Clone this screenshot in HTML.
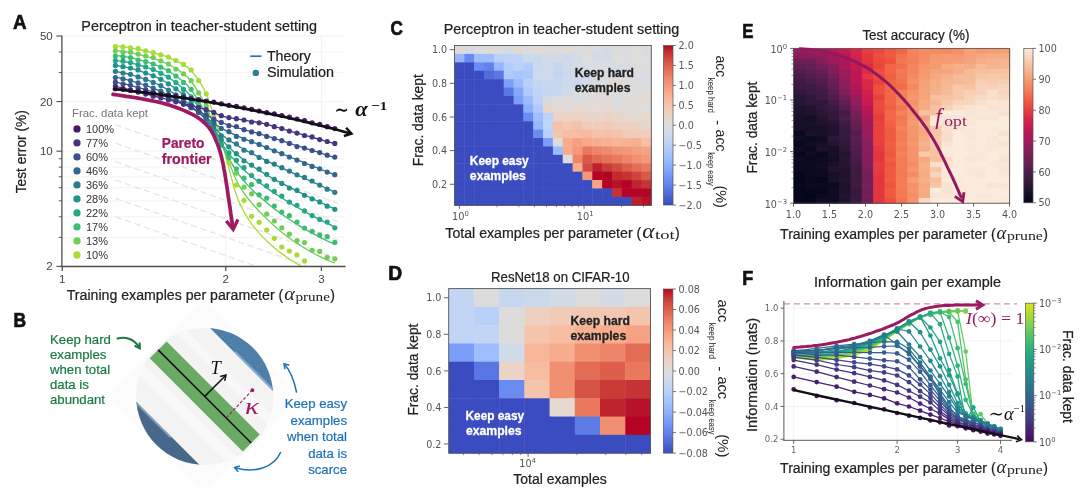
<!DOCTYPE html>
<html lang="en"><head><meta charset="utf-8"><title>Figure</title>
<style>html,body{margin:0;padding:0;background:#fff;}body{width:1080px;height:488px;overflow:hidden;}svg{display:block;}</style>
</head><body>
<svg width="1080" height="488" viewBox="0 0 1080 488">
<rect width="1080" height="488" fill="#ffffff"/>
<line x1="61.90" y1="36.00" x2="345.50" y2="36.00" stroke="#f0f0f0" stroke-width="0.8" />
<line x1="61.90" y1="51.97" x2="345.50" y2="51.97" stroke="#f0f0f0" stroke-width="0.8" />
<line x1="61.90" y1="72.56" x2="345.50" y2="72.56" stroke="#f0f0f0" stroke-width="0.8" />
<line x1="61.90" y1="101.58" x2="345.50" y2="101.58" stroke="#f0f0f0" stroke-width="0.8" />
<line x1="61.90" y1="151.19" x2="345.50" y2="151.19" stroke="#f0f0f0" stroke-width="0.8" />
<line x1="61.90" y1="158.73" x2="345.50" y2="158.73" stroke="#f0f0f0" stroke-width="0.8" />
<line x1="61.90" y1="167.16" x2="345.50" y2="167.16" stroke="#f0f0f0" stroke-width="0.8" />
<line x1="61.90" y1="176.72" x2="345.50" y2="176.72" stroke="#f0f0f0" stroke-width="0.8" />
<line x1="61.90" y1="187.75" x2="345.50" y2="187.75" stroke="#f0f0f0" stroke-width="0.8" />
<line x1="61.90" y1="200.80" x2="345.50" y2="200.80" stroke="#f0f0f0" stroke-width="0.8" />
<line x1="61.90" y1="216.77" x2="345.50" y2="216.77" stroke="#f0f0f0" stroke-width="0.8" />
<line x1="61.90" y1="237.36" x2="345.50" y2="237.36" stroke="#f0f0f0" stroke-width="0.8" />
<line x1="225.76" y1="36.00" x2="225.76" y2="266.50" stroke="#efefef" stroke-width="0.8" />
<line x1="321.38" y1="36.00" x2="321.38" y2="266.50" stroke="#efefef" stroke-width="0.8" />
<line x1="115.50" y1="124.80" x2="338.00" y2="203.12" stroke="#e5e5e5" stroke-width="1.25" stroke-dasharray="6.5 3.5"/>
<line x1="115.50" y1="143.20" x2="338.00" y2="221.52" stroke="#e5e5e5" stroke-width="1.25" stroke-dasharray="6.5 3.5"/>
<line x1="115.50" y1="161.60" x2="338.00" y2="239.92" stroke="#e5e5e5" stroke-width="1.25" stroke-dasharray="6.5 3.5"/>
<line x1="115.50" y1="180.00" x2="338.00" y2="258.32" stroke="#e5e5e5" stroke-width="1.25" stroke-dasharray="6.5 3.5"/>
<line x1="115.50" y1="198.40" x2="306.13" y2="265.50" stroke="#e5e5e5" stroke-width="1.25" stroke-dasharray="6.5 3.5"/>
<line x1="115.50" y1="216.80" x2="253.85" y2="265.50" stroke="#e5e5e5" stroke-width="1.25" stroke-dasharray="6.5 3.5"/>
<clipPath id="clipA"><rect x="61.9" y="33.0" width="283.6" height="234.1"/></clipPath>
<g clip-path="url(#clipA)">
<path d="M115.4,46.0 L117.2,46.2 L119.1,46.3 L120.9,46.5 L122.8,46.7 L124.6,47.0 L126.5,47.2 L128.3,47.5 L130.1,47.8 L132.0,48.2 L133.8,48.5 L135.7,48.8 L137.5,49.2 L139.4,49.6 L141.2,50.0 L143.1,50.4 L144.9,50.8 L146.7,51.2 L148.6,51.7 L150.4,52.1 L152.3,52.5 L154.1,53.0 L156.0,53.5 L157.8,54.0 L159.6,54.5 L161.5,55.1 L163.3,55.6 L165.2,56.2 L167.0,56.9 L168.9,57.6 L170.7,58.3 L172.6,59.1 L174.4,59.9 L176.2,60.7 L178.1,61.6 L179.9,62.6 L181.8,63.6 L183.6,64.7 L185.5,65.8 L187.3,67.1 L189.1,68.7 L191.0,70.5 L192.8,72.5 L194.7,74.8 L196.5,77.2 L198.4,79.9 L200.2,82.7 L202.1,85.8 L203.9,89.0 L205.7,92.5 L207.6,97.0 L209.4,102.3 L211.3,108.0 L213.1,113.6 L215.0,119.3 L216.8,125.2 L218.6,131.2 L220.5,137.3 L222.3,143.5 L224.2,150.2 L226.0,157.1 L227.9,164.3 L229.7,171.4 L231.6,178.3 L233.4,185.0 L235.2,191.2 L237.1,196.8 L238.9,201.6 L240.8,205.6 L242.6,209.2 L244.5,212.6 L246.3,215.8 L248.1,218.7 L250.0,221.5 L251.8,224.1 L253.7,226.6 L255.5,228.9 L257.4,231.1 L259.2,233.1 L261.1,235.1 L262.9,237.1 L264.7,238.9 L266.6,240.7 L268.4,242.5 L270.3,244.2 L272.1,245.8 L274.0,247.4 L275.8,248.9 L277.6,250.4 L279.5,251.9 L281.3,253.3 L283.2,254.6 L285.0,255.9 L286.9,257.2 L288.7,258.5 L290.6,259.7 L292.4,260.9 L294.2,262.0 L296.1,263.2 L297.9,264.3 L299.8,265.4 L301.6,266.5 L303.5,267.5 L305.3,268.6 L307.1,269.6 L309.0,270.6 L310.8,271.6 L312.7,272.6 L314.5,273.5 L316.4,274.4 L318.2,275.3 L320.1,276.2 L321.9,277.0 L323.7,277.8 L325.6,278.6 L327.4,279.3 L329.3,280.0 L331.1,280.7 L333.0,281.3 L334.8,281.9" stroke="#a8db34" stroke-width="1.3" fill="none" />
<path d="M115.4,50.8 L117.2,50.9 L119.1,51.1 L120.9,51.2 L122.8,51.4 L124.6,51.7 L126.5,52.0 L128.3,52.3 L130.1,52.6 L132.0,53.0 L133.8,53.4 L135.7,53.8 L137.5,54.2 L139.4,54.7 L141.2,55.1 L143.1,55.6 L144.9,56.1 L146.7,56.6 L148.6,57.1 L150.4,57.6 L152.3,58.2 L154.1,58.7 L156.0,59.3 L157.8,60.0 L159.6,60.7 L161.5,61.4 L163.3,62.2 L165.2,63.0 L167.0,63.8 L168.9,64.7 L170.7,65.7 L172.6,66.7 L174.4,67.8 L176.2,68.9 L178.1,70.1 L179.9,71.3 L181.8,72.6 L183.6,73.9 L185.5,75.4 L187.3,77.0 L189.1,79.0 L191.0,81.2 L192.8,83.6 L194.7,86.3 L196.5,89.1 L198.4,92.2 L200.2,95.3 L202.1,98.6 L203.9,102.0 L205.7,105.4 L207.6,109.5 L209.4,114.1 L211.3,118.7 L213.1,123.3 L215.0,127.7 L216.8,132.0 L218.6,136.4 L220.5,140.8 L222.3,145.2 L224.2,149.9 L226.0,154.6 L227.9,159.4 L229.7,164.2 L231.6,168.9 L233.4,173.4 L235.2,177.7 L237.1,181.6 L238.9,185.2 L240.8,188.2 L242.6,191.1 L244.5,193.8 L246.3,196.3 L248.1,198.7 L250.0,201.0 L251.8,203.2 L253.7,205.3 L255.5,207.3 L257.4,209.3 L259.2,211.2 L261.1,213.1 L262.9,215.0 L264.7,216.8 L266.6,218.6 L268.4,220.4 L270.3,222.1 L272.1,223.9 L274.0,225.5 L275.8,227.2 L277.6,228.8 L279.5,230.4 L281.3,231.9 L283.2,233.4 L285.0,234.8 L286.9,236.3 L288.7,237.6 L290.6,239.0 L292.4,240.3 L294.2,241.5 L296.1,242.7 L297.9,243.9 L299.8,245.1 L301.6,246.2 L303.5,247.4 L305.3,248.5 L307.1,249.6 L309.0,250.7 L310.8,251.7 L312.7,252.8 L314.5,253.8 L316.4,254.8 L318.2,255.7 L320.1,256.6 L321.9,257.5 L323.7,258.4 L325.6,259.3 L327.4,260.1 L329.3,260.8 L331.1,261.6 L333.0,262.3 L334.8,262.9" stroke="#6ece58" stroke-width="1.3" fill="none" />
<path d="M115.4,55.7 L117.2,55.8 L119.1,55.9 L120.9,56.1 L122.8,56.3 L124.6,56.6 L126.5,56.9 L128.3,57.2 L130.1,57.6 L132.0,58.0 L133.8,58.4 L135.7,58.9 L137.5,59.4 L139.4,59.9 L141.2,60.4 L143.1,60.9 L144.9,61.5 L146.7,62.0 L148.6,62.6 L150.4,63.1 L152.3,63.7 L154.1,64.4 L156.0,65.1 L157.8,65.8 L159.6,66.6 L161.5,67.5 L163.3,68.4 L165.2,69.3 L167.0,70.3 L168.9,71.4 L170.7,72.5 L172.6,73.7 L174.4,74.9 L176.2,76.2 L178.1,77.5 L179.9,78.9 L181.8,80.3 L183.6,81.8 L185.5,83.4 L187.3,85.2 L189.1,87.3 L191.0,89.6 L192.8,92.1 L194.7,94.8 L196.5,97.7 L198.4,100.7 L200.2,103.8 L202.1,106.9 L203.9,110.1 L205.7,113.3 L207.6,116.8 L209.4,120.6 L211.3,124.5 L213.1,128.2 L215.0,132.0 L216.8,135.7 L218.6,139.5 L220.5,143.0 L222.3,146.5 L224.2,149.9 L226.0,153.3 L227.9,156.6 L229.7,159.9 L231.6,163.1 L233.4,166.2 L235.2,169.2 L237.1,172.0 L238.9,174.6 L240.8,177.0 L242.6,179.3 L244.5,181.5 L246.3,183.6 L248.1,185.6 L250.0,187.5 L251.8,189.4 L253.7,191.2 L255.5,192.9 L257.4,194.6 L259.2,196.3 L261.1,197.9 L262.9,199.5 L264.7,201.1 L266.6,202.6 L268.4,204.1 L270.3,205.6 L272.1,207.1 L274.0,208.5 L275.8,209.9 L277.6,211.2 L279.5,212.6 L281.3,213.9 L283.2,215.2 L285.0,216.5 L286.9,217.7 L288.7,219.0 L290.6,220.2 L292.4,221.4 L294.2,222.5 L296.1,223.7 L297.9,224.8 L299.8,225.9 L301.6,227.1 L303.5,228.2 L305.3,229.2 L307.1,230.3 L309.0,231.4 L310.8,232.4 L312.7,233.4 L314.5,234.4 L316.4,235.4 L318.2,236.4 L320.1,237.4 L321.9,238.3 L323.7,239.2 L325.6,240.1 L327.4,241.0 L329.3,241.9 L331.1,242.7 L333.0,243.5 L334.8,244.3" stroke="#3fbc73" stroke-width="1.3" fill="none" />
<path d="M115.4,60.7 L117.2,60.8 L119.1,60.9 L120.9,61.1 L122.8,61.4 L124.6,61.7 L126.5,62.0 L128.3,62.3 L130.1,62.7 L132.0,63.2 L133.8,63.6 L135.7,64.1 L137.5,64.6 L139.4,65.2 L141.2,65.7 L143.1,66.3 L144.9,66.9 L146.7,67.4 L148.6,68.0 L150.4,68.6 L152.3,69.3 L154.1,70.0 L156.0,70.8 L157.8,71.6 L159.6,72.5 L161.5,73.4 L163.3,74.4 L165.2,75.5 L167.0,76.6 L168.9,77.7 L170.7,78.9 L172.6,80.2 L174.4,81.5 L176.2,82.9 L178.1,84.3 L179.9,85.7 L181.8,87.2 L183.6,88.8 L185.5,90.4 L187.3,92.2 L189.1,94.3 L191.0,96.5 L192.8,98.9 L194.7,101.5 L196.5,104.2 L198.4,106.9 L200.2,109.7 L202.1,112.5 L203.9,115.3 L205.7,118.1 L207.6,121.0 L209.4,124.1 L211.3,127.2 L213.1,130.2 L215.0,133.3 L216.8,136.4 L218.6,139.4 L220.5,142.3 L222.3,144.9 L224.2,147.4 L226.0,149.8 L227.9,152.2 L229.7,154.5 L231.6,156.8 L233.4,158.9 L235.2,161.0 L237.1,163.0 L238.9,164.9 L240.8,166.8 L242.6,168.5 L244.5,170.3 L246.3,171.9 L248.1,173.6 L250.0,175.1 L251.8,176.6 L253.7,178.1 L255.5,179.6 L257.4,181.0 L259.2,182.4 L261.1,183.8 L262.9,185.1 L264.7,186.5 L266.6,187.8 L268.4,189.1 L270.3,190.4 L272.1,191.6 L274.0,192.9 L275.8,194.1 L277.6,195.3 L279.5,196.5 L281.3,197.7 L283.2,198.8 L285.0,200.0 L286.9,201.1 L288.7,202.3 L290.6,203.4 L292.4,204.5 L294.2,205.6 L296.1,206.6 L297.9,207.7 L299.8,208.8 L301.6,209.8 L303.5,210.9 L305.3,211.9 L307.1,212.9 L309.0,213.9 L310.8,214.9 L312.7,215.9 L314.5,216.9 L316.4,217.9 L318.2,218.8 L320.1,219.8 L321.9,220.7 L323.7,221.6 L325.6,222.5 L327.4,223.4 L329.3,224.3 L331.1,225.2 L333.0,226.1 L334.8,226.9" stroke="#22a884" stroke-width="1.3" fill="none" />
<path d="M115.4,65.6 L117.2,65.8 L119.1,66.0 L120.9,66.3 L122.8,66.6 L124.6,66.9 L126.5,67.3 L128.3,67.7 L130.1,68.2 L132.0,68.7 L133.8,69.2 L135.7,69.7 L137.5,70.3 L139.4,70.8 L141.2,71.4 L143.1,72.1 L144.9,72.7 L146.7,73.3 L148.6,74.0 L150.4,74.7 L152.3,75.4 L154.1,76.1 L156.0,76.9 L157.8,77.8 L159.6,78.7 L161.5,79.7 L163.3,80.7 L165.2,81.8 L167.0,82.9 L168.9,84.1 L170.7,85.3 L172.6,86.5 L174.4,87.8 L176.2,89.2 L178.1,90.5 L179.9,91.9 L181.8,93.4 L183.6,94.9 L185.5,96.4 L187.3,98.0 L189.1,99.9 L191.0,101.9 L192.8,104.0 L194.7,106.2 L196.5,108.4 L198.4,110.7 L200.2,113.1 L202.1,115.4 L203.9,117.7 L205.7,119.9 L207.6,122.2 L209.4,124.5 L211.3,126.8 L213.1,129.1 L215.0,131.5 L216.8,133.9 L218.6,136.2 L220.5,138.4 L222.3,140.5 L224.2,142.4 L226.0,144.3 L227.9,146.2 L229.7,147.9 L231.6,149.7 L233.4,151.4 L235.2,153.0 L237.1,154.6 L238.9,156.1 L240.8,157.6 L242.6,159.1 L244.5,160.5 L246.3,161.8 L248.1,163.2 L250.0,164.5 L251.8,165.7 L253.7,167.0 L255.5,168.2 L257.4,169.3 L259.2,170.5 L261.1,171.6 L262.9,172.8 L264.7,173.9 L266.6,174.9 L268.4,176.0 L270.3,177.0 L272.1,178.1 L274.0,179.1 L275.8,180.1 L277.6,181.1 L279.5,182.0 L281.3,183.0 L283.2,184.0 L285.0,184.9 L286.9,185.9 L288.7,186.8 L290.6,187.7 L292.4,188.7 L294.2,189.6 L296.1,190.5 L297.9,191.5 L299.8,192.4 L301.6,193.3 L303.5,194.2 L305.3,195.1 L307.1,196.1 L309.0,197.0 L310.8,197.8 L312.7,198.7 L314.5,199.6 L316.4,200.5 L318.2,201.4 L320.1,202.2 L321.9,203.1 L323.7,203.9 L325.6,204.8 L327.4,205.6 L329.3,206.5 L331.1,207.3 L333.0,208.1 L334.8,208.9" stroke="#20928c" stroke-width="1.3" fill="none" />
<path d="M115.4,71.5 L117.2,71.8 L119.1,72.1 L120.9,72.4 L122.8,72.8 L124.6,73.2 L126.5,73.6 L128.3,74.0 L130.1,74.5 L132.0,75.0 L133.8,75.6 L135.7,76.1 L137.5,76.7 L139.4,77.3 L141.2,77.9 L143.1,78.5 L144.9,79.2 L146.7,79.8 L148.6,80.5 L150.4,81.2 L152.3,81.9 L154.1,82.6 L156.0,83.5 L157.8,84.3 L159.6,85.2 L161.5,86.2 L163.3,87.2 L165.2,88.2 L167.0,89.2 L168.9,90.3 L170.7,91.5 L172.6,92.6 L174.4,93.8 L176.2,95.0 L178.1,96.2 L179.9,97.5 L181.8,98.7 L183.6,100.0 L185.5,101.3 L187.3,102.7 L189.1,104.2 L191.0,105.7 L192.8,107.3 L194.7,108.9 L196.5,110.6 L198.4,112.3 L200.2,114.1 L202.1,115.8 L203.9,117.5 L205.7,119.2 L207.6,120.9 L209.4,122.6 L211.3,124.3 L213.1,126.1 L215.0,128.0 L216.8,129.9 L218.6,131.8 L220.5,133.6 L222.3,135.1 L224.2,136.5 L226.0,137.9 L227.9,139.3 L229.7,140.5 L231.6,141.8 L233.4,142.9 L235.2,144.1 L237.1,145.2 L238.9,146.4 L240.8,147.5 L242.6,148.5 L244.5,149.6 L246.3,150.6 L248.1,151.6 L250.0,152.5 L251.8,153.5 L253.7,154.4 L255.5,155.4 L257.4,156.3 L259.2,157.2 L261.1,158.1 L262.9,159.0 L264.7,159.9 L266.6,160.8 L268.4,161.7 L270.3,162.6 L272.1,163.5 L274.0,164.3 L275.8,165.2 L277.6,166.0 L279.5,166.9 L281.3,167.7 L283.2,168.6 L285.0,169.4 L286.9,170.3 L288.7,171.1 L290.6,172.0 L292.4,172.8 L294.2,173.7 L296.1,174.5 L297.9,175.3 L299.8,176.2 L301.6,177.0 L303.5,177.9 L305.3,178.7 L307.1,179.5 L309.0,180.4 L310.8,181.2 L312.7,182.0 L314.5,182.9 L316.4,183.7 L318.2,184.5 L320.1,185.4 L321.9,186.2 L323.7,187.0 L325.6,187.8 L327.4,188.7 L329.3,189.5 L331.1,190.3 L333.0,191.1 L334.8,191.9" stroke="#287d8e" stroke-width="1.3" fill="none" />
<path d="M115.4,77.1 L117.2,77.4 L119.1,77.8 L120.9,78.2 L122.8,78.7 L124.6,79.1 L126.5,79.6 L128.3,80.1 L130.1,80.6 L132.0,81.1 L133.8,81.6 L135.7,82.2 L137.5,82.8 L139.4,83.4 L141.2,84.0 L143.1,84.6 L144.9,85.2 L146.7,85.8 L148.6,86.5 L150.4,87.2 L152.3,87.8 L154.1,88.6 L156.0,89.3 L157.8,90.1 L159.6,90.9 L161.5,91.7 L163.3,92.6 L165.2,93.5 L167.0,94.4 L168.9,95.3 L170.7,96.2 L172.6,97.2 L174.4,98.2 L176.2,99.2 L178.1,100.2 L179.9,101.2 L181.8,102.2 L183.6,103.2 L185.5,104.3 L187.3,105.3 L189.1,106.5 L191.0,107.6 L192.8,108.8 L194.7,110.0 L196.5,111.3 L198.4,112.5 L200.2,113.8 L202.1,115.0 L203.9,116.3 L205.7,117.5 L207.6,118.8 L209.4,120.0 L211.3,121.3 L213.1,122.6 L215.0,123.9 L216.8,125.2 L218.6,126.5 L220.5,127.7 L222.3,128.8 L224.2,129.7 L226.0,130.7 L227.9,131.6 L229.7,132.5 L231.6,133.3 L233.4,134.1 L235.2,134.9 L237.1,135.7 L238.9,136.5 L240.8,137.3 L242.6,138.1 L244.5,138.9 L246.3,139.6 L248.1,140.4 L250.0,141.1 L251.8,141.8 L253.7,142.5 L255.5,143.2 L257.4,144.0 L259.2,144.7 L261.1,145.4 L262.9,146.2 L264.7,146.9 L266.6,147.6 L268.4,148.4 L270.3,149.1 L272.1,149.8 L274.0,150.6 L275.8,151.3 L277.6,152.1 L279.5,152.8 L281.3,153.5 L283.2,154.3 L285.0,155.0 L286.9,155.7 L288.7,156.5 L290.6,157.2 L292.4,158.0 L294.2,158.7 L296.1,159.4 L297.9,160.2 L299.8,160.9 L301.6,161.6 L303.5,162.4 L305.3,163.1 L307.1,163.9 L309.0,164.6 L310.8,165.3 L312.7,166.1 L314.5,166.8 L316.4,167.5 L318.2,168.3 L320.1,169.0 L321.9,169.8 L323.7,170.5 L325.6,171.2 L327.4,172.0 L329.3,172.7 L331.1,173.4 L333.0,174.2 L334.8,174.9" stroke="#31678e" stroke-width="1.3" fill="none" />
<path d="M115.4,82.1 L117.2,82.4 L119.1,82.8 L120.9,83.2 L122.8,83.6 L124.6,84.0 L126.5,84.4 L128.3,84.9 L130.1,85.3 L132.0,85.8 L133.8,86.3 L135.7,86.8 L137.5,87.3 L139.4,87.8 L141.2,88.3 L143.1,88.9 L144.9,89.4 L146.7,90.0 L148.6,90.6 L150.4,91.1 L152.3,91.7 L154.1,92.4 L156.0,93.0 L157.8,93.7 L159.6,94.3 L161.5,95.1 L163.3,95.8 L165.2,96.5 L167.0,97.3 L168.9,98.0 L170.7,98.8 L172.6,99.6 L174.4,100.4 L176.2,101.2 L178.1,102.0 L179.9,102.8 L181.8,103.6 L183.6,104.4 L185.5,105.2 L187.3,106.0 L189.1,106.9 L191.0,107.7 L192.8,108.6 L194.7,109.5 L196.5,110.4 L198.4,111.3 L200.2,112.2 L202.1,113.1 L203.9,114.0 L205.7,114.9 L207.6,115.8 L209.4,116.7 L211.3,117.6 L213.1,118.6 L215.0,119.5 L216.8,120.4 L218.6,121.3 L220.5,122.1 L222.3,122.8 L224.2,123.5 L226.0,124.2 L227.9,124.8 L229.7,125.4 L231.6,126.0 L233.4,126.5 L235.2,127.1 L237.1,127.6 L238.9,128.2 L240.8,128.7 L242.6,129.3 L244.5,129.8 L246.3,130.3 L248.1,130.8 L250.0,131.3 L251.8,131.8 L253.7,132.2 L255.5,132.7 L257.4,133.2 L259.2,133.8 L261.1,134.3 L262.9,134.9 L264.7,135.4 L266.6,136.0 L268.4,136.5 L270.3,137.1 L272.1,137.7 L274.0,138.3 L275.8,138.9 L277.6,139.4 L279.5,140.0 L281.3,140.6 L283.2,141.2 L285.0,141.8 L286.9,142.4 L288.7,143.0 L290.6,143.6 L292.4,144.2 L294.2,144.8 L296.1,145.3 L297.9,145.9 L299.8,146.5 L301.6,147.1 L303.5,147.7 L305.3,148.2 L307.1,148.8 L309.0,149.4 L310.8,150.0 L312.7,150.6 L314.5,151.1 L316.4,151.7 L318.2,152.3 L320.1,152.9 L321.9,153.5 L323.7,154.0 L325.6,154.6 L327.4,155.2 L329.3,155.8 L331.1,156.4 L333.0,157.0 L334.8,157.5" stroke="#3c4f8a" stroke-width="1.3" fill="none" />
<path d="M115.4,86.1 L117.2,86.6 L119.1,87.1 L120.9,87.5 L122.8,88.0 L124.6,88.5 L126.5,88.9 L128.3,89.4 L130.1,89.9 L132.0,90.4 L133.8,90.8 L135.7,91.3 L137.5,91.8 L139.4,92.3 L141.2,92.7 L143.1,93.2 L144.9,93.7 L146.7,94.2 L148.6,94.6 L150.4,95.1 L152.3,95.6 L154.1,96.1 L156.0,96.5 L157.8,97.0 L159.6,97.5 L161.5,97.9 L163.3,98.4 L165.2,98.9 L167.0,99.3 L168.9,99.8 L170.7,100.3 L172.6,100.8 L174.4,101.2 L176.2,101.7 L178.1,102.2 L179.9,102.7 L181.8,103.1 L183.6,103.6 L185.5,104.1 L187.3,104.6 L189.1,105.1 L191.0,105.6 L192.8,106.1 L194.7,106.6 L196.5,107.1 L198.4,107.6 L200.2,108.1 L202.1,108.6 L203.9,109.2 L205.7,109.7 L207.6,110.3 L209.4,110.8 L211.3,111.4 L213.1,112.0 L215.0,112.9 L216.8,113.9 L218.6,114.8 L220.5,115.6 L222.3,116.2 L224.2,116.6 L226.0,117.1 L227.9,117.4 L229.7,117.8 L231.6,118.1 L233.4,118.4 L235.2,118.7 L237.1,119.0 L238.9,119.3 L240.8,119.6 L242.6,119.9 L244.5,120.2 L246.3,120.5 L248.1,120.8 L250.0,121.1 L251.8,121.4 L253.7,121.7 L255.5,122.0 L257.4,122.3 L259.2,122.6 L261.1,123.0 L262.9,123.4 L264.7,123.8 L266.6,124.3 L268.4,124.8 L270.3,125.3 L272.1,125.8 L274.0,126.3 L275.8,126.8 L277.6,127.4 L279.5,127.9 L281.3,128.5 L283.2,129.0 L285.0,129.6 L286.9,130.1 L288.7,130.7 L290.6,131.2 L292.4,131.8 L294.2,132.3 L296.1,132.8 L297.9,133.3 L299.8,133.8 L301.6,134.3 L303.5,134.9 L305.3,135.4 L307.1,135.9 L309.0,136.4 L310.8,136.9 L312.7,137.4 L314.5,138.0 L316.4,138.5 L318.2,139.0 L320.1,139.5 L321.9,140.0 L323.7,140.5 L325.6,141.1 L327.4,141.6 L329.3,142.1 L331.1,142.6 L333.0,143.1 L334.8,143.6" stroke="#463480" stroke-width="1.3" fill="none" />
<path d="M115.4,88.5 L117.2,88.7 L119.1,88.9 L120.9,89.1 L122.8,89.3 L124.6,89.5 L126.5,89.7 L128.3,89.9 L130.1,90.2 L132.0,90.4 L133.8,90.6 L135.7,90.8 L137.5,91.0 L139.4,91.2 L141.2,91.5 L143.1,91.7 L144.9,91.9 L146.7,92.1 L148.6,92.4 L150.4,92.6 L152.3,92.9 L154.1,93.1 L156.0,93.3 L157.8,93.6 L159.6,93.8 L161.5,94.1 L163.3,94.3 L165.2,94.6 L167.0,94.9 L168.9,95.1 L170.7,95.4 L172.6,95.6 L174.4,95.9 L176.2,96.2 L178.1,96.5 L179.9,96.7 L181.8,97.0 L183.6,97.3 L185.5,97.6 L187.3,97.9 L189.1,98.1 L191.0,98.4 L192.8,98.7 L194.7,99.0 L196.5,99.3 L198.4,99.6 L200.2,99.9 L202.1,100.2 L203.9,100.5 L205.7,100.8 L207.6,101.1 L209.4,101.5 L211.3,101.8 L213.1,102.1 L215.0,102.4 L216.8,102.7 L218.6,103.1 L220.5,103.4 L222.3,103.7 L224.2,104.1 L226.0,104.4 L227.9,104.7 L229.7,105.1 L231.6,105.4 L233.4,105.8 L235.2,106.1 L237.1,106.5 L238.9,106.8 L240.8,107.2 L242.6,107.5 L244.5,107.9 L246.3,108.2 L248.1,108.6 L250.0,109.0 L251.8,109.3 L253.7,109.7 L255.5,110.1 L257.4,110.5 L259.2,110.8 L261.1,111.2 L262.9,111.6 L264.7,112.0 L266.6,112.4 L268.4,112.8 L270.3,113.2 L272.1,113.6 L274.0,114.0 L275.8,114.4 L277.6,114.8 L279.5,115.2 L281.3,115.6 L283.2,116.0 L285.0,116.4 L286.9,116.8 L288.7,117.2 L290.6,117.6 L292.4,118.1 L294.2,118.5 L296.1,118.9 L297.9,119.3 L299.8,119.8 L301.6,120.2 L303.5,120.7 L305.3,121.1 L307.1,121.5 L309.0,122.0 L310.8,122.4 L312.7,122.9 L314.5,123.3 L316.4,123.8 L318.2,124.2 L320.1,124.7 L321.9,125.2 L323.7,125.6 L325.6,126.1 L327.4,126.5 L329.3,127.0 L331.1,127.5 L333.0,128.0 L334.8,128.4" stroke="#481769" stroke-width="1.3" fill="none" />
<circle cx="115.4" cy="46.7" r="2.6" fill="#a8db34"/>
<circle cx="123.0" cy="46.9" r="2.6" fill="#a8db34"/>
<circle cx="130.5" cy="47.9" r="2.6" fill="#a8db34"/>
<circle cx="138.1" cy="48.6" r="2.6" fill="#a8db34"/>
<circle cx="145.7" cy="50.9" r="2.6" fill="#a8db34"/>
<circle cx="153.2" cy="52.6" r="2.6" fill="#a8db34"/>
<circle cx="160.8" cy="54.8" r="2.6" fill="#a8db34"/>
<circle cx="168.4" cy="57.1" r="2.6" fill="#a8db34"/>
<circle cx="175.9" cy="60.5" r="2.6" fill="#a8db34"/>
<circle cx="183.5" cy="64.4" r="2.6" fill="#a8db34"/>
<circle cx="191.1" cy="70.0" r="2.6" fill="#a8db34"/>
<circle cx="198.6" cy="80.6" r="2.6" fill="#a8db34"/>
<circle cx="206.2" cy="93.8" r="2.6" fill="#a8db34"/>
<circle cx="213.8" cy="116.3" r="2.6" fill="#a8db34"/>
<circle cx="221.3" cy="140.1" r="2.6" fill="#a8db34"/>
<circle cx="228.9" cy="162.4" r="2.6" fill="#a8db34"/>
<circle cx="236.4" cy="185.0" r="2.6" fill="#a8db34"/>
<circle cx="244.0" cy="200.3" r="2.6" fill="#a8db34"/>
<circle cx="251.6" cy="216.3" r="2.6" fill="#a8db34"/>
<circle cx="259.1" cy="222.3" r="2.6" fill="#a8db34"/>
<circle cx="266.7" cy="230.0" r="2.6" fill="#a8db34"/>
<circle cx="274.3" cy="238.3" r="2.6" fill="#a8db34"/>
<circle cx="281.8" cy="247.0" r="2.6" fill="#a8db34"/>
<circle cx="289.4" cy="251.0" r="2.6" fill="#a8db34"/>
<circle cx="297.0" cy="254.9" r="2.6" fill="#a8db34"/>
<circle cx="304.5" cy="260.9" r="2.6" fill="#a8db34"/>
<circle cx="312.1" cy="268.3" r="2.6" fill="#a8db34"/>
<circle cx="115.4" cy="51.1" r="2.6" fill="#6ece58"/>
<circle cx="123.0" cy="52.2" r="2.6" fill="#6ece58"/>
<circle cx="130.5" cy="52.2" r="2.6" fill="#6ece58"/>
<circle cx="138.1" cy="54.1" r="2.6" fill="#6ece58"/>
<circle cx="145.7" cy="56.0" r="2.6" fill="#6ece58"/>
<circle cx="153.2" cy="57.5" r="2.6" fill="#6ece58"/>
<circle cx="160.8" cy="60.8" r="2.6" fill="#6ece58"/>
<circle cx="168.4" cy="64.1" r="2.6" fill="#6ece58"/>
<circle cx="175.9" cy="69.1" r="2.6" fill="#6ece58"/>
<circle cx="183.5" cy="73.8" r="2.6" fill="#6ece58"/>
<circle cx="191.1" cy="80.7" r="2.6" fill="#6ece58"/>
<circle cx="198.6" cy="92.8" r="2.6" fill="#6ece58"/>
<circle cx="206.2" cy="106.2" r="2.6" fill="#6ece58"/>
<circle cx="213.8" cy="124.1" r="2.6" fill="#6ece58"/>
<circle cx="221.3" cy="141.9" r="2.6" fill="#6ece58"/>
<circle cx="228.9" cy="157.8" r="2.6" fill="#6ece58"/>
<circle cx="236.4" cy="173.1" r="2.6" fill="#6ece58"/>
<circle cx="244.0" cy="187.2" r="2.6" fill="#6ece58"/>
<circle cx="251.6" cy="193.8" r="2.6" fill="#6ece58"/>
<circle cx="259.1" cy="204.7" r="2.6" fill="#6ece58"/>
<circle cx="266.7" cy="214.1" r="2.6" fill="#6ece58"/>
<circle cx="274.3" cy="221.0" r="2.6" fill="#6ece58"/>
<circle cx="281.8" cy="227.8" r="2.6" fill="#6ece58"/>
<circle cx="289.4" cy="234.1" r="2.6" fill="#6ece58"/>
<circle cx="297.0" cy="240.5" r="2.6" fill="#6ece58"/>
<circle cx="304.5" cy="242.5" r="2.6" fill="#6ece58"/>
<circle cx="312.1" cy="250.3" r="2.6" fill="#6ece58"/>
<circle cx="319.7" cy="251.4" r="2.6" fill="#6ece58"/>
<circle cx="327.2" cy="257.4" r="2.6" fill="#6ece58"/>
<circle cx="334.8" cy="258.8" r="2.6" fill="#6ece58"/>
<circle cx="115.4" cy="56.1" r="2.6" fill="#3fbc73"/>
<circle cx="123.0" cy="56.8" r="2.6" fill="#3fbc73"/>
<circle cx="130.5" cy="57.6" r="2.6" fill="#3fbc73"/>
<circle cx="138.1" cy="60.1" r="2.6" fill="#3fbc73"/>
<circle cx="145.7" cy="61.5" r="2.6" fill="#3fbc73"/>
<circle cx="153.2" cy="64.1" r="2.6" fill="#3fbc73"/>
<circle cx="160.8" cy="67.2" r="2.6" fill="#3fbc73"/>
<circle cx="168.4" cy="70.7" r="2.6" fill="#3fbc73"/>
<circle cx="175.9" cy="76.1" r="2.6" fill="#3fbc73"/>
<circle cx="183.5" cy="82.4" r="2.6" fill="#3fbc73"/>
<circle cx="191.1" cy="89.3" r="2.6" fill="#3fbc73"/>
<circle cx="198.6" cy="101.4" r="2.6" fill="#3fbc73"/>
<circle cx="206.2" cy="114.1" r="2.6" fill="#3fbc73"/>
<circle cx="213.8" cy="130.1" r="2.6" fill="#3fbc73"/>
<circle cx="221.3" cy="145.1" r="2.6" fill="#3fbc73"/>
<circle cx="228.9" cy="157.5" r="2.6" fill="#3fbc73"/>
<circle cx="236.4" cy="168.8" r="2.6" fill="#3fbc73"/>
<circle cx="244.0" cy="178.2" r="2.6" fill="#3fbc73"/>
<circle cx="251.6" cy="184.5" r="2.6" fill="#3fbc73"/>
<circle cx="259.1" cy="194.8" r="2.6" fill="#3fbc73"/>
<circle cx="266.7" cy="198.2" r="2.6" fill="#3fbc73"/>
<circle cx="274.3" cy="206.0" r="2.6" fill="#3fbc73"/>
<circle cx="281.8" cy="212.0" r="2.6" fill="#3fbc73"/>
<circle cx="289.4" cy="215.7" r="2.6" fill="#3fbc73"/>
<circle cx="297.0" cy="222.0" r="2.6" fill="#3fbc73"/>
<circle cx="304.5" cy="228.1" r="2.6" fill="#3fbc73"/>
<circle cx="312.1" cy="231.4" r="2.6" fill="#3fbc73"/>
<circle cx="319.7" cy="234.9" r="2.6" fill="#3fbc73"/>
<circle cx="327.2" cy="236.7" r="2.6" fill="#3fbc73"/>
<circle cx="334.8" cy="242.4" r="2.6" fill="#3fbc73"/>
<circle cx="115.4" cy="60.5" r="2.6" fill="#22a884"/>
<circle cx="123.0" cy="61.2" r="2.6" fill="#22a884"/>
<circle cx="130.5" cy="62.5" r="2.6" fill="#22a884"/>
<circle cx="138.1" cy="64.9" r="2.6" fill="#22a884"/>
<circle cx="145.7" cy="66.9" r="2.6" fill="#22a884"/>
<circle cx="153.2" cy="69.6" r="2.6" fill="#22a884"/>
<circle cx="160.8" cy="73.3" r="2.6" fill="#22a884"/>
<circle cx="168.4" cy="77.1" r="2.6" fill="#22a884"/>
<circle cx="175.9" cy="82.5" r="2.6" fill="#22a884"/>
<circle cx="183.5" cy="89.4" r="2.6" fill="#22a884"/>
<circle cx="191.1" cy="96.9" r="2.6" fill="#22a884"/>
<circle cx="198.6" cy="106.9" r="2.6" fill="#22a884"/>
<circle cx="206.2" cy="118.8" r="2.6" fill="#22a884"/>
<circle cx="213.8" cy="131.4" r="2.6" fill="#22a884"/>
<circle cx="221.3" cy="144.6" r="2.6" fill="#22a884"/>
<circle cx="228.9" cy="152.8" r="2.6" fill="#22a884"/>
<circle cx="236.4" cy="160.3" r="2.6" fill="#22a884"/>
<circle cx="244.0" cy="167.7" r="2.6" fill="#22a884"/>
<circle cx="251.6" cy="175.5" r="2.6" fill="#22a884"/>
<circle cx="259.1" cy="181.2" r="2.6" fill="#22a884"/>
<circle cx="266.7" cy="185.9" r="2.6" fill="#22a884"/>
<circle cx="274.3" cy="191.4" r="2.6" fill="#22a884"/>
<circle cx="281.8" cy="196.1" r="2.6" fill="#22a884"/>
<circle cx="289.4" cy="202.0" r="2.6" fill="#22a884"/>
<circle cx="297.0" cy="205.3" r="2.6" fill="#22a884"/>
<circle cx="304.5" cy="210.9" r="2.6" fill="#22a884"/>
<circle cx="312.1" cy="215.6" r="2.6" fill="#22a884"/>
<circle cx="319.7" cy="219.4" r="2.6" fill="#22a884"/>
<circle cx="327.2" cy="222.1" r="2.6" fill="#22a884"/>
<circle cx="334.8" cy="227.8" r="2.6" fill="#22a884"/>
<circle cx="115.4" cy="65.4" r="2.6" fill="#20928c"/>
<circle cx="123.0" cy="66.7" r="2.6" fill="#20928c"/>
<circle cx="130.5" cy="68.1" r="2.6" fill="#20928c"/>
<circle cx="138.1" cy="69.9" r="2.6" fill="#20928c"/>
<circle cx="145.7" cy="73.0" r="2.6" fill="#20928c"/>
<circle cx="153.2" cy="75.8" r="2.6" fill="#20928c"/>
<circle cx="160.8" cy="79.3" r="2.6" fill="#20928c"/>
<circle cx="168.4" cy="83.8" r="2.6" fill="#20928c"/>
<circle cx="175.9" cy="88.8" r="2.6" fill="#20928c"/>
<circle cx="183.5" cy="94.6" r="2.6" fill="#20928c"/>
<circle cx="191.1" cy="101.9" r="2.6" fill="#20928c"/>
<circle cx="198.6" cy="111.6" r="2.6" fill="#20928c"/>
<circle cx="206.2" cy="120.7" r="2.6" fill="#20928c"/>
<circle cx="213.8" cy="129.8" r="2.6" fill="#20928c"/>
<circle cx="221.3" cy="139.8" r="2.6" fill="#20928c"/>
<circle cx="228.9" cy="146.8" r="2.6" fill="#20928c"/>
<circle cx="236.4" cy="153.7" r="2.6" fill="#20928c"/>
<circle cx="244.0" cy="160.8" r="2.6" fill="#20928c"/>
<circle cx="251.6" cy="165.1" r="2.6" fill="#20928c"/>
<circle cx="259.1" cy="169.2" r="2.6" fill="#20928c"/>
<circle cx="266.7" cy="174.3" r="2.6" fill="#20928c"/>
<circle cx="274.3" cy="179.3" r="2.6" fill="#20928c"/>
<circle cx="281.8" cy="183.4" r="2.6" fill="#20928c"/>
<circle cx="289.4" cy="188.1" r="2.6" fill="#20928c"/>
<circle cx="297.0" cy="190.4" r="2.6" fill="#20928c"/>
<circle cx="304.5" cy="195.3" r="2.6" fill="#20928c"/>
<circle cx="312.1" cy="198.8" r="2.6" fill="#20928c"/>
<circle cx="319.7" cy="201.9" r="2.6" fill="#20928c"/>
<circle cx="327.2" cy="206.2" r="2.6" fill="#20928c"/>
<circle cx="334.8" cy="209.3" r="2.6" fill="#20928c"/>
<circle cx="115.4" cy="71.3" r="2.6" fill="#287d8e"/>
<circle cx="123.0" cy="73.1" r="2.6" fill="#287d8e"/>
<circle cx="130.5" cy="74.3" r="2.6" fill="#287d8e"/>
<circle cx="138.1" cy="76.9" r="2.6" fill="#287d8e"/>
<circle cx="145.7" cy="79.4" r="2.6" fill="#287d8e"/>
<circle cx="153.2" cy="82.4" r="2.6" fill="#287d8e"/>
<circle cx="160.8" cy="85.6" r="2.6" fill="#287d8e"/>
<circle cx="168.4" cy="90.0" r="2.6" fill="#287d8e"/>
<circle cx="175.9" cy="94.8" r="2.6" fill="#287d8e"/>
<circle cx="183.5" cy="100.2" r="2.6" fill="#287d8e"/>
<circle cx="191.1" cy="105.5" r="2.6" fill="#287d8e"/>
<circle cx="198.6" cy="112.6" r="2.6" fill="#287d8e"/>
<circle cx="206.2" cy="119.5" r="2.6" fill="#287d8e"/>
<circle cx="213.8" cy="126.4" r="2.6" fill="#287d8e"/>
<circle cx="221.3" cy="135.9" r="2.6" fill="#287d8e"/>
<circle cx="228.9" cy="139.9" r="2.6" fill="#287d8e"/>
<circle cx="236.4" cy="143.9" r="2.6" fill="#287d8e"/>
<circle cx="244.0" cy="150.2" r="2.6" fill="#287d8e"/>
<circle cx="251.6" cy="152.7" r="2.6" fill="#287d8e"/>
<circle cx="259.1" cy="157.4" r="2.6" fill="#287d8e"/>
<circle cx="266.7" cy="161.4" r="2.6" fill="#287d8e"/>
<circle cx="274.3" cy="164.1" r="2.6" fill="#287d8e"/>
<circle cx="281.8" cy="167.7" r="2.6" fill="#287d8e"/>
<circle cx="289.4" cy="171.1" r="2.6" fill="#287d8e"/>
<circle cx="297.0" cy="174.8" r="2.6" fill="#287d8e"/>
<circle cx="304.5" cy="177.4" r="2.6" fill="#287d8e"/>
<circle cx="312.1" cy="181.0" r="2.6" fill="#287d8e"/>
<circle cx="319.7" cy="185.1" r="2.6" fill="#287d8e"/>
<circle cx="327.2" cy="189.2" r="2.6" fill="#287d8e"/>
<circle cx="334.8" cy="192.3" r="2.6" fill="#287d8e"/>
<circle cx="115.4" cy="77.5" r="2.6" fill="#31678e"/>
<circle cx="123.0" cy="78.9" r="2.6" fill="#31678e"/>
<circle cx="130.5" cy="80.6" r="2.6" fill="#31678e"/>
<circle cx="138.1" cy="82.9" r="2.6" fill="#31678e"/>
<circle cx="145.7" cy="85.0" r="2.6" fill="#31678e"/>
<circle cx="153.2" cy="88.0" r="2.6" fill="#31678e"/>
<circle cx="160.8" cy="91.2" r="2.6" fill="#31678e"/>
<circle cx="168.4" cy="95.1" r="2.6" fill="#31678e"/>
<circle cx="175.9" cy="99.1" r="2.6" fill="#31678e"/>
<circle cx="183.5" cy="103.0" r="2.6" fill="#31678e"/>
<circle cx="191.1" cy="107.5" r="2.6" fill="#31678e"/>
<circle cx="198.6" cy="112.3" r="2.6" fill="#31678e"/>
<circle cx="206.2" cy="117.8" r="2.6" fill="#31678e"/>
<circle cx="213.8" cy="123.1" r="2.6" fill="#31678e"/>
<circle cx="221.3" cy="128.4" r="2.6" fill="#31678e"/>
<circle cx="228.9" cy="131.7" r="2.6" fill="#31678e"/>
<circle cx="236.4" cy="136.4" r="2.6" fill="#31678e"/>
<circle cx="244.0" cy="139.3" r="2.6" fill="#31678e"/>
<circle cx="251.6" cy="141.7" r="2.6" fill="#31678e"/>
<circle cx="259.1" cy="144.4" r="2.6" fill="#31678e"/>
<circle cx="266.7" cy="147.5" r="2.6" fill="#31678e"/>
<circle cx="274.3" cy="150.8" r="2.6" fill="#31678e"/>
<circle cx="281.8" cy="153.7" r="2.6" fill="#31678e"/>
<circle cx="289.4" cy="157.0" r="2.6" fill="#31678e"/>
<circle cx="297.0" cy="160.1" r="2.6" fill="#31678e"/>
<circle cx="304.5" cy="163.5" r="2.6" fill="#31678e"/>
<circle cx="312.1" cy="166.4" r="2.6" fill="#31678e"/>
<circle cx="319.7" cy="168.8" r="2.6" fill="#31678e"/>
<circle cx="327.2" cy="172.1" r="2.6" fill="#31678e"/>
<circle cx="334.8" cy="174.7" r="2.6" fill="#31678e"/>
<circle cx="115.4" cy="82.0" r="2.6" fill="#3c4f8a"/>
<circle cx="123.0" cy="84.0" r="2.6" fill="#3c4f8a"/>
<circle cx="130.5" cy="85.3" r="2.6" fill="#3c4f8a"/>
<circle cx="138.1" cy="87.9" r="2.6" fill="#3c4f8a"/>
<circle cx="145.7" cy="89.6" r="2.6" fill="#3c4f8a"/>
<circle cx="153.2" cy="92.1" r="2.6" fill="#3c4f8a"/>
<circle cx="160.8" cy="95.0" r="2.6" fill="#3c4f8a"/>
<circle cx="168.4" cy="97.8" r="2.6" fill="#3c4f8a"/>
<circle cx="175.9" cy="101.1" r="2.6" fill="#3c4f8a"/>
<circle cx="183.5" cy="104.3" r="2.6" fill="#3c4f8a"/>
<circle cx="191.1" cy="107.7" r="2.6" fill="#3c4f8a"/>
<circle cx="198.6" cy="111.3" r="2.6" fill="#3c4f8a"/>
<circle cx="206.2" cy="115.0" r="2.6" fill="#3c4f8a"/>
<circle cx="213.8" cy="119.2" r="2.6" fill="#3c4f8a"/>
<circle cx="221.3" cy="122.4" r="2.6" fill="#3c4f8a"/>
<circle cx="228.9" cy="125.7" r="2.6" fill="#3c4f8a"/>
<circle cx="236.4" cy="126.5" r="2.6" fill="#3c4f8a"/>
<circle cx="244.0" cy="129.7" r="2.6" fill="#3c4f8a"/>
<circle cx="251.6" cy="131.9" r="2.6" fill="#3c4f8a"/>
<circle cx="259.1" cy="133.7" r="2.6" fill="#3c4f8a"/>
<circle cx="266.7" cy="136.4" r="2.6" fill="#3c4f8a"/>
<circle cx="274.3" cy="138.6" r="2.6" fill="#3c4f8a"/>
<circle cx="281.8" cy="140.7" r="2.6" fill="#3c4f8a"/>
<circle cx="289.4" cy="143.4" r="2.6" fill="#3c4f8a"/>
<circle cx="297.0" cy="146.6" r="2.6" fill="#3c4f8a"/>
<circle cx="304.5" cy="148.1" r="2.6" fill="#3c4f8a"/>
<circle cx="312.1" cy="150.5" r="2.6" fill="#3c4f8a"/>
<circle cx="319.7" cy="152.6" r="2.6" fill="#3c4f8a"/>
<circle cx="327.2" cy="155.2" r="2.6" fill="#3c4f8a"/>
<circle cx="334.8" cy="157.1" r="2.6" fill="#3c4f8a"/>
<circle cx="115.4" cy="86.1" r="2.6" fill="#463480"/>
<circle cx="123.0" cy="88.5" r="2.6" fill="#463480"/>
<circle cx="130.5" cy="90.2" r="2.6" fill="#463480"/>
<circle cx="138.1" cy="92.1" r="2.6" fill="#463480"/>
<circle cx="145.7" cy="94.1" r="2.6" fill="#463480"/>
<circle cx="153.2" cy="96.2" r="2.6" fill="#463480"/>
<circle cx="160.8" cy="97.9" r="2.6" fill="#463480"/>
<circle cx="168.4" cy="100.0" r="2.6" fill="#463480"/>
<circle cx="175.9" cy="101.8" r="2.6" fill="#463480"/>
<circle cx="183.5" cy="103.6" r="2.6" fill="#463480"/>
<circle cx="191.1" cy="105.9" r="2.6" fill="#463480"/>
<circle cx="198.6" cy="107.3" r="2.6" fill="#463480"/>
<circle cx="206.2" cy="109.7" r="2.6" fill="#463480"/>
<circle cx="213.8" cy="112.4" r="2.6" fill="#463480"/>
<circle cx="221.3" cy="115.7" r="2.6" fill="#463480"/>
<circle cx="228.9" cy="117.6" r="2.6" fill="#463480"/>
<circle cx="236.4" cy="118.7" r="2.6" fill="#463480"/>
<circle cx="244.0" cy="120.0" r="2.6" fill="#463480"/>
<circle cx="251.6" cy="122.0" r="2.6" fill="#463480"/>
<circle cx="259.1" cy="122.8" r="2.6" fill="#463480"/>
<circle cx="266.7" cy="124.3" r="2.6" fill="#463480"/>
<circle cx="274.3" cy="126.7" r="2.6" fill="#463480"/>
<circle cx="281.8" cy="128.6" r="2.6" fill="#463480"/>
<circle cx="289.4" cy="131.1" r="2.6" fill="#463480"/>
<circle cx="297.0" cy="133.1" r="2.6" fill="#463480"/>
<circle cx="304.5" cy="135.5" r="2.6" fill="#463480"/>
<circle cx="312.1" cy="136.9" r="2.6" fill="#463480"/>
<circle cx="319.7" cy="139.6" r="2.6" fill="#463480"/>
<circle cx="327.2" cy="141.5" r="2.6" fill="#463480"/>
<circle cx="334.8" cy="143.4" r="2.6" fill="#463480"/>
<circle cx="115.4" cy="88.7" r="2.6" fill="#481769"/>
<circle cx="123.0" cy="89.2" r="2.6" fill="#481769"/>
<circle cx="130.5" cy="90.4" r="2.6" fill="#481769"/>
<circle cx="138.1" cy="91.2" r="2.6" fill="#481769"/>
<circle cx="145.7" cy="92.1" r="2.6" fill="#481769"/>
<circle cx="153.2" cy="93.0" r="2.6" fill="#481769"/>
<circle cx="160.8" cy="94.1" r="2.6" fill="#481769"/>
<circle cx="168.4" cy="94.8" r="2.6" fill="#481769"/>
<circle cx="175.9" cy="96.1" r="2.6" fill="#481769"/>
<circle cx="183.5" cy="97.2" r="2.6" fill="#481769"/>
<circle cx="191.1" cy="98.5" r="2.6" fill="#481769"/>
<circle cx="198.6" cy="99.6" r="2.6" fill="#481769"/>
<circle cx="206.2" cy="101.0" r="2.6" fill="#481769"/>
<circle cx="213.8" cy="102.1" r="2.6" fill="#481769"/>
<circle cx="221.3" cy="103.8" r="2.6" fill="#481769"/>
<circle cx="228.9" cy="105.3" r="2.6" fill="#481769"/>
<circle cx="236.4" cy="106.3" r="2.6" fill="#481769"/>
<circle cx="244.0" cy="107.8" r="2.6" fill="#481769"/>
<circle cx="251.6" cy="109.3" r="2.6" fill="#481769"/>
<circle cx="259.1" cy="111.0" r="2.6" fill="#481769"/>
<circle cx="266.7" cy="112.7" r="2.6" fill="#481769"/>
<circle cx="274.3" cy="113.8" r="2.6" fill="#481769"/>
<circle cx="281.8" cy="115.6" r="2.6" fill="#481769"/>
<circle cx="289.4" cy="117.2" r="2.6" fill="#481769"/>
<circle cx="297.0" cy="119.0" r="2.6" fill="#481769"/>
<circle cx="304.5" cy="120.7" r="2.6" fill="#481769"/>
<circle cx="312.1" cy="122.8" r="2.6" fill="#481769"/>
<circle cx="319.7" cy="124.4" r="2.6" fill="#481769"/>
<circle cx="327.2" cy="126.7" r="2.6" fill="#481769"/>
<circle cx="334.8" cy="128.6" r="2.6" fill="#481769"/>
</g>
<path d="M114.0,89.2 L120.1,89.8 L126.1,90.5 L132.2,91.2 L138.2,91.9 L144.3,92.6 L150.3,93.4 L156.4,94.2 L162.4,95.0 L168.5,95.9 L174.5,96.7 L180.6,97.6 L186.6,98.5 L192.7,99.5 L198.7,100.5 L204.8,101.5 L210.8,102.5 L216.9,103.5 L222.9,104.6 L229.0,105.7 L235.0,106.9 L241.1,108.0 L247.1,109.2 L253.2,110.4 L259.2,111.6 L265.3,112.9 L271.3,114.2 L277.4,115.5 L283.4,116.8 L289.5,118.2 L295.5,119.6 L301.6,121.0 L307.6,122.5 L313.7,123.9 L319.7,125.4 L325.8,126.9 L331.8,128.5 L337.9,130.1 L343.9,131.7 L350.0,133.3" stroke="#111" stroke-width="2.6" fill="none" stroke-linecap="round"/>
<path d="M343.9,136.0 L351.5,133.7 L346.1,127.8" stroke="#111" stroke-width="2.4" fill="none" stroke-linecap="butt" stroke-linejoin="miter" stroke-miterlimit="10"/>
<path d="M113.0,94.4 L117.6,95.0 L122.0,95.7 L126.2,96.3 L130.3,96.9 L134.2,97.5 L137.9,98.1 L141.4,98.8 L144.8,99.4 L148.0,100.0 L151.1,100.6 L154.1,101.2 L156.9,101.8 L159.6,102.4 L162.1,103.0 L164.5,103.7 L166.9,104.4 L169.1,105.0 L171.3,105.7 L173.4,106.5 L175.5,107.2 L177.6,108.0 L179.8,108.8 L181.8,109.6 L183.8,110.4 L185.7,111.2 L187.4,112.0 L189.1,112.8 L190.5,113.5 L191.9,114.1 L193.2,114.8 L194.5,115.5 L195.8,116.3 L197.3,117.3 L199.0,118.4 L200.8,119.8 L202.7,121.3 L204.6,123.0 L206.4,124.7 L208.0,126.4 L209.4,128.2 L210.6,130.0 L211.8,131.8 L212.8,133.7 L213.9,135.7 L214.8,137.8 L215.8,140.0 L216.8,142.3 L217.7,144.7 L218.6,147.2 L219.5,149.8 L220.3,152.6 L221.1,155.4 L221.8,158.4 L222.6,161.6 L223.3,165.0 L223.9,168.6 L224.6,172.2 L225.2,175.9 L225.8,179.4 L226.3,182.9 L226.9,186.5 L227.4,190.1 L227.9,193.7 L228.4,197.2 L228.9,200.6 L229.4,203.8 L229.9,207.1 L230.4,210.5 L230.8,213.8 L231.3,216.9 L231.7,219.5 L231.9,221.4 L232.1,222.7 L232.2,223.8 L232.3,224.8 L232.5,225.7 L232.5,226.4 L232.6,226.8 L232.6,227.0" stroke="#9b1b5e" stroke-width="3.7" fill="none" stroke-linecap="round" stroke-linejoin="round"/>
<path d="M226.3,220.9 L233.2,229.5 L237.9,219.5" stroke="#9b1b5e" stroke-width="3.3" fill="none" stroke-linecap="butt" stroke-linejoin="miter" stroke-miterlimit="10"/>
<line x1="61.90" y1="35.40" x2="61.90" y2="267.10" stroke="#4d4d4d" stroke-width="1.3" />
<line x1="61.30" y1="266.50" x2="345.50" y2="266.50" stroke="#4d4d4d" stroke-width="1.3" />
<line x1="56.40" y1="36.00" x2="61.90" y2="36.00" stroke="#4d4d4d" stroke-width="1.1" />
<text x="52.7" y="40.0" font-size="11.5" fill="#444" text-anchor="end" font-family='"Liberation Sans", "DejaVu Sans", sans-serif' >50</text>
<line x1="56.40" y1="101.58" x2="61.90" y2="101.58" stroke="#4d4d4d" stroke-width="1.1" />
<text x="52.7" y="105.6" font-size="11.5" fill="#444" text-anchor="end" font-family='"Liberation Sans", "DejaVu Sans", sans-serif' >20</text>
<line x1="56.40" y1="151.19" x2="61.90" y2="151.19" stroke="#4d4d4d" stroke-width="1.1" />
<text x="52.7" y="155.2" font-size="11.5" fill="#444" text-anchor="end" font-family='"Liberation Sans", "DejaVu Sans", sans-serif' >10</text>
<line x1="56.40" y1="266.38" x2="61.90" y2="266.38" stroke="#4d4d4d" stroke-width="1.1" />
<text x="52.7" y="270.4" font-size="11.5" fill="#444" text-anchor="end" font-family='"Liberation Sans", "DejaVu Sans", sans-serif' >2</text>
<line x1="58.70" y1="51.97" x2="61.90" y2="51.97" stroke="#4d4d4d" stroke-width="0.9" />
<line x1="58.70" y1="72.56" x2="61.90" y2="72.56" stroke="#4d4d4d" stroke-width="0.9" />
<line x1="58.70" y1="158.73" x2="61.90" y2="158.73" stroke="#4d4d4d" stroke-width="0.9" />
<line x1="58.70" y1="167.16" x2="61.90" y2="167.16" stroke="#4d4d4d" stroke-width="0.9" />
<line x1="58.70" y1="176.72" x2="61.90" y2="176.72" stroke="#4d4d4d" stroke-width="0.9" />
<line x1="58.70" y1="187.75" x2="61.90" y2="187.75" stroke="#4d4d4d" stroke-width="0.9" />
<line x1="58.70" y1="200.80" x2="61.90" y2="200.80" stroke="#4d4d4d" stroke-width="0.9" />
<line x1="58.70" y1="216.77" x2="61.90" y2="216.77" stroke="#4d4d4d" stroke-width="0.9" />
<line x1="58.70" y1="237.36" x2="61.90" y2="237.36" stroke="#4d4d4d" stroke-width="0.9" />
<line x1="62.30" y1="266.50" x2="62.30" y2="271.00" stroke="#4d4d4d" stroke-width="1.2" />
<text x="62.3" y="282.5" font-size="11.5" fill="#444" text-anchor="middle" font-family='"Liberation Sans", "DejaVu Sans", sans-serif' >1</text>
<line x1="225.76" y1="266.50" x2="225.76" y2="271.00" stroke="#4d4d4d" stroke-width="1.2" />
<text x="225.8" y="282.5" font-size="11.5" fill="#444" text-anchor="middle" font-family='"Liberation Sans", "DejaVu Sans", sans-serif' >2</text>
<line x1="321.38" y1="266.50" x2="321.38" y2="271.00" stroke="#4d4d4d" stroke-width="1.2" />
<text x="321.4" y="282.5" font-size="11.5" fill="#444" text-anchor="middle" font-family='"Liberation Sans", "DejaVu Sans", sans-serif' >3</text>
<text x="12.9" y="28.9" font-size="20.2" fill="#111" text-anchor="start" font-family='"Liberation Sans", "DejaVu Sans", sans-serif' font-weight="bold" textLength="13.6" lengthAdjust="spacingAndGlyphs" stroke="#111" stroke-width="0.7" stroke-linejoin="round" >A</text>
<text x="81.3" y="31.0" font-size="14" fill="#222" text-anchor="start" font-family='"Liberation Sans", "DejaVu Sans", sans-serif' textLength="235.8" lengthAdjust="spacingAndGlyphs" stroke="#222" stroke-width="0.22" >Perceptron in teacher-student setting</text>
<text x="66.7" y="300.0" font-size="14" fill="#222" text-anchor="start" font-family='"Liberation Sans", "DejaVu Sans", sans-serif' textLength="216.6" lengthAdjust="spacingAndGlyphs" stroke="#222" stroke-width="0.22" >Training examples per parameter (</text>
<text x="284.3" y="300.0" font-size="19.5" fill="#222" text-anchor="start" font-family='"Liberation Serif", "DejaVu Serif", serif' font-style="italic" textLength="10.6" lengthAdjust="spacingAndGlyphs" >α</text>
<text x="295.4" y="301.3" font-size="11.5" fill="#222" text-anchor="start" font-family='"Liberation Serif", "DejaVu Serif", serif' textLength="34.5" lengthAdjust="spacingAndGlyphs" >prune</text>
<text x="330.3" y="300.0" font-size="14" fill="#222" text-anchor="start" font-family='"Liberation Sans", "DejaVu Sans", sans-serif' stroke="#222" stroke-width="0.22" >)</text>
<text transform="translate(26.3,151.8) rotate(-90)" font-size="14" fill="#222" stroke="#222" stroke-width="0.22" text-anchor="middle" font-family='"Liberation Sans", "DejaVu Sans", sans-serif' textLength="83" lengthAdjust="spacingAndGlyphs">Test error (%)</text>
<text x="72.0" y="117.0" font-size="11" fill="#777" text-anchor="start" font-family='"Liberation Sans", "DejaVu Sans", sans-serif' textLength="76.0" lengthAdjust="spacingAndGlyphs" >Frac. data kept</text>
<circle cx="77" cy="128.9" r="3.6" fill="#481769"/>
<text x="85.9" y="132.9" font-size="11" fill="#333" text-anchor="start" font-family='"Liberation Sans", "DejaVu Sans", sans-serif' >100%</text>
<circle cx="77" cy="142.9" r="3.6" fill="#463480"/>
<text x="85.9" y="146.9" font-size="11" fill="#333" text-anchor="start" font-family='"Liberation Sans", "DejaVu Sans", sans-serif' >77%</text>
<circle cx="77" cy="156.9" r="3.6" fill="#3c4f8a"/>
<text x="85.9" y="160.9" font-size="11" fill="#333" text-anchor="start" font-family='"Liberation Sans", "DejaVu Sans", sans-serif' >60%</text>
<circle cx="77" cy="170.9" r="3.6" fill="#31678e"/>
<text x="85.9" y="174.9" font-size="11" fill="#333" text-anchor="start" font-family='"Liberation Sans", "DejaVu Sans", sans-serif' >46%</text>
<circle cx="77" cy="184.9" r="3.6" fill="#287d8e"/>
<text x="85.9" y="188.9" font-size="11" fill="#333" text-anchor="start" font-family='"Liberation Sans", "DejaVu Sans", sans-serif' >36%</text>
<circle cx="77" cy="198.9" r="3.6" fill="#20928c"/>
<text x="85.9" y="202.9" font-size="11" fill="#333" text-anchor="start" font-family='"Liberation Sans", "DejaVu Sans", sans-serif' >28%</text>
<circle cx="77" cy="212.9" r="3.6" fill="#22a884"/>
<text x="85.9" y="216.9" font-size="11" fill="#333" text-anchor="start" font-family='"Liberation Sans", "DejaVu Sans", sans-serif' >22%</text>
<circle cx="77" cy="226.9" r="3.6" fill="#3fbc73"/>
<text x="85.9" y="230.9" font-size="11" fill="#333" text-anchor="start" font-family='"Liberation Sans", "DejaVu Sans", sans-serif' >17%</text>
<circle cx="77" cy="240.9" r="3.6" fill="#6ece58"/>
<text x="85.9" y="244.9" font-size="11" fill="#333" text-anchor="start" font-family='"Liberation Sans", "DejaVu Sans", sans-serif' >13%</text>
<circle cx="77" cy="254.9" r="3.6" fill="#a8db34"/>
<text x="85.9" y="258.9" font-size="11" fill="#333" text-anchor="start" font-family='"Liberation Sans", "DejaVu Sans", sans-serif' >10%</text>
<line x1="250.30" y1="56.20" x2="261.50" y2="56.20" stroke="#2575a2" stroke-width="1.7" />
<text x="266.9" y="61.0" font-size="14.5" fill="#222" text-anchor="start" font-family='"Liberation Sans", "DejaVu Sans", sans-serif' textLength="44.0" lengthAdjust="spacingAndGlyphs" stroke="#222" stroke-width="0.22" >Theory</text>
<circle cx="255.8" cy="72.9" r="3.2" fill="#2a7d9f"/>
<text x="266.9" y="77.3" font-size="14.5" fill="#222" text-anchor="start" font-family='"Liberation Sans", "DejaVu Sans", sans-serif' textLength="67.0" lengthAdjust="spacingAndGlyphs" stroke="#222" stroke-width="0.22" >Simulation</text>
<text x="334.5" y="116.2" font-size="19" fill="#111" text-anchor="start" font-family='"Liberation Serif", "DejaVu Serif", serif' font-weight="bold" textLength="14.4" lengthAdjust="spacingAndGlyphs" >∼</text>
<text x="355.2" y="116.2" font-size="21" fill="#111" text-anchor="start" font-family='"Liberation Serif", "DejaVu Serif", serif' font-weight="bold" font-style="italic" textLength="12.4" lengthAdjust="spacingAndGlyphs" >α</text>
<text x="371.2" y="109.8" font-size="13" fill="#111" text-anchor="start" font-family='"Liberation Serif", "DejaVu Serif", serif' font-weight="bold" textLength="16.0" lengthAdjust="spacingAndGlyphs" >−1</text>
<text x="161.8" y="147.7" font-size="15.2" fill="#9b1b5e" text-anchor="start" font-family='"Liberation Sans", "DejaVu Sans", sans-serif' font-weight="bold" textLength="42.6" lengthAdjust="spacingAndGlyphs" stroke="#9b1b5e" stroke-width="0.22" >Pareto</text>
<text x="161.8" y="164.3" font-size="15.2" fill="#9b1b5e" text-anchor="start" font-family='"Liberation Sans", "DejaVu Sans", sans-serif' font-weight="bold" textLength="49.8" lengthAdjust="spacingAndGlyphs" stroke="#9b1b5e" stroke-width="0.22" >frontier</text>
<clipPath id="clipB"><circle cx="204.7" cy="396.4" r="68.5"/></clipPath>
<defs><linearGradient id="capTR" x1="0" y1="0" x2="0" y2="1"><stop offset="0" stop-color="#3f74a3"/><stop offset="0.75" stop-color="#5286b4"/><stop offset="1" stop-color="#a9c6de"/></linearGradient><linearGradient id="capBL" x1="0" y1="0" x2="0" y2="1"><stop offset="0" stop-color="#8fa9c0"/><stop offset="0.22" stop-color="#46678a"/><stop offset="1" stop-color="#3a5877"/></linearGradient></defs>
<rect x="135.7" y="327.4" width="138.0" height="138.0" fill="#fcfcfc" transform="rotate(45 204.7 396.4)"/>
<circle cx="204.7" cy="396.4" r="68.5" fill="#f3f3f3"/>
<g clip-path="url(#clipB)"><g transform="translate(204.7,396.4) rotate(45)">
<rect x="-80" y="-34" width="160" height="9" fill="#f8f8f8"/>
<rect x="-80" y="20" width="160" height="11" fill="#f9f9f9"/>
<rect x="-80" y="-80" width="160" height="27.9" fill="#4d7fa9"/>
<rect x="-10" y="-54.0" width="90" height="1.9" fill="#86add0"/>
<rect x="-80" y="52.1" width="160" height="28" fill="#47688a"/>
<rect x="-80" y="52.1" width="85" height="1.9" fill="#8aa3bd"/>
<rect x="-65.8" y="-12" width="131.6" height="24" fill="#6aab64"/>
<line x1="-65.8" y1="0" x2="65.8" y2="0" stroke="#111" stroke-width="1.5"/>
</g></g>
<line x1="204.70" y1="396.40" x2="224.90" y2="376.20" stroke="#111" stroke-width="1.5" />
<path d="M224.7,380.9 L226.0,375.1 L220.2,376.4" stroke="#111" stroke-width="1.5" fill="none" stroke-linecap="butt" stroke-linejoin="miter" stroke-miterlimit="10"/>
<text x="210.4" y="373.6" font-size="18.5" fill="#111" text-anchor="start" font-family='"Liberation Serif", "DejaVu Serif", serif' font-style="italic" >T</text>
<line x1="226.40" y1="417.70" x2="252.20" y2="390.30" stroke="#9b1b5e" stroke-width="1.1" stroke-dasharray="3 2"/>
<circle cx="252.4" cy="390.2" r="1.9" fill="#9b1b5e"/>
<text x="245.0" y="414.4" font-size="23" fill="#9b1b5e" text-anchor="start" font-family='"Liberation Serif", "DejaVu Serif", serif' font-style="italic" textLength="14.0" lengthAdjust="spacingAndGlyphs" >κ</text>
<text x="50.0" y="344.3" font-size="13.2" fill="#1b7a43" text-anchor="start" font-family='"Liberation Sans", "DejaVu Sans", sans-serif' stroke="#1b7a43" stroke-width="0.22" >Keep hard</text>
<text x="50.0" y="359.3" font-size="13.2" fill="#1b7a43" text-anchor="start" font-family='"Liberation Sans", "DejaVu Sans", sans-serif' stroke="#1b7a43" stroke-width="0.22" >examples</text>
<text x="50.0" y="374.4" font-size="13.2" fill="#1b7a43" text-anchor="start" font-family='"Liberation Sans", "DejaVu Sans", sans-serif' stroke="#1b7a43" stroke-width="0.22" >when total</text>
<text x="50.0" y="389.4" font-size="13.2" fill="#1b7a43" text-anchor="start" font-family='"Liberation Sans", "DejaVu Sans", sans-serif' stroke="#1b7a43" stroke-width="0.22" >data is</text>
<text x="50.0" y="404.4" font-size="13.2" fill="#1b7a43" text-anchor="start" font-family='"Liberation Sans", "DejaVu Sans", sans-serif' stroke="#1b7a43" stroke-width="0.22" >abundant</text>
<text x="347.0" y="408.0" font-size="13.2" fill="#1f72b8" text-anchor="end" font-family='"Liberation Sans", "DejaVu Sans", sans-serif' stroke="#1f72b8" stroke-width="0.22" >Keep easy</text>
<text x="347.0" y="424.5" font-size="13.2" fill="#1f72b8" text-anchor="end" font-family='"Liberation Sans", "DejaVu Sans", sans-serif' stroke="#1f72b8" stroke-width="0.22" >examples</text>
<text x="347.0" y="441.0" font-size="13.2" fill="#1f72b8" text-anchor="end" font-family='"Liberation Sans", "DejaVu Sans", sans-serif' stroke="#1f72b8" stroke-width="0.22" >when total</text>
<text x="347.0" y="457.5" font-size="13.2" fill="#1f72b8" text-anchor="end" font-family='"Liberation Sans", "DejaVu Sans", sans-serif' stroke="#1f72b8" stroke-width="0.22" >data is</text>
<text x="347.0" y="474.0" font-size="13.2" fill="#1f72b8" text-anchor="end" font-family='"Liberation Sans", "DejaVu Sans", sans-serif' stroke="#1f72b8" stroke-width="0.22" >scarce</text>
<path d="M117.5,338.5 C126,336 134,339.5 138.8,346.5" stroke="#1b7a43" stroke-width="2.1" fill="none" stroke-linecap="round"/>
<path d="M134.6,345.8 L139.8,348.3 L139.7,342.5" stroke="#1b7a43" stroke-width="2.1" fill="none" stroke-linecap="butt" stroke-linejoin="miter" stroke-miterlimit="10"/>
<path d="M296.5,392 C294,380 290.5,371 284.8,364.8" stroke="#1f72b8" stroke-width="1.5" fill="none" stroke-linecap="round"/>
<path d="M289.3,365.3 L284.0,363.8 L284.9,369.2" stroke="#1f72b8" stroke-width="1.5" fill="none" stroke-linecap="butt" stroke-linejoin="miter" stroke-miterlimit="10"/>
<path d="M280.5,452.5 C274,468 254,473 236,468" stroke="#1f72b8" stroke-width="1.5" fill="none" stroke-linecap="round"/>
<path d="M239.9,466.1 L234.6,467.5 L238.2,471.7" stroke="#1f72b8" stroke-width="1.5" fill="none" stroke-linecap="butt" stroke-linejoin="miter" stroke-miterlimit="10"/>
<text x="13.6" y="327.3" font-size="20.2" fill="#111" text-anchor="start" font-family='"Liberation Sans", "DejaVu Sans", sans-serif' font-weight="bold" textLength="12.6" lengthAdjust="spacingAndGlyphs" stroke="#111" stroke-width="0.7" stroke-linejoin="round" >B</text>
<rect x="454.50" y="45.50" width="10.29" height="8.86" fill="#e1dad6"/>
<rect x="464.34" y="45.50" width="10.29" height="8.86" fill="#d4dbe6"/>
<rect x="474.18" y="45.50" width="10.29" height="8.86" fill="#dbdcde"/>
<rect x="484.02" y="45.50" width="10.29" height="8.86" fill="#e1dad6"/>
<rect x="493.86" y="45.50" width="10.29" height="8.86" fill="#dbdcde"/>
<rect x="503.70" y="45.50" width="10.29" height="8.86" fill="#d5dbe5"/>
<rect x="513.54" y="45.50" width="10.29" height="8.86" fill="#e4d9d2"/>
<rect x="523.38" y="45.50" width="10.29" height="8.86" fill="#dadce0"/>
<rect x="533.22" y="45.50" width="10.29" height="8.86" fill="#e2dad5"/>
<rect x="543.06" y="45.50" width="10.29" height="8.86" fill="#e2dad5"/>
<rect x="552.90" y="45.50" width="10.29" height="8.86" fill="#dddcdc"/>
<rect x="562.74" y="45.50" width="10.29" height="8.86" fill="#e1dad6"/>
<rect x="572.58" y="45.50" width="10.29" height="8.86" fill="#dadce0"/>
<rect x="582.42" y="45.50" width="10.29" height="8.86" fill="#dfdbd9"/>
<rect x="592.26" y="45.50" width="10.29" height="8.86" fill="#d9dce1"/>
<rect x="602.10" y="45.50" width="10.29" height="8.86" fill="#d5dbe5"/>
<rect x="611.94" y="45.50" width="10.29" height="8.86" fill="#dddcdc"/>
<rect x="621.78" y="45.50" width="10.29" height="8.86" fill="#d9dce1"/>
<rect x="631.62" y="45.50" width="10.29" height="8.86" fill="#dcdddd"/>
<rect x="641.46" y="45.50" width="10.29" height="8.86" fill="#d8dce2"/>
<rect x="454.50" y="53.91" width="10.29" height="8.86" fill="#96b7ff"/>
<rect x="464.34" y="53.91" width="10.29" height="8.86" fill="#6a8bef"/>
<rect x="474.18" y="53.91" width="10.29" height="8.86" fill="#9ebeff"/>
<rect x="484.02" y="53.91" width="10.29" height="8.86" fill="#9ebeff"/>
<rect x="493.86" y="53.91" width="10.29" height="8.86" fill="#b9d0f9"/>
<rect x="503.70" y="53.91" width="10.29" height="8.86" fill="#bcd2f7"/>
<rect x="513.54" y="53.91" width="10.29" height="8.86" fill="#bfd3f6"/>
<rect x="523.38" y="53.91" width="10.29" height="8.86" fill="#cbd8ee"/>
<rect x="533.22" y="53.91" width="10.29" height="8.86" fill="#ccd9ed"/>
<rect x="543.06" y="53.91" width="10.29" height="8.86" fill="#d2dbe8"/>
<rect x="552.90" y="53.91" width="10.29" height="8.86" fill="#d3dbe7"/>
<rect x="562.74" y="53.91" width="10.29" height="8.86" fill="#cdd9ec"/>
<rect x="572.58" y="53.91" width="10.29" height="8.86" fill="#d7dce3"/>
<rect x="582.42" y="53.91" width="10.29" height="8.86" fill="#dcdddd"/>
<rect x="592.26" y="53.91" width="10.29" height="8.86" fill="#d4dbe6"/>
<rect x="602.10" y="53.91" width="10.29" height="8.86" fill="#d3dbe7"/>
<rect x="611.94" y="53.91" width="10.29" height="8.86" fill="#dcdddd"/>
<rect x="621.78" y="53.91" width="10.29" height="8.86" fill="#dbdcde"/>
<rect x="631.62" y="53.91" width="10.29" height="8.86" fill="#dedcdb"/>
<rect x="641.46" y="53.91" width="10.29" height="8.86" fill="#dadce0"/>
<rect x="454.50" y="62.32" width="10.29" height="8.86" fill="#3b4cc0"/>
<rect x="464.34" y="62.32" width="10.29" height="8.86" fill="#3b4cc0"/>
<rect x="474.18" y="62.32" width="10.29" height="8.86" fill="#6a8bef"/>
<rect x="484.02" y="62.32" width="10.29" height="8.86" fill="#6282ea"/>
<rect x="493.86" y="62.32" width="10.29" height="8.86" fill="#96b7ff"/>
<rect x="503.70" y="62.32" width="10.29" height="8.86" fill="#b3cdfb"/>
<rect x="513.54" y="62.32" width="10.29" height="8.86" fill="#bcd2f7"/>
<rect x="523.38" y="62.32" width="10.29" height="8.86" fill="#b3cdfb"/>
<rect x="533.22" y="62.32" width="10.29" height="8.86" fill="#ccd9ed"/>
<rect x="543.06" y="62.32" width="10.29" height="8.86" fill="#cedaeb"/>
<rect x="552.90" y="62.32" width="10.29" height="8.86" fill="#c7d7f0"/>
<rect x="562.74" y="62.32" width="10.29" height="8.86" fill="#d1dae9"/>
<rect x="572.58" y="62.32" width="10.29" height="8.86" fill="#d3dbe7"/>
<rect x="582.42" y="62.32" width="10.29" height="8.86" fill="#d9dce1"/>
<rect x="592.26" y="62.32" width="10.29" height="8.86" fill="#dadce0"/>
<rect x="602.10" y="62.32" width="10.29" height="8.86" fill="#dadce0"/>
<rect x="611.94" y="62.32" width="10.29" height="8.86" fill="#d3dbe7"/>
<rect x="621.78" y="62.32" width="10.29" height="8.86" fill="#d9dce1"/>
<rect x="631.62" y="62.32" width="10.29" height="8.86" fill="#dbdcde"/>
<rect x="641.46" y="62.32" width="10.29" height="8.86" fill="#dddcdc"/>
<rect x="454.50" y="70.73" width="10.29" height="8.86" fill="#3b4cc0"/>
<rect x="464.34" y="70.73" width="10.29" height="8.86" fill="#3b4cc0"/>
<rect x="474.18" y="70.73" width="10.29" height="8.86" fill="#3b4cc0"/>
<rect x="484.02" y="70.73" width="10.29" height="8.86" fill="#516ddb"/>
<rect x="493.86" y="70.73" width="10.29" height="8.86" fill="#5977e3"/>
<rect x="503.70" y="70.73" width="10.29" height="8.86" fill="#afcafc"/>
<rect x="513.54" y="70.73" width="10.29" height="8.86" fill="#a7c5fe"/>
<rect x="523.38" y="70.73" width="10.29" height="8.86" fill="#abc8fd"/>
<rect x="533.22" y="70.73" width="10.29" height="8.86" fill="#cdd9ec"/>
<rect x="543.06" y="70.73" width="10.29" height="8.86" fill="#cedaeb"/>
<rect x="552.90" y="70.73" width="10.29" height="8.86" fill="#c4d5f3"/>
<rect x="562.74" y="70.73" width="10.29" height="8.86" fill="#cbd8ee"/>
<rect x="572.58" y="70.73" width="10.29" height="8.86" fill="#d4dbe6"/>
<rect x="582.42" y="70.73" width="10.29" height="8.86" fill="#cdd9ec"/>
<rect x="592.26" y="70.73" width="10.29" height="8.86" fill="#d8dce2"/>
<rect x="602.10" y="70.73" width="10.29" height="8.86" fill="#d8dce2"/>
<rect x="611.94" y="70.73" width="10.29" height="8.86" fill="#dadce0"/>
<rect x="621.78" y="70.73" width="10.29" height="8.86" fill="#e0dbd8"/>
<rect x="631.62" y="70.73" width="10.29" height="8.86" fill="#d9dce1"/>
<rect x="641.46" y="70.73" width="10.29" height="8.86" fill="#d8dce2"/>
<rect x="454.50" y="79.14" width="10.29" height="8.86" fill="#3b4cc0"/>
<rect x="464.34" y="79.14" width="10.29" height="8.86" fill="#3b4cc0"/>
<rect x="474.18" y="79.14" width="10.29" height="8.86" fill="#3b4cc0"/>
<rect x="484.02" y="79.14" width="10.29" height="8.86" fill="#3b4cc0"/>
<rect x="493.86" y="79.14" width="10.29" height="8.86" fill="#3b4cc0"/>
<rect x="503.70" y="79.14" width="10.29" height="8.86" fill="#7b9ff9"/>
<rect x="513.54" y="79.14" width="10.29" height="8.86" fill="#9abbff"/>
<rect x="523.38" y="79.14" width="10.29" height="8.86" fill="#b9d0f9"/>
<rect x="533.22" y="79.14" width="10.29" height="8.86" fill="#c5d6f2"/>
<rect x="543.06" y="79.14" width="10.29" height="8.86" fill="#cad8ef"/>
<rect x="552.90" y="79.14" width="10.29" height="8.86" fill="#c7d7f0"/>
<rect x="562.74" y="79.14" width="10.29" height="8.86" fill="#cedaeb"/>
<rect x="572.58" y="79.14" width="10.29" height="8.86" fill="#c9d7f0"/>
<rect x="582.42" y="79.14" width="10.29" height="8.86" fill="#d5dbe5"/>
<rect x="592.26" y="79.14" width="10.29" height="8.86" fill="#d6dce4"/>
<rect x="602.10" y="79.14" width="10.29" height="8.86" fill="#dddcdc"/>
<rect x="611.94" y="79.14" width="10.29" height="8.86" fill="#e3d9d3"/>
<rect x="621.78" y="79.14" width="10.29" height="8.86" fill="#dfdbd9"/>
<rect x="631.62" y="79.14" width="10.29" height="8.86" fill="#dddcdc"/>
<rect x="641.46" y="79.14" width="10.29" height="8.86" fill="#d9dce1"/>
<rect x="454.50" y="87.55" width="10.29" height="8.86" fill="#3b4cc0"/>
<rect x="464.34" y="87.55" width="10.29" height="8.86" fill="#3b4cc0"/>
<rect x="474.18" y="87.55" width="10.29" height="8.86" fill="#3b4cc0"/>
<rect x="484.02" y="87.55" width="10.29" height="8.86" fill="#3b4cc0"/>
<rect x="493.86" y="87.55" width="10.29" height="8.86" fill="#3b4cc0"/>
<rect x="503.70" y="87.55" width="10.29" height="8.86" fill="#5977e3"/>
<rect x="513.54" y="87.55" width="10.29" height="8.86" fill="#84a7fc"/>
<rect x="523.38" y="87.55" width="10.29" height="8.86" fill="#afcafc"/>
<rect x="533.22" y="87.55" width="10.29" height="8.86" fill="#c1d4f4"/>
<rect x="543.06" y="87.55" width="10.29" height="8.86" fill="#c5d6f2"/>
<rect x="552.90" y="87.55" width="10.29" height="8.86" fill="#cad8ef"/>
<rect x="562.74" y="87.55" width="10.29" height="8.86" fill="#d1dae9"/>
<rect x="572.58" y="87.55" width="10.29" height="8.86" fill="#d9dce1"/>
<rect x="582.42" y="87.55" width="10.29" height="8.86" fill="#dddcdc"/>
<rect x="592.26" y="87.55" width="10.29" height="8.86" fill="#dfdbd9"/>
<rect x="602.10" y="87.55" width="10.29" height="8.86" fill="#e0dbd8"/>
<rect x="611.94" y="87.55" width="10.29" height="8.86" fill="#dbdcde"/>
<rect x="621.78" y="87.55" width="10.29" height="8.86" fill="#dedcdb"/>
<rect x="631.62" y="87.55" width="10.29" height="8.86" fill="#dddcdc"/>
<rect x="641.46" y="87.55" width="10.29" height="8.86" fill="#dedcdb"/>
<rect x="454.50" y="95.96" width="10.29" height="8.86" fill="#3b4cc0"/>
<rect x="464.34" y="95.96" width="10.29" height="8.86" fill="#3b4cc0"/>
<rect x="474.18" y="95.96" width="10.29" height="8.86" fill="#3b4cc0"/>
<rect x="484.02" y="95.96" width="10.29" height="8.86" fill="#3b4cc0"/>
<rect x="493.86" y="95.96" width="10.29" height="8.86" fill="#3b4cc0"/>
<rect x="503.70" y="95.96" width="10.29" height="8.86" fill="#3b4cc0"/>
<rect x="513.54" y="95.96" width="10.29" height="8.86" fill="#7b9ff9"/>
<rect x="523.38" y="95.96" width="10.29" height="8.86" fill="#9abbff"/>
<rect x="533.22" y="95.96" width="10.29" height="8.86" fill="#bcd2f7"/>
<rect x="543.06" y="95.96" width="10.29" height="8.86" fill="#d5dbe5"/>
<rect x="552.90" y="95.96" width="10.29" height="8.86" fill="#d9dce1"/>
<rect x="562.74" y="95.96" width="10.29" height="8.86" fill="#e0dbd8"/>
<rect x="572.58" y="95.96" width="10.29" height="8.86" fill="#d9dce1"/>
<rect x="582.42" y="95.96" width="10.29" height="8.86" fill="#e0dbd8"/>
<rect x="592.26" y="95.96" width="10.29" height="8.86" fill="#e0dbd8"/>
<rect x="602.10" y="95.96" width="10.29" height="8.86" fill="#e0dbd8"/>
<rect x="611.94" y="95.96" width="10.29" height="8.86" fill="#dbdcde"/>
<rect x="621.78" y="95.96" width="10.29" height="8.86" fill="#dfdbd9"/>
<rect x="631.62" y="95.96" width="10.29" height="8.86" fill="#e3d9d3"/>
<rect x="641.46" y="95.96" width="10.29" height="8.86" fill="#e4d9d2"/>
<rect x="454.50" y="104.37" width="10.29" height="8.86" fill="#3b4cc0"/>
<rect x="464.34" y="104.37" width="10.29" height="8.86" fill="#3b4cc0"/>
<rect x="474.18" y="104.37" width="10.29" height="8.86" fill="#3b4cc0"/>
<rect x="484.02" y="104.37" width="10.29" height="8.86" fill="#3b4cc0"/>
<rect x="493.86" y="104.37" width="10.29" height="8.86" fill="#3b4cc0"/>
<rect x="503.70" y="104.37" width="10.29" height="8.86" fill="#3b4cc0"/>
<rect x="513.54" y="104.37" width="10.29" height="8.86" fill="#3b4cc0"/>
<rect x="523.38" y="104.37" width="10.29" height="8.86" fill="#8db0fe"/>
<rect x="533.22" y="104.37" width="10.29" height="8.86" fill="#afcafc"/>
<rect x="543.06" y="104.37" width="10.29" height="8.86" fill="#ead5c9"/>
<rect x="552.90" y="104.37" width="10.29" height="8.86" fill="#e4d9d2"/>
<rect x="562.74" y="104.37" width="10.29" height="8.86" fill="#e2dad5"/>
<rect x="572.58" y="104.37" width="10.29" height="8.86" fill="#e6d7cf"/>
<rect x="582.42" y="104.37" width="10.29" height="8.86" fill="#e4d9d2"/>
<rect x="592.26" y="104.37" width="10.29" height="8.86" fill="#e2dad5"/>
<rect x="602.10" y="104.37" width="10.29" height="8.86" fill="#e6d7cf"/>
<rect x="611.94" y="104.37" width="10.29" height="8.86" fill="#e0dbd8"/>
<rect x="621.78" y="104.37" width="10.29" height="8.86" fill="#e0dbd8"/>
<rect x="631.62" y="104.37" width="10.29" height="8.86" fill="#e0dbd8"/>
<rect x="641.46" y="104.37" width="10.29" height="8.86" fill="#dddcdc"/>
<rect x="454.50" y="112.78" width="10.29" height="8.86" fill="#3b4cc0"/>
<rect x="464.34" y="112.78" width="10.29" height="8.86" fill="#3b4cc0"/>
<rect x="474.18" y="112.78" width="10.29" height="8.86" fill="#3b4cc0"/>
<rect x="484.02" y="112.78" width="10.29" height="8.86" fill="#3b4cc0"/>
<rect x="493.86" y="112.78" width="10.29" height="8.86" fill="#3b4cc0"/>
<rect x="503.70" y="112.78" width="10.29" height="8.86" fill="#3b4cc0"/>
<rect x="513.54" y="112.78" width="10.29" height="8.86" fill="#3b4cc0"/>
<rect x="523.38" y="112.78" width="10.29" height="8.86" fill="#6a8bef"/>
<rect x="533.22" y="112.78" width="10.29" height="8.86" fill="#9ebeff"/>
<rect x="543.06" y="112.78" width="10.29" height="8.86" fill="#bcd2f7"/>
<rect x="552.90" y="112.78" width="10.29" height="8.86" fill="#ecd3c5"/>
<rect x="562.74" y="112.78" width="10.29" height="8.86" fill="#ecd3c5"/>
<rect x="572.58" y="112.78" width="10.29" height="8.86" fill="#ecd3c5"/>
<rect x="582.42" y="112.78" width="10.29" height="8.86" fill="#ead5c9"/>
<rect x="592.26" y="112.78" width="10.29" height="8.86" fill="#ead5c9"/>
<rect x="602.10" y="112.78" width="10.29" height="8.86" fill="#ead4c8"/>
<rect x="611.94" y="112.78" width="10.29" height="8.86" fill="#ead5c9"/>
<rect x="621.78" y="112.78" width="10.29" height="8.86" fill="#e6d7cf"/>
<rect x="631.62" y="112.78" width="10.29" height="8.86" fill="#e2dad5"/>
<rect x="641.46" y="112.78" width="10.29" height="8.86" fill="#e6d7cf"/>
<rect x="454.50" y="121.19" width="10.29" height="8.86" fill="#3b4cc0"/>
<rect x="464.34" y="121.19" width="10.29" height="8.86" fill="#3b4cc0"/>
<rect x="474.18" y="121.19" width="10.29" height="8.86" fill="#3b4cc0"/>
<rect x="484.02" y="121.19" width="10.29" height="8.86" fill="#3b4cc0"/>
<rect x="493.86" y="121.19" width="10.29" height="8.86" fill="#3b4cc0"/>
<rect x="503.70" y="121.19" width="10.29" height="8.86" fill="#3b4cc0"/>
<rect x="513.54" y="121.19" width="10.29" height="8.86" fill="#3b4cc0"/>
<rect x="523.38" y="121.19" width="10.29" height="8.86" fill="#3b4cc0"/>
<rect x="533.22" y="121.19" width="10.29" height="8.86" fill="#96b7ff"/>
<rect x="543.06" y="121.19" width="10.29" height="8.86" fill="#c0d4f5"/>
<rect x="552.90" y="121.19" width="10.29" height="8.86" fill="#f5c0a7"/>
<rect x="562.74" y="121.19" width="10.29" height="8.86" fill="#f3c8b2"/>
<rect x="572.58" y="121.19" width="10.29" height="8.86" fill="#f5c1a9"/>
<rect x="582.42" y="121.19" width="10.29" height="8.86" fill="#f1ccb8"/>
<rect x="592.26" y="121.19" width="10.29" height="8.86" fill="#f0cdbb"/>
<rect x="602.10" y="121.19" width="10.29" height="8.86" fill="#f2cab5"/>
<rect x="611.94" y="121.19" width="10.29" height="8.86" fill="#efcfbf"/>
<rect x="621.78" y="121.19" width="10.29" height="8.86" fill="#edd2c3"/>
<rect x="631.62" y="121.19" width="10.29" height="8.86" fill="#edd1c2"/>
<rect x="641.46" y="121.19" width="10.29" height="8.86" fill="#e6d7cf"/>
<rect x="454.50" y="129.60" width="10.29" height="8.86" fill="#3b4cc0"/>
<rect x="464.34" y="129.60" width="10.29" height="8.86" fill="#3b4cc0"/>
<rect x="474.18" y="129.60" width="10.29" height="8.86" fill="#3b4cc0"/>
<rect x="484.02" y="129.60" width="10.29" height="8.86" fill="#3b4cc0"/>
<rect x="493.86" y="129.60" width="10.29" height="8.86" fill="#3b4cc0"/>
<rect x="503.70" y="129.60" width="10.29" height="8.86" fill="#3b4cc0"/>
<rect x="513.54" y="129.60" width="10.29" height="8.86" fill="#3b4cc0"/>
<rect x="523.38" y="129.60" width="10.29" height="8.86" fill="#3b4cc0"/>
<rect x="533.22" y="129.60" width="10.29" height="8.86" fill="#6a8bef"/>
<rect x="543.06" y="129.60" width="10.29" height="8.86" fill="#b9d0f9"/>
<rect x="552.90" y="129.60" width="10.29" height="8.86" fill="#f4c5ad"/>
<rect x="562.74" y="129.60" width="10.29" height="8.86" fill="#f6bda2"/>
<rect x="572.58" y="129.60" width="10.29" height="8.86" fill="#f7bca1"/>
<rect x="582.42" y="129.60" width="10.29" height="8.86" fill="#f7b99e"/>
<rect x="592.26" y="129.60" width="10.29" height="8.86" fill="#f5c1a9"/>
<rect x="602.10" y="129.60" width="10.29" height="8.86" fill="#f5c0a7"/>
<rect x="611.94" y="129.60" width="10.29" height="8.86" fill="#f5c2aa"/>
<rect x="621.78" y="129.60" width="10.29" height="8.86" fill="#f2cbb7"/>
<rect x="631.62" y="129.60" width="10.29" height="8.86" fill="#f0cdbb"/>
<rect x="641.46" y="129.60" width="10.29" height="8.86" fill="#f1cdba"/>
<rect x="454.50" y="138.01" width="10.29" height="8.86" fill="#3b4cc0"/>
<rect x="464.34" y="138.01" width="10.29" height="8.86" fill="#3b4cc0"/>
<rect x="474.18" y="138.01" width="10.29" height="8.86" fill="#3b4cc0"/>
<rect x="484.02" y="138.01" width="10.29" height="8.86" fill="#3b4cc0"/>
<rect x="493.86" y="138.01" width="10.29" height="8.86" fill="#3b4cc0"/>
<rect x="503.70" y="138.01" width="10.29" height="8.86" fill="#3b4cc0"/>
<rect x="513.54" y="138.01" width="10.29" height="8.86" fill="#3b4cc0"/>
<rect x="523.38" y="138.01" width="10.29" height="8.86" fill="#3b4cc0"/>
<rect x="533.22" y="138.01" width="10.29" height="8.86" fill="#3b4cc0"/>
<rect x="543.06" y="138.01" width="10.29" height="8.86" fill="#7b9ff9"/>
<rect x="552.90" y="138.01" width="10.29" height="8.86" fill="#dedcdb"/>
<rect x="562.74" y="138.01" width="10.29" height="8.86" fill="#f7ac8e"/>
<rect x="572.58" y="138.01" width="10.29" height="8.86" fill="#f59f80"/>
<rect x="582.42" y="138.01" width="10.29" height="8.86" fill="#f7a889"/>
<rect x="592.26" y="138.01" width="10.29" height="8.86" fill="#f7ac8e"/>
<rect x="602.10" y="138.01" width="10.29" height="8.86" fill="#f7b093"/>
<rect x="611.94" y="138.01" width="10.29" height="8.86" fill="#f7b599"/>
<rect x="621.78" y="138.01" width="10.29" height="8.86" fill="#f7b396"/>
<rect x="631.62" y="138.01" width="10.29" height="8.86" fill="#f7b093"/>
<rect x="641.46" y="138.01" width="10.29" height="8.86" fill="#f6bfa6"/>
<rect x="454.50" y="146.42" width="10.29" height="8.86" fill="#3b4cc0"/>
<rect x="464.34" y="146.42" width="10.29" height="8.86" fill="#3b4cc0"/>
<rect x="474.18" y="146.42" width="10.29" height="8.86" fill="#3b4cc0"/>
<rect x="484.02" y="146.42" width="10.29" height="8.86" fill="#3b4cc0"/>
<rect x="493.86" y="146.42" width="10.29" height="8.86" fill="#3b4cc0"/>
<rect x="503.70" y="146.42" width="10.29" height="8.86" fill="#3b4cc0"/>
<rect x="513.54" y="146.42" width="10.29" height="8.86" fill="#3b4cc0"/>
<rect x="523.38" y="146.42" width="10.29" height="8.86" fill="#3b4cc0"/>
<rect x="533.22" y="146.42" width="10.29" height="8.86" fill="#3b4cc0"/>
<rect x="543.06" y="146.42" width="10.29" height="8.86" fill="#3b4cc0"/>
<rect x="552.90" y="146.42" width="10.29" height="8.86" fill="#9abbff"/>
<rect x="562.74" y="146.42" width="10.29" height="8.86" fill="#f7ac8e"/>
<rect x="572.58" y="146.42" width="10.29" height="8.86" fill="#f4987a"/>
<rect x="582.42" y="146.42" width="10.29" height="8.86" fill="#e9785d"/>
<rect x="592.26" y="146.42" width="10.29" height="8.86" fill="#ee8468"/>
<rect x="602.10" y="146.42" width="10.29" height="8.86" fill="#f08a6c"/>
<rect x="611.94" y="146.42" width="10.29" height="8.86" fill="#f39475"/>
<rect x="621.78" y="146.42" width="10.29" height="8.86" fill="#f4987a"/>
<rect x="631.62" y="146.42" width="10.29" height="8.86" fill="#f59f80"/>
<rect x="641.46" y="146.42" width="10.29" height="8.86" fill="#f6a385"/>
<rect x="454.50" y="154.83" width="10.29" height="8.86" fill="#3b4cc0"/>
<rect x="464.34" y="154.83" width="10.29" height="8.86" fill="#3b4cc0"/>
<rect x="474.18" y="154.83" width="10.29" height="8.86" fill="#3b4cc0"/>
<rect x="484.02" y="154.83" width="10.29" height="8.86" fill="#3b4cc0"/>
<rect x="493.86" y="154.83" width="10.29" height="8.86" fill="#3b4cc0"/>
<rect x="503.70" y="154.83" width="10.29" height="8.86" fill="#3b4cc0"/>
<rect x="513.54" y="154.83" width="10.29" height="8.86" fill="#3b4cc0"/>
<rect x="523.38" y="154.83" width="10.29" height="8.86" fill="#3b4cc0"/>
<rect x="533.22" y="154.83" width="10.29" height="8.86" fill="#3b4cc0"/>
<rect x="543.06" y="154.83" width="10.29" height="8.86" fill="#3b4cc0"/>
<rect x="552.90" y="154.83" width="10.29" height="8.86" fill="#3b4cc0"/>
<rect x="562.74" y="154.83" width="10.29" height="8.86" fill="#dddcdc"/>
<rect x="572.58" y="154.83" width="10.29" height="8.86" fill="#ee8468"/>
<rect x="582.42" y="154.83" width="10.29" height="8.86" fill="#d95847"/>
<rect x="592.26" y="154.83" width="10.29" height="8.86" fill="#e16751"/>
<rect x="602.10" y="154.83" width="10.29" height="8.86" fill="#e67259"/>
<rect x="611.94" y="154.83" width="10.29" height="8.86" fill="#e9785d"/>
<rect x="621.78" y="154.83" width="10.29" height="8.86" fill="#ee8468"/>
<rect x="631.62" y="154.83" width="10.29" height="8.86" fill="#f18f71"/>
<rect x="641.46" y="154.83" width="10.29" height="8.86" fill="#f4987a"/>
<rect x="454.50" y="163.24" width="10.29" height="8.86" fill="#3b4cc0"/>
<rect x="464.34" y="163.24" width="10.29" height="8.86" fill="#3b4cc0"/>
<rect x="474.18" y="163.24" width="10.29" height="8.86" fill="#3b4cc0"/>
<rect x="484.02" y="163.24" width="10.29" height="8.86" fill="#3b4cc0"/>
<rect x="493.86" y="163.24" width="10.29" height="8.86" fill="#3b4cc0"/>
<rect x="503.70" y="163.24" width="10.29" height="8.86" fill="#3b4cc0"/>
<rect x="513.54" y="163.24" width="10.29" height="8.86" fill="#3b4cc0"/>
<rect x="523.38" y="163.24" width="10.29" height="8.86" fill="#3b4cc0"/>
<rect x="533.22" y="163.24" width="10.29" height="8.86" fill="#3b4cc0"/>
<rect x="543.06" y="163.24" width="10.29" height="8.86" fill="#3b4cc0"/>
<rect x="552.90" y="163.24" width="10.29" height="8.86" fill="#3b4cc0"/>
<rect x="562.74" y="163.24" width="10.29" height="8.86" fill="#3b4cc0"/>
<rect x="572.58" y="163.24" width="10.29" height="8.86" fill="#f7ac8e"/>
<rect x="582.42" y="163.24" width="10.29" height="8.86" fill="#d24b40"/>
<rect x="592.26" y="163.24" width="10.29" height="8.86" fill="#bd1f2d"/>
<rect x="602.10" y="163.24" width="10.29" height="8.86" fill="#ca3b37"/>
<rect x="611.94" y="163.24" width="10.29" height="8.86" fill="#d24b40"/>
<rect x="621.78" y="163.24" width="10.29" height="8.86" fill="#dd5f4b"/>
<rect x="631.62" y="163.24" width="10.29" height="8.86" fill="#e36c55"/>
<rect x="641.46" y="163.24" width="10.29" height="8.86" fill="#e9785d"/>
<rect x="454.50" y="171.65" width="10.29" height="8.86" fill="#3b4cc0"/>
<rect x="464.34" y="171.65" width="10.29" height="8.86" fill="#3b4cc0"/>
<rect x="474.18" y="171.65" width="10.29" height="8.86" fill="#3b4cc0"/>
<rect x="484.02" y="171.65" width="10.29" height="8.86" fill="#3b4cc0"/>
<rect x="493.86" y="171.65" width="10.29" height="8.86" fill="#3b4cc0"/>
<rect x="503.70" y="171.65" width="10.29" height="8.86" fill="#3b4cc0"/>
<rect x="513.54" y="171.65" width="10.29" height="8.86" fill="#3b4cc0"/>
<rect x="523.38" y="171.65" width="10.29" height="8.86" fill="#3b4cc0"/>
<rect x="533.22" y="171.65" width="10.29" height="8.86" fill="#3b4cc0"/>
<rect x="543.06" y="171.65" width="10.29" height="8.86" fill="#3b4cc0"/>
<rect x="552.90" y="171.65" width="10.29" height="8.86" fill="#3b4cc0"/>
<rect x="562.74" y="171.65" width="10.29" height="8.86" fill="#3b4cc0"/>
<rect x="572.58" y="171.65" width="10.29" height="8.86" fill="#3b4cc0"/>
<rect x="582.42" y="171.65" width="10.29" height="8.86" fill="#f4987a"/>
<rect x="592.26" y="171.65" width="10.29" height="8.86" fill="#b40426"/>
<rect x="602.10" y="171.65" width="10.29" height="8.86" fill="#b40426"/>
<rect x="611.94" y="171.65" width="10.29" height="8.86" fill="#c12b30"/>
<rect x="621.78" y="171.65" width="10.29" height="8.86" fill="#c53334"/>
<rect x="631.62" y="171.65" width="10.29" height="8.86" fill="#cf453c"/>
<rect x="641.46" y="171.65" width="10.29" height="8.86" fill="#d95847"/>
<rect x="454.50" y="180.06" width="10.29" height="8.86" fill="#3b4cc0"/>
<rect x="464.34" y="180.06" width="10.29" height="8.86" fill="#3b4cc0"/>
<rect x="474.18" y="180.06" width="10.29" height="8.86" fill="#3b4cc0"/>
<rect x="484.02" y="180.06" width="10.29" height="8.86" fill="#3b4cc0"/>
<rect x="493.86" y="180.06" width="10.29" height="8.86" fill="#3b4cc0"/>
<rect x="503.70" y="180.06" width="10.29" height="8.86" fill="#3b4cc0"/>
<rect x="513.54" y="180.06" width="10.29" height="8.86" fill="#3b4cc0"/>
<rect x="523.38" y="180.06" width="10.29" height="8.86" fill="#3b4cc0"/>
<rect x="533.22" y="180.06" width="10.29" height="8.86" fill="#3b4cc0"/>
<rect x="543.06" y="180.06" width="10.29" height="8.86" fill="#3b4cc0"/>
<rect x="552.90" y="180.06" width="10.29" height="8.86" fill="#3b4cc0"/>
<rect x="562.74" y="180.06" width="10.29" height="8.86" fill="#3b4cc0"/>
<rect x="572.58" y="180.06" width="10.29" height="8.86" fill="#3b4cc0"/>
<rect x="582.42" y="180.06" width="10.29" height="8.86" fill="#3b4cc0"/>
<rect x="592.26" y="180.06" width="10.29" height="8.86" fill="#f6a385"/>
<rect x="602.10" y="180.06" width="10.29" height="8.86" fill="#b40426"/>
<rect x="611.94" y="180.06" width="10.29" height="8.86" fill="#b8122a"/>
<rect x="621.78" y="180.06" width="10.29" height="8.86" fill="#b40426"/>
<rect x="631.62" y="180.06" width="10.29" height="8.86" fill="#be242e"/>
<rect x="641.46" y="180.06" width="10.29" height="8.86" fill="#c53334"/>
<rect x="454.50" y="188.47" width="10.29" height="8.86" fill="#3b4cc0"/>
<rect x="464.34" y="188.47" width="10.29" height="8.86" fill="#3b4cc0"/>
<rect x="474.18" y="188.47" width="10.29" height="8.86" fill="#3b4cc0"/>
<rect x="484.02" y="188.47" width="10.29" height="8.86" fill="#3b4cc0"/>
<rect x="493.86" y="188.47" width="10.29" height="8.86" fill="#3b4cc0"/>
<rect x="503.70" y="188.47" width="10.29" height="8.86" fill="#3b4cc0"/>
<rect x="513.54" y="188.47" width="10.29" height="8.86" fill="#3b4cc0"/>
<rect x="523.38" y="188.47" width="10.29" height="8.86" fill="#3b4cc0"/>
<rect x="533.22" y="188.47" width="10.29" height="8.86" fill="#3b4cc0"/>
<rect x="543.06" y="188.47" width="10.29" height="8.86" fill="#3b4cc0"/>
<rect x="552.90" y="188.47" width="10.29" height="8.86" fill="#3b4cc0"/>
<rect x="562.74" y="188.47" width="10.29" height="8.86" fill="#3b4cc0"/>
<rect x="572.58" y="188.47" width="10.29" height="8.86" fill="#3b4cc0"/>
<rect x="582.42" y="188.47" width="10.29" height="8.86" fill="#3b4cc0"/>
<rect x="592.26" y="188.47" width="10.29" height="8.86" fill="#3b4cc0"/>
<rect x="602.10" y="188.47" width="10.29" height="8.86" fill="#3b4cc0"/>
<rect x="611.94" y="188.47" width="10.29" height="8.86" fill="#c53334"/>
<rect x="621.78" y="188.47" width="10.29" height="8.86" fill="#b40426"/>
<rect x="631.62" y="188.47" width="10.29" height="8.86" fill="#b40426"/>
<rect x="641.46" y="188.47" width="10.29" height="8.86" fill="#b40426"/>
<rect x="454.50" y="196.88" width="10.29" height="8.86" fill="#3b4cc0"/>
<rect x="464.34" y="196.88" width="10.29" height="8.86" fill="#3b4cc0"/>
<rect x="474.18" y="196.88" width="10.29" height="8.86" fill="#3b4cc0"/>
<rect x="484.02" y="196.88" width="10.29" height="8.86" fill="#3b4cc0"/>
<rect x="493.86" y="196.88" width="10.29" height="8.86" fill="#3b4cc0"/>
<rect x="503.70" y="196.88" width="10.29" height="8.86" fill="#3b4cc0"/>
<rect x="513.54" y="196.88" width="10.29" height="8.86" fill="#3b4cc0"/>
<rect x="523.38" y="196.88" width="10.29" height="8.86" fill="#3b4cc0"/>
<rect x="533.22" y="196.88" width="10.29" height="8.86" fill="#3b4cc0"/>
<rect x="543.06" y="196.88" width="10.29" height="8.86" fill="#3b4cc0"/>
<rect x="552.90" y="196.88" width="10.29" height="8.86" fill="#3b4cc0"/>
<rect x="562.74" y="196.88" width="10.29" height="8.86" fill="#3b4cc0"/>
<rect x="572.58" y="196.88" width="10.29" height="8.86" fill="#3b4cc0"/>
<rect x="582.42" y="196.88" width="10.29" height="8.86" fill="#3b4cc0"/>
<rect x="592.26" y="196.88" width="10.29" height="8.86" fill="#3b4cc0"/>
<rect x="602.10" y="196.88" width="10.29" height="8.86" fill="#3b4cc0"/>
<rect x="611.94" y="196.88" width="10.29" height="8.86" fill="#3b4cc0"/>
<rect x="621.78" y="196.88" width="10.29" height="8.86" fill="#3b4cc0"/>
<rect x="631.62" y="196.88" width="10.29" height="8.86" fill="#bd1f2d"/>
<rect x="641.46" y="196.88" width="10.29" height="8.86" fill="#b8122a"/>
<rect x="454.5" y="45.5" width="196.8" height="159.8" fill="none" stroke="#555" stroke-width="0.9"/>
<line x1="449.70" y1="49.70" x2="454.50" y2="49.70" stroke="#555" stroke-width="0.9" />
<text x="447.2" y="53.3" font-size="9.6" fill="#555" text-anchor="end" font-family='"DejaVu Sans", "Liberation Sans", sans-serif' >1.0</text>
<line x1="449.70" y1="83.34" x2="454.50" y2="83.34" stroke="#555" stroke-width="0.9" />
<text x="447.2" y="86.9" font-size="9.6" fill="#555" text-anchor="end" font-family='"DejaVu Sans", "Liberation Sans", sans-serif' >0.8</text>
<line x1="449.70" y1="116.98" x2="454.50" y2="116.98" stroke="#555" stroke-width="0.9" />
<text x="447.2" y="120.6" font-size="9.6" fill="#555" text-anchor="end" font-family='"DejaVu Sans", "Liberation Sans", sans-serif' >0.6</text>
<line x1="449.70" y1="150.62" x2="454.50" y2="150.62" stroke="#555" stroke-width="0.9" />
<text x="447.2" y="154.2" font-size="9.6" fill="#555" text-anchor="end" font-family='"DejaVu Sans", "Liberation Sans", sans-serif' >0.4</text>
<line x1="449.70" y1="184.27" x2="454.50" y2="184.27" stroke="#555" stroke-width="0.9" />
<text x="447.2" y="187.9" font-size="9.6" fill="#555" text-anchor="end" font-family='"DejaVu Sans", "Liberation Sans", sans-serif' >0.2</text>
<line x1="459.42" y1="205.29" x2="459.42" y2="208.79" stroke="#555" stroke-width="0.9" />
<line x1="584.06" y1="205.29" x2="584.06" y2="208.79" stroke="#555" stroke-width="0.9" />
<line x1="496.94" y1="205.29" x2="496.94" y2="207.29" stroke="#555" stroke-width="0.7" />
<line x1="518.89" y1="205.29" x2="518.89" y2="207.29" stroke="#555" stroke-width="0.7" />
<line x1="534.46" y1="205.29" x2="534.46" y2="207.29" stroke="#555" stroke-width="0.7" />
<line x1="546.54" y1="205.29" x2="546.54" y2="207.29" stroke="#555" stroke-width="0.7" />
<line x1="556.41" y1="205.29" x2="556.41" y2="207.29" stroke="#555" stroke-width="0.7" />
<line x1="564.75" y1="205.29" x2="564.75" y2="207.29" stroke="#555" stroke-width="0.7" />
<line x1="571.98" y1="205.29" x2="571.98" y2="207.29" stroke="#555" stroke-width="0.7" />
<line x1="578.36" y1="205.29" x2="578.36" y2="207.29" stroke="#555" stroke-width="0.7" />
<line x1="621.58" y1="205.29" x2="621.58" y2="207.29" stroke="#555" stroke-width="0.7" />
<line x1="643.53" y1="205.29" x2="643.53" y2="207.29" stroke="#555" stroke-width="0.7" />
<text x="452.0" y="220.1" font-size="9.8" fill="#555" font-family='"DejaVu Sans", "Liberation Sans", sans-serif'>10<tspan dy="-4" font-size="6.8">0</tspan></text>
<text x="576.7" y="220.1" font-size="9.8" fill="#555" font-family='"DejaVu Sans", "Liberation Sans", sans-serif'>10<tspan dy="-4" font-size="6.8">1</tspan></text>
<text x="390.4" y="34.6" font-size="20.2" fill="#111" text-anchor="start" font-family='"Liberation Sans", "DejaVu Sans", sans-serif' font-weight="bold" textLength="12.4" lengthAdjust="spacingAndGlyphs" stroke="#111" stroke-width="0.7" stroke-linejoin="round" >C</text>
<text x="443.7" y="33.7" font-size="14" fill="#222" text-anchor="start" font-family='"Liberation Sans", "DejaVu Sans", sans-serif' textLength="235.6" lengthAdjust="spacingAndGlyphs" stroke="#222" stroke-width="0.22" >Perceptron in teacher-student setting</text>
<text transform="translate(422.8,120.2) rotate(-90)" font-size="14" fill="#222" stroke="#222" stroke-width="0.22" text-anchor="middle" font-family='"Liberation Sans", "DejaVu Sans", sans-serif' textLength="92" lengthAdjust="spacingAndGlyphs">Frac. data kept</text>
<text x="445.3" y="237.6" font-size="14" fill="#222" text-anchor="start" font-family='"Liberation Sans", "DejaVu Sans", sans-serif' textLength="196.0" lengthAdjust="spacingAndGlyphs" stroke="#222" stroke-width="0.22" >Total examples per parameter (</text>
<text x="642.3" y="237.6" font-size="20.5" fill="#222" text-anchor="start" font-family='"Liberation Serif", "DejaVu Serif", serif' font-style="italic" textLength="12.2" lengthAdjust="spacingAndGlyphs" >α</text>
<text x="655.0" y="238.9" font-size="12.5" fill="#222" text-anchor="start" font-family='"Liberation Serif", "DejaVu Serif", serif' textLength="19.6" lengthAdjust="spacingAndGlyphs" >tot</text>
<text x="675.0" y="237.6" font-size="14" fill="#222" text-anchor="start" font-family='"Liberation Sans", "DejaVu Sans", sans-serif' stroke="#222" stroke-width="0.22" >)</text>
<text x="574.7" y="76.6" font-size="12.2" fill="#222" text-anchor="start" font-family='"Liberation Sans", "DejaVu Sans", sans-serif' font-weight="bold" textLength="59.2" lengthAdjust="spacingAndGlyphs" stroke="#222" stroke-width="0.3" >Keep hard</text>
<text x="574.7" y="92.0" font-size="12.2" fill="#222" text-anchor="start" font-family='"Liberation Sans", "DejaVu Sans", sans-serif' font-weight="bold" textLength="55.8" lengthAdjust="spacingAndGlyphs" stroke="#222" stroke-width="0.3" >examples</text>
<text x="469.8" y="165.0" font-size="12.2" fill="#fff" text-anchor="start" font-family='"Liberation Sans", "DejaVu Sans", sans-serif' font-weight="bold" textLength="58.9" lengthAdjust="spacingAndGlyphs" stroke="#fff" stroke-width="0.3" >Keep easy</text>
<text x="469.8" y="180.4" font-size="12.2" fill="#fff" text-anchor="start" font-family='"Liberation Sans", "DejaVu Sans", sans-serif' font-weight="bold" textLength="56.1" lengthAdjust="spacingAndGlyphs" stroke="#fff" stroke-width="0.3" >examples</text>
<defs><linearGradient id="cbC" x1="0" y1="0" x2="0" y2="1"><stop offset="0.000" stop-color="#b40426"/><stop offset="0.042" stop-color="#c32e31"/><stop offset="0.083" stop-color="#d1493f"/><stop offset="0.125" stop-color="#dd5f4b"/><stop offset="0.167" stop-color="#e7745b"/><stop offset="0.208" stop-color="#ef886b"/><stop offset="0.250" stop-color="#f4987a"/><stop offset="0.292" stop-color="#f7a98b"/><stop offset="0.333" stop-color="#f7b89c"/><stop offset="0.375" stop-color="#f5c4ac"/><stop offset="0.417" stop-color="#efcebd"/><stop offset="0.458" stop-color="#e7d7ce"/><stop offset="0.500" stop-color="#dddcdc"/><stop offset="0.542" stop-color="#d2dbe8"/><stop offset="0.583" stop-color="#c5d6f2"/><stop offset="0.625" stop-color="#b9d0f9"/><stop offset="0.667" stop-color="#aac7fd"/><stop offset="0.708" stop-color="#9bbcff"/><stop offset="0.750" stop-color="#8db0fe"/><stop offset="0.792" stop-color="#7ea1fa"/><stop offset="0.833" stop-color="#6f92f3"/><stop offset="0.875" stop-color="#6282ea"/><stop offset="0.917" stop-color="#5470de"/><stop offset="0.958" stop-color="#465ecf"/><stop offset="1.000" stop-color="#3b4cc0"/></linearGradient></defs>
<rect x="663.5" y="45.5" width="9.5" height="159.5" fill="url(#cbC)" stroke="#555" stroke-width="0.7"/>
<line x1="673.00" y1="45.50" x2="676.00" y2="45.50" stroke="#555" stroke-width="0.8" />
<text x="678.5" y="49.1" font-size="9.6" fill="#555" text-anchor="start" font-family='"DejaVu Sans", "Liberation Sans", sans-serif' >2.0</text>
<line x1="673.00" y1="65.44" x2="676.00" y2="65.44" stroke="#555" stroke-width="0.8" />
<text x="678.5" y="69.0" font-size="9.6" fill="#555" text-anchor="start" font-family='"DejaVu Sans", "Liberation Sans", sans-serif' >1.5</text>
<line x1="673.00" y1="85.38" x2="676.00" y2="85.38" stroke="#555" stroke-width="0.8" />
<text x="678.5" y="89.0" font-size="9.6" fill="#555" text-anchor="start" font-family='"DejaVu Sans", "Liberation Sans", sans-serif' >1.0</text>
<line x1="673.00" y1="105.31" x2="676.00" y2="105.31" stroke="#555" stroke-width="0.8" />
<text x="678.5" y="108.9" font-size="9.6" fill="#555" text-anchor="start" font-family='"DejaVu Sans", "Liberation Sans", sans-serif' >0.5</text>
<line x1="673.00" y1="125.25" x2="676.00" y2="125.25" stroke="#555" stroke-width="0.8" />
<text x="678.5" y="128.8" font-size="9.6" fill="#555" text-anchor="start" font-family='"DejaVu Sans", "Liberation Sans", sans-serif' >0.0</text>
<line x1="673.00" y1="145.19" x2="676.00" y2="145.19" stroke="#555" stroke-width="0.8" />
<text x="678.5" y="148.8" font-size="9.6" fill="#555" text-anchor="start" font-family='"DejaVu Sans", "Liberation Sans", sans-serif' >−0.5</text>
<line x1="673.00" y1="165.12" x2="676.00" y2="165.12" stroke="#555" stroke-width="0.8" />
<text x="678.5" y="168.7" font-size="9.6" fill="#555" text-anchor="start" font-family='"DejaVu Sans", "Liberation Sans", sans-serif' >−1.0</text>
<line x1="673.00" y1="185.06" x2="676.00" y2="185.06" stroke="#555" stroke-width="0.8" />
<text x="678.5" y="188.7" font-size="9.6" fill="#555" text-anchor="start" font-family='"DejaVu Sans", "Liberation Sans", sans-serif' >−1.5</text>
<line x1="673.00" y1="205.00" x2="676.00" y2="205.00" stroke="#555" stroke-width="0.8" />
<text x="678.5" y="208.6" font-size="9.6" fill="#555" text-anchor="start" font-family='"DejaVu Sans", "Liberation Sans", sans-serif' >−2.0</text>
<g transform="translate(715.8,55.4) rotate(90) scale(1.0,1)" font-family='"Liberation Sans", "DejaVu Sans", sans-serif' fill="#222"><text x="0" y="0" font-size="15.5" textLength="21.8" lengthAdjust="spacingAndGlyphs">acc</text><text x="22.4" y="8.3" font-size="8.2" textLength="35" lengthAdjust="spacingAndGlyphs">keep hard</text><text x="64.5" y="2.5" font-size="15.5">-</text><text x="74.2" y="0" font-size="15.5" textLength="22" lengthAdjust="spacingAndGlyphs">acc</text><text x="96.8" y="8.3" font-size="8.2" textLength="33.5" lengthAdjust="spacingAndGlyphs">keep easy</text><text x="130" y="0" font-size="15" textLength="22.5" lengthAdjust="spacingAndGlyphs">(%)</text></g>
<rect x="448.70" y="288.60" width="25.67" height="18.73" fill="#c4d5f3"/>
<rect x="473.92" y="288.60" width="25.67" height="18.73" fill="#dddcdc"/>
<rect x="499.14" y="288.60" width="25.67" height="18.73" fill="#c7d7f0"/>
<rect x="524.36" y="288.60" width="25.67" height="18.73" fill="#ccd9ed"/>
<rect x="549.58" y="288.60" width="25.67" height="18.73" fill="#d3dbe7"/>
<rect x="574.80" y="288.60" width="25.67" height="18.73" fill="#dddcdc"/>
<rect x="600.02" y="288.60" width="25.67" height="18.73" fill="#d3dbe7"/>
<rect x="625.24" y="288.60" width="25.67" height="18.73" fill="#dddcdc"/>
<rect x="448.70" y="306.88" width="25.67" height="18.73" fill="#c3d5f4"/>
<rect x="473.92" y="306.88" width="25.67" height="18.73" fill="#b9d0f9"/>
<rect x="499.14" y="306.88" width="25.67" height="18.73" fill="#dddcdc"/>
<rect x="524.36" y="306.88" width="25.67" height="18.73" fill="#eed0c0"/>
<rect x="549.58" y="306.88" width="25.67" height="18.73" fill="#f2cbb7"/>
<rect x="574.80" y="306.88" width="25.67" height="18.73" fill="#f3c8b2"/>
<rect x="600.02" y="306.88" width="25.67" height="18.73" fill="#f3c8b2"/>
<rect x="625.24" y="306.88" width="25.67" height="18.73" fill="#f5c4ac"/>
<rect x="448.70" y="325.16" width="25.67" height="18.73" fill="#c0d4f5"/>
<rect x="473.92" y="325.16" width="25.67" height="18.73" fill="#c3d5f4"/>
<rect x="499.14" y="325.16" width="25.67" height="18.73" fill="#dddcdc"/>
<rect x="524.36" y="325.16" width="25.67" height="18.73" fill="#f5c4ac"/>
<rect x="549.58" y="325.16" width="25.67" height="18.73" fill="#f6bda2"/>
<rect x="574.80" y="325.16" width="25.67" height="18.73" fill="#f7b093"/>
<rect x="600.02" y="325.16" width="25.67" height="18.73" fill="#f7ac8e"/>
<rect x="625.24" y="325.16" width="25.67" height="18.73" fill="#f6a385"/>
<rect x="448.70" y="343.44" width="25.67" height="18.73" fill="#7b9ff9"/>
<rect x="473.92" y="343.44" width="25.67" height="18.73" fill="#9ebeff"/>
<rect x="499.14" y="343.44" width="25.67" height="18.73" fill="#cfdaea"/>
<rect x="524.36" y="343.44" width="25.67" height="18.73" fill="#f7b599"/>
<rect x="549.58" y="343.44" width="25.67" height="18.73" fill="#f7ac8e"/>
<rect x="574.80" y="343.44" width="25.67" height="18.73" fill="#f18f71"/>
<rect x="600.02" y="343.44" width="25.67" height="18.73" fill="#ee8468"/>
<rect x="625.24" y="343.44" width="25.67" height="18.73" fill="#e36c55"/>
<rect x="448.70" y="361.72" width="25.67" height="18.73" fill="#3b4cc0"/>
<rect x="473.92" y="361.72" width="25.67" height="18.73" fill="#5977e3"/>
<rect x="499.14" y="361.72" width="25.67" height="18.73" fill="#ecd3c5"/>
<rect x="524.36" y="361.72" width="25.67" height="18.73" fill="#f6bda2"/>
<rect x="549.58" y="361.72" width="25.67" height="18.73" fill="#f18f71"/>
<rect x="574.80" y="361.72" width="25.67" height="18.73" fill="#e36c55"/>
<rect x="600.02" y="361.72" width="25.67" height="18.73" fill="#dd5f4b"/>
<rect x="625.24" y="361.72" width="25.67" height="18.73" fill="#e9785d"/>
<rect x="448.70" y="380.00" width="25.67" height="18.73" fill="#3b4cc0"/>
<rect x="473.92" y="380.00" width="25.67" height="18.73" fill="#3b4cc0"/>
<rect x="499.14" y="380.00" width="25.67" height="18.73" fill="#6a8bef"/>
<rect x="524.36" y="380.00" width="25.67" height="18.73" fill="#f5c4ac"/>
<rect x="549.58" y="380.00" width="25.67" height="18.73" fill="#f18f71"/>
<rect x="574.80" y="380.00" width="25.67" height="18.73" fill="#d65244"/>
<rect x="600.02" y="380.00" width="25.67" height="18.73" fill="#ca3b37"/>
<rect x="625.24" y="380.00" width="25.67" height="18.73" fill="#c53334"/>
<rect x="448.70" y="398.28" width="25.67" height="18.73" fill="#3b4cc0"/>
<rect x="473.92" y="398.28" width="25.67" height="18.73" fill="#3b4cc0"/>
<rect x="499.14" y="398.28" width="25.67" height="18.73" fill="#3b4cc0"/>
<rect x="524.36" y="398.28" width="25.67" height="18.73" fill="#3b4cc0"/>
<rect x="549.58" y="398.28" width="25.67" height="18.73" fill="#e6d7cf"/>
<rect x="574.80" y="398.28" width="25.67" height="18.73" fill="#e9785d"/>
<rect x="600.02" y="398.28" width="25.67" height="18.73" fill="#be242e"/>
<rect x="625.24" y="398.28" width="25.67" height="18.73" fill="#b8122a"/>
<rect x="448.70" y="416.56" width="25.67" height="18.73" fill="#3b4cc0"/>
<rect x="473.92" y="416.56" width="25.67" height="18.73" fill="#3b4cc0"/>
<rect x="499.14" y="416.56" width="25.67" height="18.73" fill="#3b4cc0"/>
<rect x="524.36" y="416.56" width="25.67" height="18.73" fill="#3b4cc0"/>
<rect x="549.58" y="416.56" width="25.67" height="18.73" fill="#3b4cc0"/>
<rect x="574.80" y="416.56" width="25.67" height="18.73" fill="#5d7ce6"/>
<rect x="600.02" y="416.56" width="25.67" height="18.73" fill="#f18f71"/>
<rect x="625.24" y="416.56" width="25.67" height="18.73" fill="#b40426"/>
<rect x="448.70" y="434.84" width="25.67" height="18.73" fill="#3b4cc0"/>
<rect x="473.92" y="434.84" width="25.67" height="18.73" fill="#3b4cc0"/>
<rect x="499.14" y="434.84" width="25.67" height="18.73" fill="#3b4cc0"/>
<rect x="524.36" y="434.84" width="25.67" height="18.73" fill="#3b4cc0"/>
<rect x="549.58" y="434.84" width="25.67" height="18.73" fill="#3b4cc0"/>
<rect x="574.80" y="434.84" width="25.67" height="18.73" fill="#3b4cc0"/>
<rect x="600.02" y="434.84" width="25.67" height="18.73" fill="#3b4cc0"/>
<rect x="625.24" y="434.84" width="25.67" height="18.73" fill="#3b4cc0"/>
<rect x="448.7" y="288.6" width="201.8" height="164.5" fill="none" stroke="#555" stroke-width="0.9"/>
<line x1="443.90" y1="297.74" x2="448.70" y2="297.74" stroke="#555" stroke-width="0.9" />
<text x="441.4" y="301.3" font-size="9.6" fill="#555" text-anchor="end" font-family='"DejaVu Sans", "Liberation Sans", sans-serif' >1.0</text>
<line x1="443.90" y1="334.30" x2="448.70" y2="334.30" stroke="#555" stroke-width="0.9" />
<text x="441.4" y="337.9" font-size="9.6" fill="#555" text-anchor="end" font-family='"DejaVu Sans", "Liberation Sans", sans-serif' >0.8</text>
<line x1="443.90" y1="370.86" x2="448.70" y2="370.86" stroke="#555" stroke-width="0.9" />
<text x="441.4" y="374.5" font-size="9.6" fill="#555" text-anchor="end" font-family='"DejaVu Sans", "Liberation Sans", sans-serif' >0.6</text>
<line x1="443.90" y1="407.42" x2="448.70" y2="407.42" stroke="#555" stroke-width="0.9" />
<text x="441.4" y="411.0" font-size="9.6" fill="#555" text-anchor="end" font-family='"DejaVu Sans", "Liberation Sans", sans-serif' >0.4</text>
<line x1="443.90" y1="443.98" x2="448.70" y2="443.98" stroke="#555" stroke-width="0.9" />
<text x="441.4" y="447.6" font-size="9.6" fill="#555" text-anchor="end" font-family='"DejaVu Sans", "Liberation Sans", sans-serif' >0.2</text>
<line x1="528.10" y1="453.12" x2="528.10" y2="456.62" stroke="#555" stroke-width="0.9" />
<line x1="463.43" y1="453.12" x2="463.43" y2="455.12" stroke="#555" stroke-width="0.7" />
<line x1="479.18" y1="453.12" x2="479.18" y2="455.12" stroke="#555" stroke-width="0.7" />
<line x1="492.05" y1="453.12" x2="492.05" y2="455.12" stroke="#555" stroke-width="0.7" />
<line x1="502.93" y1="453.12" x2="502.93" y2="455.12" stroke="#555" stroke-width="0.7" />
<line x1="512.35" y1="453.12" x2="512.35" y2="455.12" stroke="#555" stroke-width="0.7" />
<line x1="520.66" y1="453.12" x2="520.66" y2="455.12" stroke="#555" stroke-width="0.7" />
<line x1="577.02" y1="453.12" x2="577.02" y2="455.12" stroke="#555" stroke-width="0.7" />
<line x1="605.63" y1="453.12" x2="605.63" y2="455.12" stroke="#555" stroke-width="0.7" />
<line x1="625.93" y1="453.12" x2="625.93" y2="455.12" stroke="#555" stroke-width="0.7" />
<line x1="641.68" y1="453.12" x2="641.68" y2="455.12" stroke="#555" stroke-width="0.7" />
<text x="519.3" y="467.1" font-size="9.6" fill="#555" font-family='"DejaVu Sans", "Liberation Sans", sans-serif'>10<tspan dy="-4" font-size="6.8">4</tspan></text>
<text x="388.3" y="279.6" font-size="20.2" fill="#111" text-anchor="start" font-family='"Liberation Sans", "DejaVu Sans", sans-serif' font-weight="bold" textLength="13.9" lengthAdjust="spacingAndGlyphs" stroke="#111" stroke-width="0.7" stroke-linejoin="round" >D</text>
<text x="491.1" y="281.7" font-size="14" fill="#222" text-anchor="start" font-family='"Liberation Sans", "DejaVu Sans", sans-serif' textLength="138.4" lengthAdjust="spacingAndGlyphs" stroke="#222" stroke-width="0.22" >ResNet18 on CIFAR-10</text>
<text transform="translate(418,369.6) rotate(-90)" font-size="14" fill="#222" stroke="#222" stroke-width="0.22" text-anchor="middle" font-family='"Liberation Sans", "DejaVu Sans", sans-serif' textLength="92" lengthAdjust="spacingAndGlyphs">Frac. data kept</text>
<text x="513.3" y="484.3" font-size="14" fill="#222" text-anchor="start" font-family='"Liberation Sans", "DejaVu Sans", sans-serif' textLength="93.4" lengthAdjust="spacingAndGlyphs" stroke="#222" stroke-width="0.22" >Total examples</text>
<text x="570.4" y="324.5" font-size="12.2" fill="#222" text-anchor="start" font-family='"Liberation Sans", "DejaVu Sans", sans-serif' font-weight="bold" textLength="59.5" lengthAdjust="spacingAndGlyphs" stroke="#222" stroke-width="0.3" >Keep hard</text>
<text x="570.4" y="340.0" font-size="12.2" fill="#222" text-anchor="start" font-family='"Liberation Sans", "DejaVu Sans", sans-serif' font-weight="bold" textLength="55.8" lengthAdjust="spacingAndGlyphs" stroke="#222" stroke-width="0.3" >examples</text>
<text x="465.5" y="420.0" font-size="12.2" fill="#fff" text-anchor="start" font-family='"Liberation Sans", "DejaVu Sans", sans-serif' font-weight="bold" textLength="58.6" lengthAdjust="spacingAndGlyphs" stroke="#fff" stroke-width="0.3" >Keep easy</text>
<text x="465.9" y="435.4" font-size="12.2" fill="#fff" text-anchor="start" font-family='"Liberation Sans", "DejaVu Sans", sans-serif' font-weight="bold" textLength="55.7" lengthAdjust="spacingAndGlyphs" stroke="#fff" stroke-width="0.3" >examples</text>
<defs><linearGradient id="cbD" x1="0" y1="0" x2="0" y2="1"><stop offset="0.000" stop-color="#b40426"/><stop offset="0.042" stop-color="#c32e31"/><stop offset="0.083" stop-color="#d1493f"/><stop offset="0.125" stop-color="#dd5f4b"/><stop offset="0.167" stop-color="#e7745b"/><stop offset="0.208" stop-color="#ef886b"/><stop offset="0.250" stop-color="#f4987a"/><stop offset="0.292" stop-color="#f7a98b"/><stop offset="0.333" stop-color="#f7b89c"/><stop offset="0.375" stop-color="#f5c4ac"/><stop offset="0.417" stop-color="#efcebd"/><stop offset="0.458" stop-color="#e7d7ce"/><stop offset="0.500" stop-color="#dddcdc"/><stop offset="0.542" stop-color="#d2dbe8"/><stop offset="0.583" stop-color="#c5d6f2"/><stop offset="0.625" stop-color="#b9d0f9"/><stop offset="0.667" stop-color="#aac7fd"/><stop offset="0.708" stop-color="#9bbcff"/><stop offset="0.750" stop-color="#8db0fe"/><stop offset="0.792" stop-color="#7ea1fa"/><stop offset="0.833" stop-color="#6f92f3"/><stop offset="0.875" stop-color="#6282ea"/><stop offset="0.917" stop-color="#5470de"/><stop offset="0.958" stop-color="#465ecf"/><stop offset="1.000" stop-color="#3b4cc0"/></linearGradient></defs>
<rect x="663.3" y="289.0" width="9.6" height="164.1" fill="url(#cbD)" stroke="#555" stroke-width="0.7"/>
<line x1="673.00" y1="289.00" x2="676.00" y2="289.00" stroke="#555" stroke-width="0.8" />
<text x="678.5" y="292.6" font-size="9.6" fill="#555" text-anchor="start" font-family='"DejaVu Sans", "Liberation Sans", sans-serif' >0.08</text>
<line x1="673.00" y1="309.51" x2="676.00" y2="309.51" stroke="#555" stroke-width="0.8" />
<text x="678.5" y="313.1" font-size="9.6" fill="#555" text-anchor="start" font-family='"DejaVu Sans", "Liberation Sans", sans-serif' >0.06</text>
<line x1="673.00" y1="330.02" x2="676.00" y2="330.02" stroke="#555" stroke-width="0.8" />
<text x="678.5" y="333.6" font-size="9.6" fill="#555" text-anchor="start" font-family='"DejaVu Sans", "Liberation Sans", sans-serif' >0.04</text>
<line x1="673.00" y1="350.54" x2="676.00" y2="350.54" stroke="#555" stroke-width="0.8" />
<text x="678.5" y="354.1" font-size="9.6" fill="#555" text-anchor="start" font-family='"DejaVu Sans", "Liberation Sans", sans-serif' >0.02</text>
<line x1="673.00" y1="371.05" x2="676.00" y2="371.05" stroke="#555" stroke-width="0.8" />
<text x="678.5" y="374.7" font-size="9.6" fill="#555" text-anchor="start" font-family='"DejaVu Sans", "Liberation Sans", sans-serif' >0.00</text>
<line x1="673.00" y1="391.56" x2="676.00" y2="391.56" stroke="#555" stroke-width="0.8" />
<text x="678.5" y="395.2" font-size="9.6" fill="#555" text-anchor="start" font-family='"DejaVu Sans", "Liberation Sans", sans-serif' >−0.02</text>
<line x1="673.00" y1="412.07" x2="676.00" y2="412.07" stroke="#555" stroke-width="0.8" />
<text x="678.5" y="415.7" font-size="9.6" fill="#555" text-anchor="start" font-family='"DejaVu Sans", "Liberation Sans", sans-serif' >−0.04</text>
<line x1="673.00" y1="432.59" x2="676.00" y2="432.59" stroke="#555" stroke-width="0.8" />
<text x="678.5" y="436.2" font-size="9.6" fill="#555" text-anchor="start" font-family='"DejaVu Sans", "Liberation Sans", sans-serif' >−0.06</text>
<line x1="673.00" y1="453.10" x2="676.00" y2="453.10" stroke="#555" stroke-width="0.8" />
<text x="678.5" y="456.7" font-size="9.6" fill="#555" text-anchor="start" font-family='"DejaVu Sans", "Liberation Sans", sans-serif' >−0.08</text>
<g transform="translate(717.6,299.6) rotate(90) scale(1.035,1)" font-family='"Liberation Sans", "DejaVu Sans", sans-serif' fill="#222"><text x="0" y="0" font-size="15.5" textLength="21.8" lengthAdjust="spacingAndGlyphs">acc</text><text x="22.4" y="8.3" font-size="8.2" textLength="35" lengthAdjust="spacingAndGlyphs">keep hard</text><text x="64.5" y="2.5" font-size="15.5">-</text><text x="74.2" y="0" font-size="15.5" textLength="22" lengthAdjust="spacingAndGlyphs">acc</text><text x="96.8" y="8.3" font-size="8.2" textLength="33.5" lengthAdjust="spacingAndGlyphs">keep easy</text><text x="130" y="0" font-size="15" textLength="22.5" lengthAdjust="spacingAndGlyphs">(%)</text></g>
<rect x="793.50" y="48.40" width="12.12" height="5.91" fill="#981b5b"/>
<rect x="804.87" y="48.40" width="12.12" height="5.91" fill="#9a1b5b"/>
<rect x="816.25" y="48.40" width="12.12" height="5.91" fill="#aa185a"/>
<rect x="827.62" y="48.40" width="12.12" height="5.91" fill="#b91657"/>
<rect x="838.99" y="48.40" width="12.12" height="5.91" fill="#c81951"/>
<rect x="850.37" y="48.40" width="12.12" height="5.91" fill="#d72549"/>
<rect x="861.74" y="48.40" width="12.12" height="5.91" fill="#e73d3f"/>
<rect x="873.12" y="48.40" width="12.12" height="5.91" fill="#eb483e"/>
<rect x="884.49" y="48.40" width="12.12" height="5.91" fill="#ef5840"/>
<rect x="895.86" y="48.40" width="12.12" height="5.91" fill="#f16646"/>
<rect x="907.24" y="48.40" width="12.12" height="5.91" fill="#f4815a"/>
<rect x="918.61" y="48.40" width="12.12" height="5.91" fill="#f58b63"/>
<rect x="929.98" y="48.40" width="12.12" height="5.91" fill="#f58a61"/>
<rect x="941.36" y="48.40" width="12.12" height="5.91" fill="#f58860"/>
<rect x="952.73" y="48.40" width="12.12" height="5.91" fill="#f58f66"/>
<rect x="964.11" y="48.40" width="12.12" height="5.91" fill="#f6a077"/>
<rect x="975.48" y="48.40" width="12.12" height="5.91" fill="#f69b71"/>
<rect x="986.85" y="48.40" width="12.12" height="5.91" fill="#f69c73"/>
<rect x="998.23" y="48.40" width="12.12" height="5.91" fill="#f69e75"/>
<rect x="793.50" y="53.56" width="12.12" height="5.91" fill="#861e5b"/>
<rect x="804.87" y="53.56" width="12.12" height="5.91" fill="#891e5b"/>
<rect x="816.25" y="53.56" width="12.12" height="5.91" fill="#931c5b"/>
<rect x="827.62" y="53.56" width="12.12" height="5.91" fill="#a11a5b"/>
<rect x="838.99" y="53.56" width="12.12" height="5.91" fill="#ba1656"/>
<rect x="850.37" y="53.56" width="12.12" height="5.91" fill="#d5224a"/>
<rect x="861.74" y="53.56" width="12.12" height="5.91" fill="#e33641"/>
<rect x="873.12" y="53.56" width="12.12" height="5.91" fill="#ed4e3e"/>
<rect x="884.49" y="53.56" width="12.12" height="5.91" fill="#ef5a41"/>
<rect x="895.86" y="53.56" width="12.12" height="5.91" fill="#f3734e"/>
<rect x="907.24" y="53.56" width="12.12" height="5.91" fill="#f4835b"/>
<rect x="918.61" y="53.56" width="12.12" height="5.91" fill="#f58b63"/>
<rect x="929.98" y="53.56" width="12.12" height="5.91" fill="#f5976e"/>
<rect x="941.36" y="53.56" width="12.12" height="5.91" fill="#f69b71"/>
<rect x="952.73" y="53.56" width="12.12" height="5.91" fill="#f59970"/>
<rect x="964.11" y="53.56" width="12.12" height="5.91" fill="#f6a178"/>
<rect x="975.48" y="53.56" width="12.12" height="5.91" fill="#f6a67e"/>
<rect x="986.85" y="53.56" width="12.12" height="5.91" fill="#f6ab83"/>
<rect x="998.23" y="53.56" width="12.12" height="5.91" fill="#f6ab83"/>
<rect x="793.50" y="58.72" width="12.12" height="5.91" fill="#6e1f57"/>
<rect x="804.87" y="58.72" width="12.12" height="5.91" fill="#701f57"/>
<rect x="816.25" y="58.72" width="12.12" height="5.91" fill="#861e5b"/>
<rect x="827.62" y="58.72" width="12.12" height="5.91" fill="#9c1b5b"/>
<rect x="838.99" y="58.72" width="12.12" height="5.91" fill="#aa185a"/>
<rect x="850.37" y="58.72" width="12.12" height="5.91" fill="#d11f4c"/>
<rect x="861.74" y="58.72" width="12.12" height="5.91" fill="#e23442"/>
<rect x="873.12" y="58.72" width="12.12" height="5.91" fill="#eb483e"/>
<rect x="884.49" y="58.72" width="12.12" height="5.91" fill="#ee523f"/>
<rect x="895.86" y="58.72" width="12.12" height="5.91" fill="#f37852"/>
<rect x="907.24" y="58.72" width="12.12" height="5.91" fill="#f47f58"/>
<rect x="918.61" y="58.72" width="12.12" height="5.91" fill="#f58f66"/>
<rect x="929.98" y="58.72" width="12.12" height="5.91" fill="#f69b71"/>
<rect x="941.36" y="58.72" width="12.12" height="5.91" fill="#f69b71"/>
<rect x="952.73" y="58.72" width="12.12" height="5.91" fill="#f69e75"/>
<rect x="964.11" y="58.72" width="12.12" height="5.91" fill="#f6a47c"/>
<rect x="975.48" y="58.72" width="12.12" height="5.91" fill="#f6ae87"/>
<rect x="986.85" y="58.72" width="12.12" height="5.91" fill="#f6b38d"/>
<rect x="998.23" y="58.72" width="12.12" height="5.91" fill="#f6b48f"/>
<rect x="793.50" y="63.88" width="12.12" height="5.91" fill="#5e1f52"/>
<rect x="804.87" y="63.88" width="12.12" height="5.91" fill="#641f54"/>
<rect x="816.25" y="63.88" width="12.12" height="5.91" fill="#751f58"/>
<rect x="827.62" y="63.88" width="12.12" height="5.91" fill="#861e5b"/>
<rect x="838.99" y="63.88" width="12.12" height="5.91" fill="#af1759"/>
<rect x="850.37" y="63.88" width="12.12" height="5.91" fill="#c71951"/>
<rect x="861.74" y="63.88" width="12.12" height="5.91" fill="#db2946"/>
<rect x="873.12" y="63.88" width="12.12" height="5.91" fill="#ea443e"/>
<rect x="884.49" y="63.88" width="12.12" height="5.91" fill="#f16646"/>
<rect x="895.86" y="63.88" width="12.12" height="5.91" fill="#f26f4c"/>
<rect x="907.24" y="63.88" width="12.12" height="5.91" fill="#f4845d"/>
<rect x="918.61" y="63.88" width="12.12" height="5.91" fill="#f5966c"/>
<rect x="929.98" y="63.88" width="12.12" height="5.91" fill="#f59970"/>
<rect x="941.36" y="63.88" width="12.12" height="5.91" fill="#f6ab83"/>
<rect x="952.73" y="63.88" width="12.12" height="5.91" fill="#f6b18b"/>
<rect x="964.11" y="63.88" width="12.12" height="5.91" fill="#f6ad85"/>
<rect x="975.48" y="63.88" width="12.12" height="5.91" fill="#f6bb97"/>
<rect x="986.85" y="63.88" width="12.12" height="5.91" fill="#f6b48f"/>
<rect x="998.23" y="63.88" width="12.12" height="5.91" fill="#f6b691"/>
<rect x="793.50" y="69.04" width="12.12" height="5.91" fill="#511e4d"/>
<rect x="804.87" y="69.04" width="12.12" height="5.91" fill="#5b1e51"/>
<rect x="816.25" y="69.04" width="12.12" height="5.91" fill="#641f54"/>
<rect x="827.62" y="69.04" width="12.12" height="5.91" fill="#821e5a"/>
<rect x="838.99" y="69.04" width="12.12" height="5.91" fill="#981b5b"/>
<rect x="850.37" y="69.04" width="12.12" height="5.91" fill="#bd1655"/>
<rect x="861.74" y="69.04" width="12.12" height="5.91" fill="#dc2b46"/>
<rect x="873.12" y="69.04" width="12.12" height="5.91" fill="#ed4e3e"/>
<rect x="884.49" y="69.04" width="12.12" height="5.91" fill="#f16445"/>
<rect x="895.86" y="69.04" width="12.12" height="5.91" fill="#f47a54"/>
<rect x="907.24" y="69.04" width="12.12" height="5.91" fill="#f4845d"/>
<rect x="918.61" y="69.04" width="12.12" height="5.91" fill="#f59970"/>
<rect x="929.98" y="69.04" width="12.12" height="5.91" fill="#f6a47c"/>
<rect x="941.36" y="69.04" width="12.12" height="5.91" fill="#f6a47c"/>
<rect x="952.73" y="69.04" width="12.12" height="5.91" fill="#f6ad85"/>
<rect x="964.11" y="69.04" width="12.12" height="5.91" fill="#f6bb97"/>
<rect x="975.48" y="69.04" width="12.12" height="5.91" fill="#f6c19f"/>
<rect x="986.85" y="69.04" width="12.12" height="5.91" fill="#f6c19f"/>
<rect x="998.23" y="69.04" width="12.12" height="5.91" fill="#f7c4a4"/>
<rect x="793.50" y="74.20" width="12.12" height="5.91" fill="#481c48"/>
<rect x="804.87" y="74.20" width="12.12" height="5.91" fill="#501d4c"/>
<rect x="816.25" y="74.20" width="12.12" height="5.91" fill="#5b1e51"/>
<rect x="827.62" y="74.20" width="12.12" height="5.91" fill="#711f57"/>
<rect x="838.99" y="74.20" width="12.12" height="5.91" fill="#981b5b"/>
<rect x="850.37" y="74.20" width="12.12" height="5.91" fill="#bc1656"/>
<rect x="861.74" y="74.20" width="12.12" height="5.91" fill="#e33641"/>
<rect x="873.12" y="74.20" width="12.12" height="5.91" fill="#ec4a3e"/>
<rect x="884.49" y="74.20" width="12.12" height="5.91" fill="#f06043"/>
<rect x="895.86" y="74.20" width="12.12" height="5.91" fill="#f37651"/>
<rect x="907.24" y="74.20" width="12.12" height="5.91" fill="#f58b63"/>
<rect x="918.61" y="74.20" width="12.12" height="5.91" fill="#f69b71"/>
<rect x="929.98" y="74.20" width="12.12" height="5.91" fill="#f6a981"/>
<rect x="941.36" y="74.20" width="12.12" height="5.91" fill="#f6b18b"/>
<rect x="952.73" y="74.20" width="12.12" height="5.91" fill="#f6bb97"/>
<rect x="964.11" y="74.20" width="12.12" height="5.91" fill="#f6bb97"/>
<rect x="975.48" y="74.20" width="12.12" height="5.91" fill="#f7c6a6"/>
<rect x="986.85" y="74.20" width="12.12" height="5.91" fill="#f7caac"/>
<rect x="998.23" y="74.20" width="12.12" height="5.91" fill="#f7c6a6"/>
<rect x="793.50" y="79.36" width="12.12" height="5.91" fill="#3f1b43"/>
<rect x="804.87" y="79.36" width="12.12" height="5.91" fill="#461c48"/>
<rect x="816.25" y="79.36" width="12.12" height="5.91" fill="#501d4c"/>
<rect x="827.62" y="79.36" width="12.12" height="5.91" fill="#691f55"/>
<rect x="838.99" y="79.36" width="12.12" height="5.91" fill="#8b1d5b"/>
<rect x="850.37" y="79.36" width="12.12" height="5.91" fill="#bf1654"/>
<rect x="861.74" y="79.36" width="12.12" height="5.91" fill="#d92847"/>
<rect x="873.12" y="79.36" width="12.12" height="5.91" fill="#e9423e"/>
<rect x="884.49" y="79.36" width="12.12" height="5.91" fill="#f16646"/>
<rect x="895.86" y="79.36" width="12.12" height="5.91" fill="#f3714d"/>
<rect x="907.24" y="79.36" width="12.12" height="5.91" fill="#f59269"/>
<rect x="918.61" y="79.36" width="12.12" height="5.91" fill="#f6a178"/>
<rect x="929.98" y="79.36" width="12.12" height="5.91" fill="#f6ae87"/>
<rect x="941.36" y="79.36" width="12.12" height="5.91" fill="#f6b691"/>
<rect x="952.73" y="79.36" width="12.12" height="5.91" fill="#f6b893"/>
<rect x="964.11" y="79.36" width="12.12" height="5.91" fill="#f6bc99"/>
<rect x="975.48" y="79.36" width="12.12" height="5.91" fill="#f7d0b5"/>
<rect x="986.85" y="79.36" width="12.12" height="5.91" fill="#f7ccaf"/>
<rect x="998.23" y="79.36" width="12.12" height="5.91" fill="#f7cfb3"/>
<rect x="793.50" y="84.52" width="12.12" height="5.91" fill="#3d1a42"/>
<rect x="804.87" y="84.52" width="12.12" height="5.91" fill="#3c1a42"/>
<rect x="816.25" y="84.52" width="12.12" height="5.91" fill="#481c48"/>
<rect x="827.62" y="84.52" width="12.12" height="5.91" fill="#631f53"/>
<rect x="838.99" y="84.52" width="12.12" height="5.91" fill="#8b1d5b"/>
<rect x="850.37" y="84.52" width="12.12" height="5.91" fill="#af1759"/>
<rect x="861.74" y="84.52" width="12.12" height="5.91" fill="#d82748"/>
<rect x="873.12" y="84.52" width="12.12" height="5.91" fill="#ed503e"/>
<rect x="884.49" y="84.52" width="12.12" height="5.91" fill="#f16646"/>
<rect x="895.86" y="84.52" width="12.12" height="5.91" fill="#f26b49"/>
<rect x="907.24" y="84.52" width="12.12" height="5.91" fill="#f58860"/>
<rect x="918.61" y="84.52" width="12.12" height="5.91" fill="#f6a37a"/>
<rect x="929.98" y="84.52" width="12.12" height="5.91" fill="#f6ae87"/>
<rect x="941.36" y="84.52" width="12.12" height="5.91" fill="#f6b995"/>
<rect x="952.73" y="84.52" width="12.12" height="5.91" fill="#f7c7a8"/>
<rect x="964.11" y="84.52" width="12.12" height="5.91" fill="#f7c2a2"/>
<rect x="975.48" y="84.52" width="12.12" height="5.91" fill="#f8d3ba"/>
<rect x="986.85" y="84.52" width="12.12" height="5.91" fill="#f8d3ba"/>
<rect x="998.23" y="84.52" width="12.12" height="5.91" fill="#f8d7c0"/>
<rect x="793.50" y="89.68" width="12.12" height="5.91" fill="#31183b"/>
<rect x="804.87" y="89.68" width="12.12" height="5.91" fill="#3a1a41"/>
<rect x="816.25" y="89.68" width="12.12" height="5.91" fill="#401b44"/>
<rect x="827.62" y="89.68" width="12.12" height="5.91" fill="#581e4f"/>
<rect x="838.99" y="89.68" width="12.12" height="5.91" fill="#841e5a"/>
<rect x="850.37" y="89.68" width="12.12" height="5.91" fill="#ab185a"/>
<rect x="861.74" y="89.68" width="12.12" height="5.91" fill="#d11f4c"/>
<rect x="873.12" y="89.68" width="12.12" height="5.91" fill="#ed503e"/>
<rect x="884.49" y="89.68" width="12.12" height="5.91" fill="#f26747"/>
<rect x="895.86" y="89.68" width="12.12" height="5.91" fill="#f4815a"/>
<rect x="907.24" y="89.68" width="12.12" height="5.91" fill="#f59067"/>
<rect x="918.61" y="89.68" width="12.12" height="5.91" fill="#f6a47c"/>
<rect x="929.98" y="89.68" width="12.12" height="5.91" fill="#f6b18b"/>
<rect x="941.36" y="89.68" width="12.12" height="5.91" fill="#f6bc99"/>
<rect x="952.73" y="89.68" width="12.12" height="5.91" fill="#f7c9aa"/>
<rect x="964.11" y="89.68" width="12.12" height="5.91" fill="#f7d0b5"/>
<rect x="975.48" y="89.68" width="12.12" height="5.91" fill="#f8d1b8"/>
<rect x="986.85" y="89.68" width="12.12" height="5.91" fill="#f9dfcb"/>
<rect x="998.23" y="89.68" width="12.12" height="5.91" fill="#f8d3ba"/>
<rect x="793.50" y="94.84" width="12.12" height="5.91" fill="#271534"/>
<rect x="804.87" y="94.84" width="12.12" height="5.91" fill="#2e1739"/>
<rect x="816.25" y="94.84" width="12.12" height="5.91" fill="#3f1b43"/>
<rect x="827.62" y="94.84" width="12.12" height="5.91" fill="#4e1d4b"/>
<rect x="838.99" y="94.84" width="12.12" height="5.91" fill="#711f57"/>
<rect x="850.37" y="94.84" width="12.12" height="5.91" fill="#9a1b5b"/>
<rect x="861.74" y="94.84" width="12.12" height="5.91" fill="#cd1c4e"/>
<rect x="873.12" y="94.84" width="12.12" height="5.91" fill="#e8403e"/>
<rect x="884.49" y="94.84" width="12.12" height="5.91" fill="#f16646"/>
<rect x="895.86" y="94.84" width="12.12" height="5.91" fill="#f47d57"/>
<rect x="907.24" y="94.84" width="12.12" height="5.91" fill="#f5966c"/>
<rect x="918.61" y="94.84" width="12.12" height="5.91" fill="#f6a37a"/>
<rect x="929.98" y="94.84" width="12.12" height="5.91" fill="#f6c19f"/>
<rect x="941.36" y="94.84" width="12.12" height="5.91" fill="#f7c2a2"/>
<rect x="952.73" y="94.84" width="12.12" height="5.91" fill="#f7c7a8"/>
<rect x="964.11" y="94.84" width="12.12" height="5.91" fill="#f8d4bc"/>
<rect x="975.48" y="94.84" width="12.12" height="5.91" fill="#f8dac5"/>
<rect x="986.85" y="94.84" width="12.12" height="5.91" fill="#f9dfcb"/>
<rect x="998.23" y="94.84" width="12.12" height="5.91" fill="#f8dac5"/>
<rect x="793.50" y="100.00" width="12.12" height="5.91" fill="#271534"/>
<rect x="804.87" y="100.00" width="12.12" height="5.91" fill="#31183b"/>
<rect x="816.25" y="100.00" width="12.12" height="5.91" fill="#30173a"/>
<rect x="827.62" y="100.00" width="12.12" height="5.91" fill="#431c46"/>
<rect x="838.99" y="100.00" width="12.12" height="5.91" fill="#601f52"/>
<rect x="850.37" y="100.00" width="12.12" height="5.91" fill="#931c5b"/>
<rect x="861.74" y="100.00" width="12.12" height="5.91" fill="#ca1a50"/>
<rect x="873.12" y="100.00" width="12.12" height="5.91" fill="#ec4a3e"/>
<rect x="884.49" y="100.00" width="12.12" height="5.91" fill="#f16646"/>
<rect x="895.86" y="100.00" width="12.12" height="5.91" fill="#f4835b"/>
<rect x="907.24" y="100.00" width="12.12" height="5.91" fill="#f59269"/>
<rect x="918.61" y="100.00" width="12.12" height="5.91" fill="#f6ab83"/>
<rect x="929.98" y="100.00" width="12.12" height="5.91" fill="#f6b893"/>
<rect x="941.36" y="100.00" width="12.12" height="5.91" fill="#f7c9aa"/>
<rect x="952.73" y="100.00" width="12.12" height="5.91" fill="#f8d6be"/>
<rect x="964.11" y="100.00" width="12.12" height="5.91" fill="#f8d7c0"/>
<rect x="975.48" y="100.00" width="12.12" height="5.91" fill="#f9e0cd"/>
<rect x="986.85" y="100.00" width="12.12" height="5.91" fill="#fae6d6"/>
<rect x="998.23" y="100.00" width="12.12" height="5.91" fill="#f9e3d2"/>
<rect x="793.50" y="105.16" width="12.12" height="5.91" fill="#1d112c"/>
<rect x="804.87" y="105.16" width="12.12" height="5.91" fill="#221331"/>
<rect x="816.25" y="105.16" width="12.12" height="5.91" fill="#31183b"/>
<rect x="827.62" y="105.16" width="12.12" height="5.91" fill="#3a1a41"/>
<rect x="838.99" y="105.16" width="12.12" height="5.91" fill="#591e50"/>
<rect x="850.37" y="105.16" width="12.12" height="5.91" fill="#821e5a"/>
<rect x="861.74" y="105.16" width="12.12" height="5.91" fill="#bd1655"/>
<rect x="873.12" y="105.16" width="12.12" height="5.91" fill="#ec4a3e"/>
<rect x="884.49" y="105.16" width="12.12" height="5.91" fill="#f05e42"/>
<rect x="895.86" y="105.16" width="12.12" height="5.91" fill="#f37651"/>
<rect x="907.24" y="105.16" width="12.12" height="5.91" fill="#f59970"/>
<rect x="918.61" y="105.16" width="12.12" height="5.91" fill="#f6ab83"/>
<rect x="929.98" y="105.16" width="12.12" height="5.91" fill="#f7c2a2"/>
<rect x="941.36" y="105.16" width="12.12" height="5.91" fill="#f8d1b8"/>
<rect x="952.73" y="105.16" width="12.12" height="5.91" fill="#f9dfcb"/>
<rect x="964.11" y="105.16" width="12.12" height="5.91" fill="#f9e5d4"/>
<rect x="975.48" y="105.16" width="12.12" height="5.91" fill="#fae8d8"/>
<rect x="986.85" y="105.16" width="12.12" height="5.91" fill="#f9e3d2"/>
<rect x="998.23" y="105.16" width="12.12" height="5.91" fill="#f9e3d2"/>
<rect x="793.50" y="110.32" width="12.12" height="5.91" fill="#1d112c"/>
<rect x="804.87" y="110.32" width="12.12" height="5.91" fill="#211330"/>
<rect x="816.25" y="110.32" width="12.12" height="5.91" fill="#2a1636"/>
<rect x="827.62" y="110.32" width="12.12" height="5.91" fill="#33183c"/>
<rect x="838.99" y="110.32" width="12.12" height="5.91" fill="#431c46"/>
<rect x="850.37" y="110.32" width="12.12" height="5.91" fill="#781f59"/>
<rect x="861.74" y="110.32" width="12.12" height="5.91" fill="#b51657"/>
<rect x="873.12" y="110.32" width="12.12" height="5.91" fill="#eb463e"/>
<rect x="884.49" y="110.32" width="12.12" height="5.91" fill="#f26747"/>
<rect x="895.86" y="110.32" width="12.12" height="5.91" fill="#f4815a"/>
<rect x="907.24" y="110.32" width="12.12" height="5.91" fill="#f59269"/>
<rect x="918.61" y="110.32" width="12.12" height="5.91" fill="#f7c2a2"/>
<rect x="929.98" y="110.32" width="12.12" height="5.91" fill="#f7c2a2"/>
<rect x="941.36" y="110.32" width="12.12" height="5.91" fill="#faebdd"/>
<rect x="952.73" y="110.32" width="12.12" height="5.91" fill="#faebdd"/>
<rect x="964.11" y="110.32" width="12.12" height="5.91" fill="#fae6d6"/>
<rect x="975.48" y="110.32" width="12.12" height="5.91" fill="#fae8d8"/>
<rect x="986.85" y="110.32" width="12.12" height="5.91" fill="#fae8d8"/>
<rect x="998.23" y="110.32" width="12.12" height="5.91" fill="#f9e2d0"/>
<rect x="793.50" y="115.48" width="12.12" height="5.91" fill="#180f29"/>
<rect x="804.87" y="115.48" width="12.12" height="5.91" fill="#140e26"/>
<rect x="816.25" y="115.48" width="12.12" height="5.91" fill="#241432"/>
<rect x="827.62" y="115.48" width="12.12" height="5.91" fill="#33183c"/>
<rect x="838.99" y="115.48" width="12.12" height="5.91" fill="#4b1d4a"/>
<rect x="850.37" y="115.48" width="12.12" height="5.91" fill="#6d1f56"/>
<rect x="861.74" y="115.48" width="12.12" height="5.91" fill="#a6195a"/>
<rect x="873.12" y="115.48" width="12.12" height="5.91" fill="#e63b40"/>
<rect x="884.49" y="115.48" width="12.12" height="5.91" fill="#f26747"/>
<rect x="895.86" y="115.48" width="12.12" height="5.91" fill="#f37852"/>
<rect x="907.24" y="115.48" width="12.12" height="5.91" fill="#f5976e"/>
<rect x="918.61" y="115.48" width="12.12" height="5.91" fill="#f6a37a"/>
<rect x="929.98" y="115.48" width="12.12" height="5.91" fill="#f9e5d4"/>
<rect x="941.36" y="115.48" width="12.12" height="5.91" fill="#f9e3d2"/>
<rect x="952.73" y="115.48" width="12.12" height="5.91" fill="#fae6d6"/>
<rect x="964.11" y="115.48" width="12.12" height="5.91" fill="#fae8d8"/>
<rect x="975.48" y="115.48" width="12.12" height="5.91" fill="#fae6d6"/>
<rect x="986.85" y="115.48" width="12.12" height="5.91" fill="#fae6d6"/>
<rect x="998.23" y="115.48" width="12.12" height="5.91" fill="#faebdd"/>
<rect x="793.50" y="120.64" width="12.12" height="5.91" fill="#170f28"/>
<rect x="804.87" y="120.64" width="12.12" height="5.91" fill="#180f29"/>
<rect x="816.25" y="120.64" width="12.12" height="5.91" fill="#20122e"/>
<rect x="827.62" y="120.64" width="12.12" height="5.91" fill="#271534"/>
<rect x="838.99" y="120.64" width="12.12" height="5.91" fill="#401b44"/>
<rect x="850.37" y="120.64" width="12.12" height="5.91" fill="#681f55"/>
<rect x="861.74" y="120.64" width="12.12" height="5.91" fill="#9e1a5b"/>
<rect x="873.12" y="120.64" width="12.12" height="5.91" fill="#e8403e"/>
<rect x="884.49" y="120.64" width="12.12" height="5.91" fill="#f16244"/>
<rect x="895.86" y="120.64" width="12.12" height="5.91" fill="#f47c55"/>
<rect x="907.24" y="120.64" width="12.12" height="5.91" fill="#f69c73"/>
<rect x="918.61" y="120.64" width="12.12" height="5.91" fill="#f6b48f"/>
<rect x="929.98" y="120.64" width="12.12" height="5.91" fill="#faebdd"/>
<rect x="941.36" y="120.64" width="12.12" height="5.91" fill="#f9dfcb"/>
<rect x="952.73" y="120.64" width="12.12" height="5.91" fill="#faebdd"/>
<rect x="964.11" y="120.64" width="12.12" height="5.91" fill="#f9e5d4"/>
<rect x="975.48" y="120.64" width="12.12" height="5.91" fill="#faebdd"/>
<rect x="986.85" y="120.64" width="12.12" height="5.91" fill="#faebdd"/>
<rect x="998.23" y="120.64" width="12.12" height="5.91" fill="#faebdd"/>
<rect x="793.50" y="125.80" width="12.12" height="5.91" fill="#160e27"/>
<rect x="804.87" y="125.80" width="12.12" height="5.91" fill="#160e27"/>
<rect x="816.25" y="125.80" width="12.12" height="5.91" fill="#170f28"/>
<rect x="827.62" y="125.80" width="12.12" height="5.91" fill="#211330"/>
<rect x="838.99" y="125.80" width="12.12" height="5.91" fill="#381a40"/>
<rect x="850.37" y="125.80" width="12.12" height="5.91" fill="#601f52"/>
<rect x="861.74" y="125.80" width="12.12" height="5.91" fill="#9c1b5b"/>
<rect x="873.12" y="125.80" width="12.12" height="5.91" fill="#e83f3f"/>
<rect x="884.49" y="125.80" width="12.12" height="5.91" fill="#f05c42"/>
<rect x="895.86" y="125.80" width="12.12" height="5.91" fill="#f4845d"/>
<rect x="907.24" y="125.80" width="12.12" height="5.91" fill="#f5966c"/>
<rect x="918.61" y="125.80" width="12.12" height="5.91" fill="#f6a981"/>
<rect x="929.98" y="125.80" width="12.12" height="5.91" fill="#f7c7a8"/>
<rect x="941.36" y="125.80" width="12.12" height="5.91" fill="#f9e2d0"/>
<rect x="952.73" y="125.80" width="12.12" height="5.91" fill="#f9e5d4"/>
<rect x="964.11" y="125.80" width="12.12" height="5.91" fill="#fae9da"/>
<rect x="975.48" y="125.80" width="12.12" height="5.91" fill="#faebdd"/>
<rect x="986.85" y="125.80" width="12.12" height="5.91" fill="#fae8d8"/>
<rect x="998.23" y="125.80" width="12.12" height="5.91" fill="#faebdd"/>
<rect x="793.50" y="130.96" width="12.12" height="5.91" fill="#08081e"/>
<rect x="804.87" y="130.96" width="12.12" height="5.91" fill="#1a102a"/>
<rect x="816.25" y="130.96" width="12.12" height="5.91" fill="#180f29"/>
<rect x="827.62" y="130.96" width="12.12" height="5.91" fill="#20122e"/>
<rect x="838.99" y="130.96" width="12.12" height="5.91" fill="#35193e"/>
<rect x="850.37" y="130.96" width="12.12" height="5.91" fill="#531e4d"/>
<rect x="861.74" y="130.96" width="12.12" height="5.91" fill="#9a1b5b"/>
<rect x="873.12" y="130.96" width="12.12" height="5.91" fill="#e9423e"/>
<rect x="884.49" y="130.96" width="12.12" height="5.91" fill="#ef5a41"/>
<rect x="895.86" y="130.96" width="12.12" height="5.91" fill="#f47c55"/>
<rect x="907.24" y="130.96" width="12.12" height="5.91" fill="#f5976e"/>
<rect x="918.61" y="130.96" width="12.12" height="5.91" fill="#f6a981"/>
<rect x="929.98" y="130.96" width="12.12" height="5.91" fill="#f7c6a6"/>
<rect x="941.36" y="130.96" width="12.12" height="5.91" fill="#f9dfcb"/>
<rect x="952.73" y="130.96" width="12.12" height="5.91" fill="#faebdd"/>
<rect x="964.11" y="130.96" width="12.12" height="5.91" fill="#fae9da"/>
<rect x="975.48" y="130.96" width="12.12" height="5.91" fill="#faebdd"/>
<rect x="986.85" y="130.96" width="12.12" height="5.91" fill="#faebdd"/>
<rect x="998.23" y="130.96" width="12.12" height="5.91" fill="#f9e2d0"/>
<rect x="793.50" y="136.12" width="12.12" height="5.91" fill="#0e0b22"/>
<rect x="804.87" y="136.12" width="12.12" height="5.91" fill="#0b0920"/>
<rect x="816.25" y="136.12" width="12.12" height="5.91" fill="#110c24"/>
<rect x="827.62" y="136.12" width="12.12" height="5.91" fill="#2a1636"/>
<rect x="838.99" y="136.12" width="12.12" height="5.91" fill="#33183c"/>
<rect x="850.37" y="136.12" width="12.12" height="5.91" fill="#5b1e51"/>
<rect x="861.74" y="136.12" width="12.12" height="5.91" fill="#931c5b"/>
<rect x="873.12" y="136.12" width="12.12" height="5.91" fill="#e8403e"/>
<rect x="884.49" y="136.12" width="12.12" height="5.91" fill="#ef5a41"/>
<rect x="895.86" y="136.12" width="12.12" height="5.91" fill="#f47c55"/>
<rect x="907.24" y="136.12" width="12.12" height="5.91" fill="#f5946b"/>
<rect x="918.61" y="136.12" width="12.12" height="5.91" fill="#f6ad85"/>
<rect x="929.98" y="136.12" width="12.12" height="5.91" fill="#f7ccaf"/>
<rect x="941.36" y="136.12" width="12.12" height="5.91" fill="#f9ddc9"/>
<rect x="952.73" y="136.12" width="12.12" height="5.91" fill="#faebdd"/>
<rect x="964.11" y="136.12" width="12.12" height="5.91" fill="#fae9da"/>
<rect x="975.48" y="136.12" width="12.12" height="5.91" fill="#faebdd"/>
<rect x="986.85" y="136.12" width="12.12" height="5.91" fill="#fae6d6"/>
<rect x="998.23" y="136.12" width="12.12" height="5.91" fill="#faebdd"/>
<rect x="793.50" y="141.28" width="12.12" height="5.91" fill="#0b0920"/>
<rect x="804.87" y="141.28" width="12.12" height="5.91" fill="#110c24"/>
<rect x="816.25" y="141.28" width="12.12" height="5.91" fill="#160e27"/>
<rect x="827.62" y="141.28" width="12.12" height="5.91" fill="#241432"/>
<rect x="838.99" y="141.28" width="12.12" height="5.91" fill="#31183b"/>
<rect x="850.37" y="141.28" width="12.12" height="5.91" fill="#511e4d"/>
<rect x="861.74" y="141.28" width="12.12" height="5.91" fill="#901d5b"/>
<rect x="873.12" y="141.28" width="12.12" height="5.91" fill="#e83f3f"/>
<rect x="884.49" y="141.28" width="12.12" height="5.91" fill="#f06043"/>
<rect x="895.86" y="141.28" width="12.12" height="5.91" fill="#f47f58"/>
<rect x="907.24" y="141.28" width="12.12" height="5.91" fill="#f59970"/>
<rect x="918.61" y="141.28" width="12.12" height="5.91" fill="#f6b38d"/>
<rect x="929.98" y="141.28" width="12.12" height="5.91" fill="#f7c9aa"/>
<rect x="941.36" y="141.28" width="12.12" height="5.91" fill="#f9e3d2"/>
<rect x="952.73" y="141.28" width="12.12" height="5.91" fill="#faebdd"/>
<rect x="964.11" y="141.28" width="12.12" height="5.91" fill="#faebdd"/>
<rect x="975.48" y="141.28" width="12.12" height="5.91" fill="#faebdd"/>
<rect x="986.85" y="141.28" width="12.12" height="5.91" fill="#fae9da"/>
<rect x="998.23" y="141.28" width="12.12" height="5.91" fill="#f9e3d2"/>
<rect x="793.50" y="146.44" width="12.12" height="5.91" fill="#100b23"/>
<rect x="804.87" y="146.44" width="12.12" height="5.91" fill="#0b0920"/>
<rect x="816.25" y="146.44" width="12.12" height="5.91" fill="#1b112b"/>
<rect x="827.62" y="146.44" width="12.12" height="5.91" fill="#140e26"/>
<rect x="838.99" y="146.44" width="12.12" height="5.91" fill="#2d1738"/>
<rect x="850.37" y="146.44" width="12.12" height="5.91" fill="#501d4c"/>
<rect x="861.74" y="146.44" width="12.12" height="5.91" fill="#891e5b"/>
<rect x="873.12" y="146.44" width="12.12" height="5.91" fill="#e53940"/>
<rect x="884.49" y="146.44" width="12.12" height="5.91" fill="#f05c42"/>
<rect x="895.86" y="146.44" width="12.12" height="5.91" fill="#f47c55"/>
<rect x="907.24" y="146.44" width="12.12" height="5.91" fill="#f59269"/>
<rect x="918.61" y="146.44" width="12.12" height="5.91" fill="#f6ad85"/>
<rect x="929.98" y="146.44" width="12.12" height="5.91" fill="#f7c4a4"/>
<rect x="941.36" y="146.44" width="12.12" height="5.91" fill="#faebdd"/>
<rect x="952.73" y="146.44" width="12.12" height="5.91" fill="#faebdd"/>
<rect x="964.11" y="146.44" width="12.12" height="5.91" fill="#fae9da"/>
<rect x="975.48" y="146.44" width="12.12" height="5.91" fill="#faebdd"/>
<rect x="986.85" y="146.44" width="12.12" height="5.91" fill="#fae9da"/>
<rect x="998.23" y="146.44" width="12.12" height="5.91" fill="#faebdd"/>
<rect x="793.50" y="151.60" width="12.12" height="5.91" fill="#06071c"/>
<rect x="804.87" y="151.60" width="12.12" height="5.91" fill="#110c24"/>
<rect x="816.25" y="151.60" width="12.12" height="5.91" fill="#08081e"/>
<rect x="827.62" y="151.60" width="12.12" height="5.91" fill="#180f29"/>
<rect x="838.99" y="151.60" width="12.12" height="5.91" fill="#241432"/>
<rect x="850.37" y="151.60" width="12.12" height="5.91" fill="#4c1d4b"/>
<rect x="861.74" y="151.60" width="12.12" height="5.91" fill="#871e5b"/>
<rect x="873.12" y="151.60" width="12.12" height="5.91" fill="#e33641"/>
<rect x="884.49" y="151.60" width="12.12" height="5.91" fill="#ef5840"/>
<rect x="895.86" y="151.60" width="12.12" height="5.91" fill="#f4835b"/>
<rect x="907.24" y="151.60" width="12.12" height="5.91" fill="#f5946b"/>
<rect x="918.61" y="151.60" width="12.12" height="5.91" fill="#f7ccaf"/>
<rect x="929.98" y="151.60" width="12.12" height="5.91" fill="#f7c2a2"/>
<rect x="941.36" y="151.60" width="12.12" height="5.91" fill="#fae9da"/>
<rect x="952.73" y="151.60" width="12.12" height="5.91" fill="#faebdd"/>
<rect x="964.11" y="151.60" width="12.12" height="5.91" fill="#faebdd"/>
<rect x="975.48" y="151.60" width="12.12" height="5.91" fill="#fae9da"/>
<rect x="986.85" y="151.60" width="12.12" height="5.91" fill="#faebdd"/>
<rect x="998.23" y="151.60" width="12.12" height="5.91" fill="#fae8d8"/>
<rect x="793.50" y="156.76" width="12.12" height="5.91" fill="#0e0b22"/>
<rect x="804.87" y="156.76" width="12.12" height="5.91" fill="#0b0920"/>
<rect x="816.25" y="156.76" width="12.12" height="5.91" fill="#100b23"/>
<rect x="827.62" y="156.76" width="12.12" height="5.91" fill="#130d25"/>
<rect x="838.99" y="156.76" width="12.12" height="5.91" fill="#271534"/>
<rect x="850.37" y="156.76" width="12.12" height="5.91" fill="#461c48"/>
<rect x="861.74" y="156.76" width="12.12" height="5.91" fill="#891e5b"/>
<rect x="873.12" y="156.76" width="12.12" height="5.91" fill="#e33641"/>
<rect x="884.49" y="156.76" width="12.12" height="5.91" fill="#f06043"/>
<rect x="895.86" y="156.76" width="12.12" height="5.91" fill="#f47c55"/>
<rect x="907.24" y="156.76" width="12.12" height="5.91" fill="#f59269"/>
<rect x="918.61" y="156.76" width="12.12" height="5.91" fill="#f6a880"/>
<rect x="929.98" y="156.76" width="12.12" height="5.91" fill="#f6bf9d"/>
<rect x="941.36" y="156.76" width="12.12" height="5.91" fill="#f9ddc9"/>
<rect x="952.73" y="156.76" width="12.12" height="5.91" fill="#faebdd"/>
<rect x="964.11" y="156.76" width="12.12" height="5.91" fill="#fae6d6"/>
<rect x="975.48" y="156.76" width="12.12" height="5.91" fill="#fae9da"/>
<rect x="986.85" y="156.76" width="12.12" height="5.91" fill="#faebdd"/>
<rect x="998.23" y="156.76" width="12.12" height="5.91" fill="#f9e3d2"/>
<rect x="793.50" y="161.92" width="12.12" height="5.91" fill="#0a091f"/>
<rect x="804.87" y="161.92" width="12.12" height="5.91" fill="#0a091f"/>
<rect x="816.25" y="161.92" width="12.12" height="5.91" fill="#110c24"/>
<rect x="827.62" y="161.92" width="12.12" height="5.91" fill="#1b112b"/>
<rect x="838.99" y="161.92" width="12.12" height="5.91" fill="#251433"/>
<rect x="850.37" y="161.92" width="12.12" height="5.91" fill="#421b45"/>
<rect x="861.74" y="161.92" width="12.12" height="5.91" fill="#821e5a"/>
<rect x="873.12" y="161.92" width="12.12" height="5.91" fill="#e73d3f"/>
<rect x="884.49" y="161.92" width="12.12" height="5.91" fill="#ef5640"/>
<rect x="895.86" y="161.92" width="12.12" height="5.91" fill="#f47c55"/>
<rect x="907.24" y="161.92" width="12.12" height="5.91" fill="#f58d64"/>
<rect x="918.61" y="161.92" width="12.12" height="5.91" fill="#f6b18b"/>
<rect x="929.98" y="161.92" width="12.12" height="5.91" fill="#f9dfcb"/>
<rect x="941.36" y="161.92" width="12.12" height="5.91" fill="#f9e3d2"/>
<rect x="952.73" y="161.92" width="12.12" height="5.91" fill="#faebdd"/>
<rect x="964.11" y="161.92" width="12.12" height="5.91" fill="#faebdd"/>
<rect x="975.48" y="161.92" width="12.12" height="5.91" fill="#faebdd"/>
<rect x="986.85" y="161.92" width="12.12" height="5.91" fill="#fae9da"/>
<rect x="998.23" y="161.92" width="12.12" height="5.91" fill="#fae9da"/>
<rect x="793.50" y="167.08" width="12.12" height="5.91" fill="#0b0920"/>
<rect x="804.87" y="167.08" width="12.12" height="5.91" fill="#0b0920"/>
<rect x="816.25" y="167.08" width="12.12" height="5.91" fill="#0e0b22"/>
<rect x="827.62" y="167.08" width="12.12" height="5.91" fill="#211330"/>
<rect x="838.99" y="167.08" width="12.12" height="5.91" fill="#211330"/>
<rect x="850.37" y="167.08" width="12.12" height="5.91" fill="#3f1b43"/>
<rect x="861.74" y="167.08" width="12.12" height="5.91" fill="#7b1f59"/>
<rect x="873.12" y="167.08" width="12.12" height="5.91" fill="#e63b40"/>
<rect x="884.49" y="167.08" width="12.12" height="5.91" fill="#f05c42"/>
<rect x="895.86" y="167.08" width="12.12" height="5.91" fill="#f47a54"/>
<rect x="907.24" y="167.08" width="12.12" height="5.91" fill="#f5966c"/>
<rect x="918.61" y="167.08" width="12.12" height="5.91" fill="#f6ae87"/>
<rect x="929.98" y="167.08" width="12.12" height="5.91" fill="#f7c6a6"/>
<rect x="941.36" y="167.08" width="12.12" height="5.91" fill="#faebdd"/>
<rect x="952.73" y="167.08" width="12.12" height="5.91" fill="#faebdd"/>
<rect x="964.11" y="167.08" width="12.12" height="5.91" fill="#fae8d8"/>
<rect x="975.48" y="167.08" width="12.12" height="5.91" fill="#fae9da"/>
<rect x="986.85" y="167.08" width="12.12" height="5.91" fill="#faebdd"/>
<rect x="998.23" y="167.08" width="12.12" height="5.91" fill="#fae6d6"/>
<rect x="793.50" y="172.24" width="12.12" height="5.91" fill="#05061b"/>
<rect x="804.87" y="172.24" width="12.12" height="5.91" fill="#0a091f"/>
<rect x="816.25" y="172.24" width="12.12" height="5.91" fill="#0d0a21"/>
<rect x="827.62" y="172.24" width="12.12" height="5.91" fill="#170f28"/>
<rect x="838.99" y="172.24" width="12.12" height="5.91" fill="#20122e"/>
<rect x="850.37" y="172.24" width="12.12" height="5.91" fill="#3d1a42"/>
<rect x="861.74" y="172.24" width="12.12" height="5.91" fill="#751f58"/>
<rect x="873.12" y="172.24" width="12.12" height="5.91" fill="#e43841"/>
<rect x="884.49" y="172.24" width="12.12" height="5.91" fill="#ef5a41"/>
<rect x="895.86" y="172.24" width="12.12" height="5.91" fill="#f47a54"/>
<rect x="907.24" y="172.24" width="12.12" height="5.91" fill="#f58b63"/>
<rect x="918.61" y="172.24" width="12.12" height="5.91" fill="#f6ab83"/>
<rect x="929.98" y="172.24" width="12.12" height="5.91" fill="#f8d6be"/>
<rect x="941.36" y="172.24" width="12.12" height="5.91" fill="#fae6d6"/>
<rect x="952.73" y="172.24" width="12.12" height="5.91" fill="#faebdd"/>
<rect x="964.11" y="172.24" width="12.12" height="5.91" fill="#fae9da"/>
<rect x="975.48" y="172.24" width="12.12" height="5.91" fill="#fae6d6"/>
<rect x="986.85" y="172.24" width="12.12" height="5.91" fill="#faebdd"/>
<rect x="998.23" y="172.24" width="12.12" height="5.91" fill="#fae8d8"/>
<rect x="793.50" y="177.40" width="12.12" height="5.91" fill="#03051a"/>
<rect x="804.87" y="177.40" width="12.12" height="5.91" fill="#08081e"/>
<rect x="816.25" y="177.40" width="12.12" height="5.91" fill="#06071c"/>
<rect x="827.62" y="177.40" width="12.12" height="5.91" fill="#180f29"/>
<rect x="838.99" y="177.40" width="12.12" height="5.91" fill="#221331"/>
<rect x="850.37" y="177.40" width="12.12" height="5.91" fill="#3d1a42"/>
<rect x="861.74" y="177.40" width="12.12" height="5.91" fill="#731f58"/>
<rect x="873.12" y="177.40" width="12.12" height="5.91" fill="#e33641"/>
<rect x="884.49" y="177.40" width="12.12" height="5.91" fill="#f05e42"/>
<rect x="895.86" y="177.40" width="12.12" height="5.91" fill="#f47d57"/>
<rect x="907.24" y="177.40" width="12.12" height="5.91" fill="#f69e75"/>
<rect x="918.61" y="177.40" width="12.12" height="5.91" fill="#f6b089"/>
<rect x="929.98" y="177.40" width="12.12" height="5.91" fill="#f6be9b"/>
<rect x="941.36" y="177.40" width="12.12" height="5.91" fill="#faebdd"/>
<rect x="952.73" y="177.40" width="12.12" height="5.91" fill="#fae9da"/>
<rect x="964.11" y="177.40" width="12.12" height="5.91" fill="#faebdd"/>
<rect x="975.48" y="177.40" width="12.12" height="5.91" fill="#faebdd"/>
<rect x="986.85" y="177.40" width="12.12" height="5.91" fill="#faebdd"/>
<rect x="998.23" y="177.40" width="12.12" height="5.91" fill="#faebdd"/>
<rect x="793.50" y="182.56" width="12.12" height="5.91" fill="#07071d"/>
<rect x="804.87" y="182.56" width="12.12" height="5.91" fill="#0d0a21"/>
<rect x="816.25" y="182.56" width="12.12" height="5.91" fill="#0a091f"/>
<rect x="827.62" y="182.56" width="12.12" height="5.91" fill="#0b0920"/>
<rect x="838.99" y="182.56" width="12.12" height="5.91" fill="#1d112c"/>
<rect x="850.37" y="182.56" width="12.12" height="5.91" fill="#401b44"/>
<rect x="861.74" y="182.56" width="12.12" height="5.91" fill="#761f58"/>
<rect x="873.12" y="182.56" width="12.12" height="5.91" fill="#e33641"/>
<rect x="884.49" y="182.56" width="12.12" height="5.91" fill="#ee543f"/>
<rect x="895.86" y="182.56" width="12.12" height="5.91" fill="#f47d57"/>
<rect x="907.24" y="182.56" width="12.12" height="5.91" fill="#f59269"/>
<rect x="918.61" y="182.56" width="12.12" height="5.91" fill="#f6a981"/>
<rect x="929.98" y="182.56" width="12.12" height="5.91" fill="#f7c4a4"/>
<rect x="941.36" y="182.56" width="12.12" height="5.91" fill="#f9e3d2"/>
<rect x="952.73" y="182.56" width="12.12" height="5.91" fill="#fae9da"/>
<rect x="964.11" y="182.56" width="12.12" height="5.91" fill="#faebdd"/>
<rect x="975.48" y="182.56" width="12.12" height="5.91" fill="#faebdd"/>
<rect x="986.85" y="182.56" width="12.12" height="5.91" fill="#f9e3d2"/>
<rect x="998.23" y="182.56" width="12.12" height="5.91" fill="#fae6d6"/>
<rect x="793.50" y="187.72" width="12.12" height="5.91" fill="#05061b"/>
<rect x="804.87" y="187.72" width="12.12" height="5.91" fill="#07071d"/>
<rect x="816.25" y="187.72" width="12.12" height="5.91" fill="#06071c"/>
<rect x="827.62" y="187.72" width="12.12" height="5.91" fill="#110c24"/>
<rect x="838.99" y="187.72" width="12.12" height="5.91" fill="#1e122d"/>
<rect x="850.37" y="187.72" width="12.12" height="5.91" fill="#37193f"/>
<rect x="861.74" y="187.72" width="12.12" height="5.91" fill="#711f57"/>
<rect x="873.12" y="187.72" width="12.12" height="5.91" fill="#e43841"/>
<rect x="884.49" y="187.72" width="12.12" height="5.91" fill="#f05c42"/>
<rect x="895.86" y="187.72" width="12.12" height="5.91" fill="#f47a54"/>
<rect x="907.24" y="187.72" width="12.12" height="5.91" fill="#f5946b"/>
<rect x="918.61" y="187.72" width="12.12" height="5.91" fill="#f6ab83"/>
<rect x="929.98" y="187.72" width="12.12" height="5.91" fill="#faebdd"/>
<rect x="941.36" y="187.72" width="12.12" height="5.91" fill="#f9e2d0"/>
<rect x="952.73" y="187.72" width="12.12" height="5.91" fill="#faebdd"/>
<rect x="964.11" y="187.72" width="12.12" height="5.91" fill="#faebdd"/>
<rect x="975.48" y="187.72" width="12.12" height="5.91" fill="#faebdd"/>
<rect x="986.85" y="187.72" width="12.12" height="5.91" fill="#faebdd"/>
<rect x="998.23" y="187.72" width="12.12" height="5.91" fill="#faebdd"/>
<rect x="793.50" y="192.88" width="12.12" height="5.91" fill="#06071c"/>
<rect x="804.87" y="192.88" width="12.12" height="5.91" fill="#03051a"/>
<rect x="816.25" y="192.88" width="12.12" height="5.91" fill="#0b0920"/>
<rect x="827.62" y="192.88" width="12.12" height="5.91" fill="#110c24"/>
<rect x="838.99" y="192.88" width="12.12" height="5.91" fill="#221331"/>
<rect x="850.37" y="192.88" width="12.12" height="5.91" fill="#35193e"/>
<rect x="861.74" y="192.88" width="12.12" height="5.91" fill="#751f58"/>
<rect x="873.12" y="192.88" width="12.12" height="5.91" fill="#e33641"/>
<rect x="884.49" y="192.88" width="12.12" height="5.91" fill="#ef5a41"/>
<rect x="895.86" y="192.88" width="12.12" height="5.91" fill="#f47a54"/>
<rect x="907.24" y="192.88" width="12.12" height="5.91" fill="#f58f66"/>
<rect x="918.61" y="192.88" width="12.12" height="5.91" fill="#f6a981"/>
<rect x="929.98" y="192.88" width="12.12" height="5.91" fill="#f9e5d4"/>
<rect x="941.36" y="192.88" width="12.12" height="5.91" fill="#fae6d6"/>
<rect x="952.73" y="192.88" width="12.12" height="5.91" fill="#fae9da"/>
<rect x="964.11" y="192.88" width="12.12" height="5.91" fill="#faebdd"/>
<rect x="975.48" y="192.88" width="12.12" height="5.91" fill="#fae9da"/>
<rect x="986.85" y="192.88" width="12.12" height="5.91" fill="#fae8d8"/>
<rect x="998.23" y="192.88" width="12.12" height="5.91" fill="#faebdd"/>
<rect x="793.50" y="198.04" width="12.12" height="5.91" fill="#06071c"/>
<rect x="804.87" y="198.04" width="12.12" height="5.91" fill="#05061b"/>
<rect x="816.25" y="198.04" width="12.12" height="5.91" fill="#110c24"/>
<rect x="827.62" y="198.04" width="12.12" height="5.91" fill="#100b23"/>
<rect x="838.99" y="198.04" width="12.12" height="5.91" fill="#211330"/>
<rect x="850.37" y="198.04" width="12.12" height="5.91" fill="#381a40"/>
<rect x="861.74" y="198.04" width="12.12" height="5.91" fill="#6d1f56"/>
<rect x="873.12" y="198.04" width="12.12" height="5.91" fill="#e33641"/>
<rect x="884.49" y="198.04" width="12.12" height="5.91" fill="#ed503e"/>
<rect x="895.86" y="198.04" width="12.12" height="5.91" fill="#f37450"/>
<rect x="907.24" y="198.04" width="12.12" height="5.91" fill="#f59269"/>
<rect x="918.61" y="198.04" width="12.12" height="5.91" fill="#f8d9c3"/>
<rect x="929.98" y="198.04" width="12.12" height="5.91" fill="#faebdd"/>
<rect x="941.36" y="198.04" width="12.12" height="5.91" fill="#faebdd"/>
<rect x="952.73" y="198.04" width="12.12" height="5.91" fill="#fae9da"/>
<rect x="964.11" y="198.04" width="12.12" height="5.91" fill="#faebdd"/>
<rect x="975.48" y="198.04" width="12.12" height="5.91" fill="#faebdd"/>
<rect x="986.85" y="198.04" width="12.12" height="5.91" fill="#faebdd"/>
<rect x="998.23" y="198.04" width="12.12" height="5.91" fill="#fae8d8"/>
<rect x="793.5" y="48.4" width="216.1" height="154.8" fill="none" stroke="#555" stroke-width="0.9"/>
<path d="M800.0,48.8 L803.7,49.0 L807.2,49.2 L810.7,49.5 L814.2,49.9 L817.5,50.3 L820.8,50.8 L823.9,51.3 L827.0,51.9 L829.9,52.5 L832.8,53.3 L835.6,54.2 L838.4,55.1 L841.2,56.1 L844.0,57.1 L846.8,58.2 L849.7,59.3 L852.5,60.5 L855.4,61.8 L858.2,63.2 L861.1,64.6 L863.9,66.1 L866.7,67.7 L869.5,69.4 L872.3,71.3 L875.0,73.2 L877.8,75.2 L880.5,77.3 L883.1,79.4 L885.7,81.6 L888.3,83.9 L890.9,86.2 L893.4,88.7 L895.9,91.2 L898.2,93.6 L900.4,96.0 L902.5,98.2 L904.3,100.3 L906.0,102.2 L907.7,104.1 L909.2,106.0 L910.7,107.9 L912.3,109.8 L913.9,111.8 L915.5,113.9 L917.1,115.9 L918.8,118.0 L920.5,120.2 L922.1,122.3 L923.7,124.5 L925.3,126.7 L926.8,128.9 L928.3,131.2 L929.8,133.5 L931.2,135.8 L932.6,138.1 L934.0,140.5 L935.4,142.9 L936.7,145.3 L938.0,147.8 L939.3,150.2 L940.5,152.7 L941.7,155.3 L943.0,157.8 L944.2,160.4 L945.5,162.9 L946.7,165.6 L948.0,168.3 L949.3,171.0 L950.6,173.7 L951.9,176.4 L953.1,179.0 L954.2,181.4 L955.3,183.8 L956.3,186.2 L957.3,188.4 L958.3,190.7 L959.2,192.8 L960.1,194.9 L961.0,197.0" stroke="#93195f" stroke-width="3.0" fill="none" stroke-linecap="round" stroke-linejoin="round"/>
<path d="M954.8,196.3 L962.7,201.6 L964.0,192.2" stroke="#93195f" stroke-width="2.8" fill="none" stroke-linecap="butt" stroke-linejoin="miter" stroke-miterlimit="10"/>
<text x="935.2" y="123.5" font-size="23" fill="#93195f" text-anchor="start" font-family='"Liberation Serif", "DejaVu Serif", serif' font-style="italic" >f</text>
<text x="944.3" y="126.2" font-size="14.5" fill="#93195f" text-anchor="start" font-family='"Liberation Serif", "DejaVu Serif", serif' textLength="22.5" lengthAdjust="spacingAndGlyphs" >opt</text>
<line x1="790.00" y1="48.40" x2="793.50" y2="48.40" stroke="#555" stroke-width="0.9" />
<text x="787.0" y="52.7" font-size="9.6" fill="#555" text-anchor="end" font-family='"DejaVu Sans", "Liberation Sans", sans-serif'>10<tspan dy="-4" font-size="6.8">0</tspan></text>
<line x1="791.50" y1="84.47" x2="793.50" y2="84.47" stroke="#555" stroke-width="0.6" />
<line x1="791.50" y1="75.38" x2="793.50" y2="75.38" stroke="#555" stroke-width="0.6" />
<line x1="791.50" y1="68.93" x2="793.50" y2="68.93" stroke="#555" stroke-width="0.6" />
<line x1="791.50" y1="63.93" x2="793.50" y2="63.93" stroke="#555" stroke-width="0.6" />
<line x1="791.50" y1="59.85" x2="793.50" y2="59.85" stroke="#555" stroke-width="0.6" />
<line x1="791.50" y1="56.39" x2="793.50" y2="56.39" stroke="#555" stroke-width="0.6" />
<line x1="791.50" y1="53.40" x2="793.50" y2="53.40" stroke="#555" stroke-width="0.6" />
<line x1="791.50" y1="50.76" x2="793.50" y2="50.76" stroke="#555" stroke-width="0.6" />
<line x1="790.00" y1="100.00" x2="793.50" y2="100.00" stroke="#555" stroke-width="0.9" />
<text x="787.0" y="104.3" font-size="9.6" fill="#555" text-anchor="end" font-family='"DejaVu Sans", "Liberation Sans", sans-serif'>10<tspan dy="-4" font-size="6.8">−1</tspan></text>
<line x1="791.50" y1="136.07" x2="793.50" y2="136.07" stroke="#555" stroke-width="0.6" />
<line x1="791.50" y1="126.98" x2="793.50" y2="126.98" stroke="#555" stroke-width="0.6" />
<line x1="791.50" y1="120.53" x2="793.50" y2="120.53" stroke="#555" stroke-width="0.6" />
<line x1="791.50" y1="115.53" x2="793.50" y2="115.53" stroke="#555" stroke-width="0.6" />
<line x1="791.50" y1="111.45" x2="793.50" y2="111.45" stroke="#555" stroke-width="0.6" />
<line x1="791.50" y1="107.99" x2="793.50" y2="107.99" stroke="#555" stroke-width="0.6" />
<line x1="791.50" y1="105.00" x2="793.50" y2="105.00" stroke="#555" stroke-width="0.6" />
<line x1="791.50" y1="102.36" x2="793.50" y2="102.36" stroke="#555" stroke-width="0.6" />
<line x1="790.00" y1="151.60" x2="793.50" y2="151.60" stroke="#555" stroke-width="0.9" />
<text x="787.0" y="155.9" font-size="9.6" fill="#555" text-anchor="end" font-family='"DejaVu Sans", "Liberation Sans", sans-serif'>10<tspan dy="-4" font-size="6.8">−2</tspan></text>
<line x1="791.50" y1="187.67" x2="793.50" y2="187.67" stroke="#555" stroke-width="0.6" />
<line x1="791.50" y1="178.58" x2="793.50" y2="178.58" stroke="#555" stroke-width="0.6" />
<line x1="791.50" y1="172.13" x2="793.50" y2="172.13" stroke="#555" stroke-width="0.6" />
<line x1="791.50" y1="167.13" x2="793.50" y2="167.13" stroke="#555" stroke-width="0.6" />
<line x1="791.50" y1="163.05" x2="793.50" y2="163.05" stroke="#555" stroke-width="0.6" />
<line x1="791.50" y1="159.59" x2="793.50" y2="159.59" stroke="#555" stroke-width="0.6" />
<line x1="791.50" y1="156.60" x2="793.50" y2="156.60" stroke="#555" stroke-width="0.6" />
<line x1="791.50" y1="153.96" x2="793.50" y2="153.96" stroke="#555" stroke-width="0.6" />
<line x1="790.00" y1="203.20" x2="793.50" y2="203.20" stroke="#555" stroke-width="0.9" />
<text x="787.0" y="207.5" font-size="9.6" fill="#555" text-anchor="end" font-family='"DejaVu Sans", "Liberation Sans", sans-serif'>10<tspan dy="-4" font-size="6.8">−3</tspan></text>
<line x1="793.50" y1="203.20" x2="793.50" y2="206.70" stroke="#555" stroke-width="0.9" />
<text x="793.5" y="217.5" font-size="9.6" fill="#555" text-anchor="middle" font-family='"DejaVu Sans", "Liberation Sans", sans-serif' >1.0</text>
<line x1="829.52" y1="203.20" x2="829.52" y2="206.70" stroke="#555" stroke-width="0.9" />
<text x="829.5" y="217.5" font-size="9.6" fill="#555" text-anchor="middle" font-family='"DejaVu Sans", "Liberation Sans", sans-serif' >1.5</text>
<line x1="865.53" y1="203.20" x2="865.53" y2="206.70" stroke="#555" stroke-width="0.9" />
<text x="865.5" y="217.5" font-size="9.6" fill="#555" text-anchor="middle" font-family='"DejaVu Sans", "Liberation Sans", sans-serif' >2.0</text>
<line x1="901.55" y1="203.20" x2="901.55" y2="206.70" stroke="#555" stroke-width="0.9" />
<text x="901.5" y="217.5" font-size="9.6" fill="#555" text-anchor="middle" font-family='"DejaVu Sans", "Liberation Sans", sans-serif' >2.5</text>
<line x1="937.57" y1="203.20" x2="937.57" y2="206.70" stroke="#555" stroke-width="0.9" />
<text x="937.6" y="217.5" font-size="9.6" fill="#555" text-anchor="middle" font-family='"DejaVu Sans", "Liberation Sans", sans-serif' >3.0</text>
<line x1="973.58" y1="203.20" x2="973.58" y2="206.70" stroke="#555" stroke-width="0.9" />
<text x="973.6" y="217.5" font-size="9.6" fill="#555" text-anchor="middle" font-family='"DejaVu Sans", "Liberation Sans", sans-serif' >3.5</text>
<line x1="1009.60" y1="203.20" x2="1009.60" y2="206.70" stroke="#555" stroke-width="0.9" />
<text x="1009.6" y="217.5" font-size="9.6" fill="#555" text-anchor="middle" font-family='"DejaVu Sans", "Liberation Sans", sans-serif' >4.0</text>
<text x="742.2" y="38.1" font-size="20.2" fill="#111" text-anchor="start" font-family='"Liberation Sans", "DejaVu Sans", sans-serif' font-weight="bold" textLength="11.2" lengthAdjust="spacingAndGlyphs" stroke="#111" stroke-width="0.7" stroke-linejoin="round" >E</text>
<text x="862.4" y="39.6" font-size="14" fill="#222" text-anchor="start" font-family='"Liberation Sans", "DejaVu Sans", sans-serif' textLength="107.0" lengthAdjust="spacingAndGlyphs" stroke="#222" stroke-width="0.22" >Test accuracy (%)</text>
<text transform="translate(757.3,127.6) rotate(-90)" font-size="14" fill="#222" stroke="#222" stroke-width="0.22" text-anchor="middle" font-family='"Liberation Sans", "DejaVu Sans", sans-serif' textLength="92" lengthAdjust="spacingAndGlyphs">Frac. data kept</text>
<text x="780.1" y="238.5" font-size="14" fill="#222" text-anchor="start" font-family='"Liberation Sans", "DejaVu Sans", sans-serif' textLength="215.5" lengthAdjust="spacingAndGlyphs" stroke="#222" stroke-width="0.22" >Training examples per parameter (</text>
<text x="996.6" y="238.5" font-size="19.5" fill="#222" text-anchor="start" font-family='"Liberation Serif", "DejaVu Serif", serif' font-style="italic" textLength="9.8" lengthAdjust="spacingAndGlyphs" >α</text>
<text x="1006.9" y="239.8" font-size="11.5" fill="#222" text-anchor="start" font-family='"Liberation Serif", "DejaVu Serif", serif' textLength="36.0" lengthAdjust="spacingAndGlyphs" >prune</text>
<text x="1043.3" y="238.5" font-size="14" fill="#222" text-anchor="start" font-family='"Liberation Sans", "DejaVu Sans", sans-serif' stroke="#222" stroke-width="0.22" >)</text>
<defs><linearGradient id="cbE" x1="0" y1="0" x2="0" y2="1"><stop offset="0.000" stop-color="#faebdd"/><stop offset="0.042" stop-color="#f8dcc7"/><stop offset="0.083" stop-color="#f7ccaf"/><stop offset="0.125" stop-color="#f6bc99"/><stop offset="0.167" stop-color="#f6ab83"/><stop offset="0.208" stop-color="#f59970"/><stop offset="0.250" stop-color="#f58860"/><stop offset="0.292" stop-color="#f37450"/><stop offset="0.333" stop-color="#f06043"/><stop offset="0.375" stop-color="#ec4c3e"/><stop offset="0.417" stop-color="#e43841"/><stop offset="0.458" stop-color="#d82748"/><stop offset="0.500" stop-color="#cb1b4f"/><stop offset="0.542" stop-color="#ba1656"/><stop offset="0.583" stop-color="#a8185a"/><stop offset="0.625" stop-color="#971c5b"/><stop offset="0.667" stop-color="#841e5a"/><stop offset="0.708" stop-color="#711f57"/><stop offset="0.750" stop-color="#611f53"/><stop offset="0.792" stop-color="#501d4c"/><stop offset="0.833" stop-color="#3f1b43"/><stop offset="0.875" stop-color="#30173a"/><stop offset="0.917" stop-color="#20122e"/><stop offset="0.958" stop-color="#100b23"/><stop offset="1.000" stop-color="#03051a"/></linearGradient></defs>
<rect x="1023.8" y="48.4" width="9.2" height="154.4" fill="url(#cbE)" stroke="#555" stroke-width="0.7"/>
<line x1="1033.00" y1="48.40" x2="1036.00" y2="48.40" stroke="#555" stroke-width="0.8" />
<text x="1038.5" y="52.0" font-size="9.6" fill="#555" text-anchor="start" font-family='"DejaVu Sans", "Liberation Sans", sans-serif' >100</text>
<line x1="1033.00" y1="79.28" x2="1036.00" y2="79.28" stroke="#555" stroke-width="0.8" />
<text x="1038.5" y="82.9" font-size="9.6" fill="#555" text-anchor="start" font-family='"DejaVu Sans", "Liberation Sans", sans-serif' >90</text>
<line x1="1033.00" y1="110.16" x2="1036.00" y2="110.16" stroke="#555" stroke-width="0.8" />
<text x="1038.5" y="113.8" font-size="9.6" fill="#555" text-anchor="start" font-family='"DejaVu Sans", "Liberation Sans", sans-serif' >80</text>
<line x1="1033.00" y1="141.04" x2="1036.00" y2="141.04" stroke="#555" stroke-width="0.8" />
<text x="1038.5" y="144.6" font-size="9.6" fill="#555" text-anchor="start" font-family='"DejaVu Sans", "Liberation Sans", sans-serif' >70</text>
<line x1="1033.00" y1="171.92" x2="1036.00" y2="171.92" stroke="#555" stroke-width="0.8" />
<text x="1038.5" y="175.5" font-size="9.6" fill="#555" text-anchor="start" font-family='"DejaVu Sans", "Liberation Sans", sans-serif' >60</text>
<line x1="1033.00" y1="202.80" x2="1036.00" y2="202.80" stroke="#555" stroke-width="0.8" />
<text x="1038.5" y="206.4" font-size="9.6" fill="#555" text-anchor="start" font-family='"DejaVu Sans", "Liberation Sans", sans-serif' >50</text>
<line x1="783.90" y1="406.44" x2="1012.00" y2="406.44" stroke="#f0f0f0" stroke-width="0.8" />
<line x1="783.90" y1="373.68" x2="1012.00" y2="373.68" stroke="#f0f0f0" stroke-width="0.8" />
<line x1="783.90" y1="340.92" x2="1012.00" y2="340.92" stroke="#f0f0f0" stroke-width="0.8" />
<line x1="783.90" y1="308.16" x2="1012.00" y2="308.16" stroke="#f0f0f0" stroke-width="0.8" />
<line x1="793.70" y1="301.00" x2="793.70" y2="440.30" stroke="#f0f0f0" stroke-width="0.8" />
<line x1="897.10" y1="301.00" x2="897.10" y2="440.30" stroke="#f0f0f0" stroke-width="0.8" />
<line x1="957.59" y1="301.00" x2="957.59" y2="440.30" stroke="#f0f0f0" stroke-width="0.8" />
<line x1="1000.51" y1="301.00" x2="1000.51" y2="440.30" stroke="#f0f0f0" stroke-width="0.8" />
<line x1="783.90" y1="303.90" x2="1017.00" y2="303.90" stroke="#d58bb0" stroke-width="1.3" stroke-dasharray="6 4"/>
<path d="M793.7,357.6 L816.7,360.4 L836.6,358.8 L854.2,355.4 L869.9,349.9 L884.1,340.4 L897.1,331.7 L909.0,323.4 L920.1,317.5 L930.4,314.1 L940.0,312.6 L949.1,311.3 L957.6,311.2 L965.7,311.3" stroke="#d8e219" stroke-width="1.25" fill="none" stroke-linejoin="round"/>
<circle cx="793.7" cy="357.6" r="2.35" fill="#d8e219"/>
<circle cx="816.7" cy="360.4" r="2.35" fill="#d8e219"/>
<circle cx="836.6" cy="358.8" r="2.35" fill="#d8e219"/>
<circle cx="854.2" cy="355.4" r="2.35" fill="#d8e219"/>
<circle cx="869.9" cy="349.9" r="2.35" fill="#d8e219"/>
<circle cx="884.1" cy="340.4" r="2.35" fill="#d8e219"/>
<circle cx="897.1" cy="331.7" r="2.35" fill="#d8e219"/>
<circle cx="909.0" cy="323.4" r="2.35" fill="#d8e219"/>
<circle cx="920.1" cy="317.5" r="2.35" fill="#d8e219"/>
<circle cx="930.4" cy="314.1" r="2.35" fill="#d8e219"/>
<circle cx="940.0" cy="312.6" r="2.35" fill="#d8e219"/>
<circle cx="949.1" cy="311.3" r="2.35" fill="#d8e219"/>
<circle cx="957.6" cy="311.2" r="2.35" fill="#d8e219"/>
<circle cx="965.7" cy="311.3" r="2.35" fill="#d8e219"/>
<path d="M793.7,358.1 L816.7,359.5 L836.6,357.9 L854.2,355.5 L869.9,349.6 L884.1,340.4 L897.1,330.9 L909.0,322.8 L920.1,316.9 L930.4,314.0 L940.0,311.7 L949.1,311.9 L957.6,311.2 L965.7,311.7" stroke="#c0df25" stroke-width="1.25" fill="none" stroke-linejoin="round"/>
<circle cx="793.7" cy="358.1" r="2.35" fill="#c0df25"/>
<circle cx="816.7" cy="359.5" r="2.35" fill="#c0df25"/>
<circle cx="836.6" cy="357.9" r="2.35" fill="#c0df25"/>
<circle cx="854.2" cy="355.5" r="2.35" fill="#c0df25"/>
<circle cx="869.9" cy="349.6" r="2.35" fill="#c0df25"/>
<circle cx="884.1" cy="340.4" r="2.35" fill="#c0df25"/>
<circle cx="897.1" cy="330.9" r="2.35" fill="#c0df25"/>
<circle cx="909.0" cy="322.8" r="2.35" fill="#c0df25"/>
<circle cx="920.1" cy="316.9" r="2.35" fill="#c0df25"/>
<circle cx="930.4" cy="314.0" r="2.35" fill="#c0df25"/>
<circle cx="940.0" cy="311.7" r="2.35" fill="#c0df25"/>
<circle cx="949.1" cy="311.9" r="2.35" fill="#c0df25"/>
<circle cx="957.6" cy="311.2" r="2.35" fill="#c0df25"/>
<circle cx="965.7" cy="311.7" r="2.35" fill="#c0df25"/>
<path d="M793.7,357.7 L816.7,358.8 L836.6,357.6 L854.2,353.6 L869.9,349.1 L884.1,339.1 L897.1,331.7 L909.0,323.0 L920.1,316.8 L930.4,313.5 L940.0,311.6 L949.1,312.5 L957.6,311.3 L965.7,310.7" stroke="#a8db34" stroke-width="1.25" fill="none" stroke-linejoin="round"/>
<circle cx="793.7" cy="357.7" r="2.35" fill="#a8db34"/>
<circle cx="816.7" cy="358.8" r="2.35" fill="#a8db34"/>
<circle cx="836.6" cy="357.6" r="2.35" fill="#a8db34"/>
<circle cx="854.2" cy="353.6" r="2.35" fill="#a8db34"/>
<circle cx="869.9" cy="349.1" r="2.35" fill="#a8db34"/>
<circle cx="884.1" cy="339.1" r="2.35" fill="#a8db34"/>
<circle cx="897.1" cy="331.7" r="2.35" fill="#a8db34"/>
<circle cx="909.0" cy="323.0" r="2.35" fill="#a8db34"/>
<circle cx="920.1" cy="316.8" r="2.35" fill="#a8db34"/>
<circle cx="930.4" cy="313.5" r="2.35" fill="#a8db34"/>
<circle cx="940.0" cy="311.6" r="2.35" fill="#a8db34"/>
<circle cx="949.1" cy="312.5" r="2.35" fill="#a8db34"/>
<circle cx="957.6" cy="311.3" r="2.35" fill="#a8db34"/>
<circle cx="965.7" cy="310.7" r="2.35" fill="#a8db34"/>
<path d="M793.7,356.7 L816.7,357.9 L836.6,356.7 L854.2,353.6 L869.9,348.3 L884.1,339.3 L897.1,331.1 L909.0,324.3 L920.1,317.8 L930.4,313.5 L940.0,311.7 L949.1,311.2 L957.6,311.3 L965.7,311.0" stroke="#8ed645" stroke-width="1.25" fill="none" stroke-linejoin="round"/>
<circle cx="793.7" cy="356.7" r="2.35" fill="#8ed645"/>
<circle cx="816.7" cy="357.9" r="2.35" fill="#8ed645"/>
<circle cx="836.6" cy="356.7" r="2.35" fill="#8ed645"/>
<circle cx="854.2" cy="353.6" r="2.35" fill="#8ed645"/>
<circle cx="869.9" cy="348.3" r="2.35" fill="#8ed645"/>
<circle cx="884.1" cy="339.3" r="2.35" fill="#8ed645"/>
<circle cx="897.1" cy="331.1" r="2.35" fill="#8ed645"/>
<circle cx="909.0" cy="324.3" r="2.35" fill="#8ed645"/>
<circle cx="920.1" cy="317.8" r="2.35" fill="#8ed645"/>
<circle cx="930.4" cy="313.5" r="2.35" fill="#8ed645"/>
<circle cx="940.0" cy="311.7" r="2.35" fill="#8ed645"/>
<circle cx="949.1" cy="311.2" r="2.35" fill="#8ed645"/>
<circle cx="957.6" cy="311.3" r="2.35" fill="#8ed645"/>
<circle cx="965.7" cy="311.0" r="2.35" fill="#8ed645"/>
<path d="M793.7,356.0 L816.7,357.6 L836.6,355.9 L854.2,352.1 L869.9,347.2 L884.1,338.4 L897.1,331.1 L909.0,323.4 L920.1,317.3 L930.4,312.6 L940.0,311.7 L949.1,311.0 L957.6,310.3 L965.7,310.9" stroke="#77d153" stroke-width="1.25" fill="none" stroke-linejoin="round"/>
<circle cx="793.7" cy="356.0" r="2.35" fill="#77d153"/>
<circle cx="816.7" cy="357.6" r="2.35" fill="#77d153"/>
<circle cx="836.6" cy="355.9" r="2.35" fill="#77d153"/>
<circle cx="854.2" cy="352.1" r="2.35" fill="#77d153"/>
<circle cx="869.9" cy="347.2" r="2.35" fill="#77d153"/>
<circle cx="884.1" cy="338.4" r="2.35" fill="#77d153"/>
<circle cx="897.1" cy="331.1" r="2.35" fill="#77d153"/>
<circle cx="909.0" cy="323.4" r="2.35" fill="#77d153"/>
<circle cx="920.1" cy="317.3" r="2.35" fill="#77d153"/>
<circle cx="930.4" cy="312.6" r="2.35" fill="#77d153"/>
<circle cx="940.0" cy="311.7" r="2.35" fill="#77d153"/>
<circle cx="949.1" cy="311.0" r="2.35" fill="#77d153"/>
<circle cx="957.6" cy="310.3" r="2.35" fill="#77d153"/>
<circle cx="965.7" cy="310.9" r="2.35" fill="#77d153"/>
<path d="M793.7,355.9 L816.7,356.9 L836.6,355.3 L854.2,352.2 L869.9,346.5 L884.1,338.4 L897.1,330.3 L909.0,323.1 L920.1,317.7 L930.4,313.7 L940.0,312.1 L949.1,311.1 L957.6,310.9 L965.7,351.5 L973.3,418.2 L980.6,414.2 L987.5,423.5 L994.2,426.7 L1000.5,429.0" stroke="#63cb5f" stroke-width="1.25" fill="none" stroke-linejoin="round"/>
<circle cx="793.7" cy="355.9" r="2.35" fill="#63cb5f"/>
<circle cx="816.7" cy="356.9" r="2.35" fill="#63cb5f"/>
<circle cx="836.6" cy="355.3" r="2.35" fill="#63cb5f"/>
<circle cx="854.2" cy="352.2" r="2.35" fill="#63cb5f"/>
<circle cx="869.9" cy="346.5" r="2.35" fill="#63cb5f"/>
<circle cx="884.1" cy="338.4" r="2.35" fill="#63cb5f"/>
<circle cx="897.1" cy="330.3" r="2.35" fill="#63cb5f"/>
<circle cx="909.0" cy="323.1" r="2.35" fill="#63cb5f"/>
<circle cx="920.1" cy="317.7" r="2.35" fill="#63cb5f"/>
<circle cx="930.4" cy="313.7" r="2.35" fill="#63cb5f"/>
<circle cx="940.0" cy="312.1" r="2.35" fill="#63cb5f"/>
<circle cx="949.1" cy="311.1" r="2.35" fill="#63cb5f"/>
<circle cx="957.6" cy="310.9" r="2.35" fill="#63cb5f"/>
<circle cx="965.7" cy="351.5" r="2.35" fill="#63cb5f"/>
<circle cx="973.3" cy="418.2" r="2.35" fill="#63cb5f"/>
<circle cx="980.6" cy="414.2" r="2.35" fill="#63cb5f"/>
<circle cx="987.5" cy="423.5" r="2.35" fill="#63cb5f"/>
<circle cx="994.2" cy="426.7" r="2.35" fill="#63cb5f"/>
<circle cx="1000.5" cy="429.0" r="2.35" fill="#63cb5f"/>
<path d="M793.7,354.9 L816.7,355.0 L836.6,353.7 L854.2,351.5 L869.9,346.9 L884.1,338.5 L897.1,330.6 L909.0,322.9 L920.1,316.8 L930.4,314.9 L940.0,312.3 L949.1,312.0 L957.6,321.9 L965.7,379.4 L973.3,414.1 L980.6,420.2 L987.5,423.6 L994.2,427.0 L1000.5,428.9" stroke="#50c46a" stroke-width="1.25" fill="none" stroke-linejoin="round"/>
<circle cx="793.7" cy="354.9" r="2.35" fill="#50c46a"/>
<circle cx="816.7" cy="355.0" r="2.35" fill="#50c46a"/>
<circle cx="836.6" cy="353.7" r="2.35" fill="#50c46a"/>
<circle cx="854.2" cy="351.5" r="2.35" fill="#50c46a"/>
<circle cx="869.9" cy="346.9" r="2.35" fill="#50c46a"/>
<circle cx="884.1" cy="338.5" r="2.35" fill="#50c46a"/>
<circle cx="897.1" cy="330.6" r="2.35" fill="#50c46a"/>
<circle cx="909.0" cy="322.9" r="2.35" fill="#50c46a"/>
<circle cx="920.1" cy="316.8" r="2.35" fill="#50c46a"/>
<circle cx="930.4" cy="314.9" r="2.35" fill="#50c46a"/>
<circle cx="940.0" cy="312.3" r="2.35" fill="#50c46a"/>
<circle cx="949.1" cy="312.0" r="2.35" fill="#50c46a"/>
<circle cx="957.6" cy="321.9" r="2.35" fill="#50c46a"/>
<circle cx="965.7" cy="379.4" r="2.35" fill="#50c46a"/>
<circle cx="973.3" cy="414.1" r="2.35" fill="#50c46a"/>
<circle cx="980.6" cy="420.2" r="2.35" fill="#50c46a"/>
<circle cx="987.5" cy="423.6" r="2.35" fill="#50c46a"/>
<circle cx="994.2" cy="427.0" r="2.35" fill="#50c46a"/>
<circle cx="1000.5" cy="428.9" r="2.35" fill="#50c46a"/>
<path d="M793.7,355.5 L816.7,355.9 L836.6,353.1 L854.2,350.9 L869.9,345.9 L884.1,337.6 L897.1,329.3 L909.0,321.3 L920.1,316.5 L930.4,313.3 L940.0,311.9 L949.1,317.0 L957.6,348.2 L965.7,384.0 L973.3,416.8 L980.6,420.6 L987.5,423.9 L994.2,426.3 L1000.5,428.8" stroke="#3fbc73" stroke-width="1.25" fill="none" stroke-linejoin="round"/>
<circle cx="793.7" cy="355.5" r="2.35" fill="#3fbc73"/>
<circle cx="816.7" cy="355.9" r="2.35" fill="#3fbc73"/>
<circle cx="836.6" cy="353.1" r="2.35" fill="#3fbc73"/>
<circle cx="854.2" cy="350.9" r="2.35" fill="#3fbc73"/>
<circle cx="869.9" cy="345.9" r="2.35" fill="#3fbc73"/>
<circle cx="884.1" cy="337.6" r="2.35" fill="#3fbc73"/>
<circle cx="897.1" cy="329.3" r="2.35" fill="#3fbc73"/>
<circle cx="909.0" cy="321.3" r="2.35" fill="#3fbc73"/>
<circle cx="920.1" cy="316.5" r="2.35" fill="#3fbc73"/>
<circle cx="930.4" cy="313.3" r="2.35" fill="#3fbc73"/>
<circle cx="940.0" cy="311.9" r="2.35" fill="#3fbc73"/>
<circle cx="949.1" cy="317.0" r="2.35" fill="#3fbc73"/>
<circle cx="957.6" cy="348.2" r="2.35" fill="#3fbc73"/>
<circle cx="965.7" cy="384.0" r="2.35" fill="#3fbc73"/>
<circle cx="973.3" cy="416.8" r="2.35" fill="#3fbc73"/>
<circle cx="980.6" cy="420.6" r="2.35" fill="#3fbc73"/>
<circle cx="987.5" cy="423.9" r="2.35" fill="#3fbc73"/>
<circle cx="994.2" cy="426.3" r="2.35" fill="#3fbc73"/>
<circle cx="1000.5" cy="428.8" r="2.35" fill="#3fbc73"/>
<path d="M793.7,355.7 L816.7,355.0 L836.6,352.9 L854.2,349.3 L869.9,345.7 L884.1,337.9 L897.1,329.9 L909.0,321.8 L920.1,317.5 L930.4,313.1 L940.0,311.9 L949.1,337.7 L957.6,365.7 L965.7,399.8 L973.3,414.9 L980.6,420.8 L987.5,423.5 L994.2,427.3 L1000.5,429.6" stroke="#2fb47c" stroke-width="1.25" fill="none" stroke-linejoin="round"/>
<circle cx="793.7" cy="355.7" r="2.35" fill="#2fb47c"/>
<circle cx="816.7" cy="355.0" r="2.35" fill="#2fb47c"/>
<circle cx="836.6" cy="352.9" r="2.35" fill="#2fb47c"/>
<circle cx="854.2" cy="349.3" r="2.35" fill="#2fb47c"/>
<circle cx="869.9" cy="345.7" r="2.35" fill="#2fb47c"/>
<circle cx="884.1" cy="337.9" r="2.35" fill="#2fb47c"/>
<circle cx="897.1" cy="329.9" r="2.35" fill="#2fb47c"/>
<circle cx="909.0" cy="321.8" r="2.35" fill="#2fb47c"/>
<circle cx="920.1" cy="317.5" r="2.35" fill="#2fb47c"/>
<circle cx="930.4" cy="313.1" r="2.35" fill="#2fb47c"/>
<circle cx="940.0" cy="311.9" r="2.35" fill="#2fb47c"/>
<circle cx="949.1" cy="337.7" r="2.35" fill="#2fb47c"/>
<circle cx="957.6" cy="365.7" r="2.35" fill="#2fb47c"/>
<circle cx="965.7" cy="399.8" r="2.35" fill="#2fb47c"/>
<circle cx="973.3" cy="414.9" r="2.35" fill="#2fb47c"/>
<circle cx="980.6" cy="420.8" r="2.35" fill="#2fb47c"/>
<circle cx="987.5" cy="423.5" r="2.35" fill="#2fb47c"/>
<circle cx="994.2" cy="427.3" r="2.35" fill="#2fb47c"/>
<circle cx="1000.5" cy="429.6" r="2.35" fill="#2fb47c"/>
<path d="M793.7,354.2 L816.7,353.5 L836.6,352.3 L854.2,349.4 L869.9,343.8 L884.1,336.4 L897.1,329.3 L909.0,323.1 L920.1,317.0 L930.4,313.1 L940.0,324.2 L949.1,353.9 L957.6,376.4 L965.7,421.2 L973.3,422.8 L980.6,420.2 L987.5,423.8 L994.2,426.5 L1000.5,429.3" stroke="#25ac82" stroke-width="1.25" fill="none" stroke-linejoin="round"/>
<circle cx="793.7" cy="354.2" r="2.35" fill="#25ac82"/>
<circle cx="816.7" cy="353.5" r="2.35" fill="#25ac82"/>
<circle cx="836.6" cy="352.3" r="2.35" fill="#25ac82"/>
<circle cx="854.2" cy="349.4" r="2.35" fill="#25ac82"/>
<circle cx="869.9" cy="343.8" r="2.35" fill="#25ac82"/>
<circle cx="884.1" cy="336.4" r="2.35" fill="#25ac82"/>
<circle cx="897.1" cy="329.3" r="2.35" fill="#25ac82"/>
<circle cx="909.0" cy="323.1" r="2.35" fill="#25ac82"/>
<circle cx="920.1" cy="317.0" r="2.35" fill="#25ac82"/>
<circle cx="930.4" cy="313.1" r="2.35" fill="#25ac82"/>
<circle cx="940.0" cy="324.2" r="2.35" fill="#25ac82"/>
<circle cx="949.1" cy="353.9" r="2.35" fill="#25ac82"/>
<circle cx="957.6" cy="376.4" r="2.35" fill="#25ac82"/>
<circle cx="965.7" cy="421.2" r="2.35" fill="#25ac82"/>
<circle cx="973.3" cy="422.8" r="2.35" fill="#25ac82"/>
<circle cx="980.6" cy="420.2" r="2.35" fill="#25ac82"/>
<circle cx="987.5" cy="423.8" r="2.35" fill="#25ac82"/>
<circle cx="994.2" cy="426.5" r="2.35" fill="#25ac82"/>
<circle cx="1000.5" cy="429.3" r="2.35" fill="#25ac82"/>
<path d="M793.7,354.1 L816.7,353.1 L836.6,351.7 L854.2,348.9 L869.9,343.4 L884.1,336.1 L897.1,330.0 L909.0,321.9 L920.1,317.1 L930.4,327.5 L940.0,341.8 L949.1,370.2 L957.6,393.4 L965.7,422.8 L973.3,407.4 L980.6,421.5 L987.5,424.1 L994.2,427.4 L1000.5,429.2" stroke="#20a386" stroke-width="1.25" fill="none" stroke-linejoin="round"/>
<circle cx="793.7" cy="354.1" r="2.35" fill="#20a386"/>
<circle cx="816.7" cy="353.1" r="2.35" fill="#20a386"/>
<circle cx="836.6" cy="351.7" r="2.35" fill="#20a386"/>
<circle cx="854.2" cy="348.9" r="2.35" fill="#20a386"/>
<circle cx="869.9" cy="343.4" r="2.35" fill="#20a386"/>
<circle cx="884.1" cy="336.1" r="2.35" fill="#20a386"/>
<circle cx="897.1" cy="330.0" r="2.35" fill="#20a386"/>
<circle cx="909.0" cy="321.9" r="2.35" fill="#20a386"/>
<circle cx="920.1" cy="317.1" r="2.35" fill="#20a386"/>
<circle cx="930.4" cy="327.5" r="2.35" fill="#20a386"/>
<circle cx="940.0" cy="341.8" r="2.35" fill="#20a386"/>
<circle cx="949.1" cy="370.2" r="2.35" fill="#20a386"/>
<circle cx="957.6" cy="393.4" r="2.35" fill="#20a386"/>
<circle cx="965.7" cy="422.8" r="2.35" fill="#20a386"/>
<circle cx="973.3" cy="407.4" r="2.35" fill="#20a386"/>
<circle cx="980.6" cy="421.5" r="2.35" fill="#20a386"/>
<circle cx="987.5" cy="424.1" r="2.35" fill="#20a386"/>
<circle cx="994.2" cy="427.4" r="2.35" fill="#20a386"/>
<circle cx="1000.5" cy="429.2" r="2.35" fill="#20a386"/>
<path d="M793.7,353.7 L816.7,353.1 L836.6,351.4 L854.2,347.9 L869.9,342.9 L884.1,336.4 L897.1,328.5 L909.0,321.7 L920.1,316.8 L930.4,335.6 L940.0,358.3 L949.1,375.2 L957.6,394.6 L965.7,413.4 L973.3,417.1 L980.6,421.8 L987.5,424.3 L994.2,427.2 L1000.5,429.4" stroke="#1e9b8a" stroke-width="1.25" fill="none" stroke-linejoin="round"/>
<circle cx="793.7" cy="353.7" r="2.35" fill="#1e9b8a"/>
<circle cx="816.7" cy="353.1" r="2.35" fill="#1e9b8a"/>
<circle cx="836.6" cy="351.4" r="2.35" fill="#1e9b8a"/>
<circle cx="854.2" cy="347.9" r="2.35" fill="#1e9b8a"/>
<circle cx="869.9" cy="342.9" r="2.35" fill="#1e9b8a"/>
<circle cx="884.1" cy="336.4" r="2.35" fill="#1e9b8a"/>
<circle cx="897.1" cy="328.5" r="2.35" fill="#1e9b8a"/>
<circle cx="909.0" cy="321.7" r="2.35" fill="#1e9b8a"/>
<circle cx="920.1" cy="316.8" r="2.35" fill="#1e9b8a"/>
<circle cx="930.4" cy="335.6" r="2.35" fill="#1e9b8a"/>
<circle cx="940.0" cy="358.3" r="2.35" fill="#1e9b8a"/>
<circle cx="949.1" cy="375.2" r="2.35" fill="#1e9b8a"/>
<circle cx="957.6" cy="394.6" r="2.35" fill="#1e9b8a"/>
<circle cx="965.7" cy="413.4" r="2.35" fill="#1e9b8a"/>
<circle cx="973.3" cy="417.1" r="2.35" fill="#1e9b8a"/>
<circle cx="980.6" cy="421.8" r="2.35" fill="#1e9b8a"/>
<circle cx="987.5" cy="424.3" r="2.35" fill="#1e9b8a"/>
<circle cx="994.2" cy="427.2" r="2.35" fill="#1e9b8a"/>
<circle cx="1000.5" cy="429.4" r="2.35" fill="#1e9b8a"/>
<path d="M793.7,353.0 L816.7,352.4 L836.6,349.6 L854.2,345.9 L869.9,342.1 L884.1,336.9 L897.1,328.3 L909.0,321.7 L920.1,332.2 L930.4,349.6 L940.0,366.3 L949.1,384.8 L957.6,403.0 L965.7,415.4 L973.3,417.9 L980.6,420.6 L987.5,423.9 L994.2,426.6 L1000.5,430.9" stroke="#20928c" stroke-width="1.25" fill="none" stroke-linejoin="round"/>
<circle cx="793.7" cy="353.0" r="2.35" fill="#20928c"/>
<circle cx="816.7" cy="352.4" r="2.35" fill="#20928c"/>
<circle cx="836.6" cy="349.6" r="2.35" fill="#20928c"/>
<circle cx="854.2" cy="345.9" r="2.35" fill="#20928c"/>
<circle cx="869.9" cy="342.1" r="2.35" fill="#20928c"/>
<circle cx="884.1" cy="336.9" r="2.35" fill="#20928c"/>
<circle cx="897.1" cy="328.3" r="2.35" fill="#20928c"/>
<circle cx="909.0" cy="321.7" r="2.35" fill="#20928c"/>
<circle cx="920.1" cy="332.2" r="2.35" fill="#20928c"/>
<circle cx="930.4" cy="349.6" r="2.35" fill="#20928c"/>
<circle cx="940.0" cy="366.3" r="2.35" fill="#20928c"/>
<circle cx="949.1" cy="384.8" r="2.35" fill="#20928c"/>
<circle cx="957.6" cy="403.0" r="2.35" fill="#20928c"/>
<circle cx="965.7" cy="415.4" r="2.35" fill="#20928c"/>
<circle cx="973.3" cy="417.9" r="2.35" fill="#20928c"/>
<circle cx="980.6" cy="420.6" r="2.35" fill="#20928c"/>
<circle cx="987.5" cy="423.9" r="2.35" fill="#20928c"/>
<circle cx="994.2" cy="426.6" r="2.35" fill="#20928c"/>
<circle cx="1000.5" cy="430.9" r="2.35" fill="#20928c"/>
<path d="M793.7,352.6 L816.7,350.4 L836.6,348.5 L854.2,346.8 L869.9,342.4 L884.1,335.3 L897.1,329.0 L909.0,331.4 L920.1,346.5 L930.4,360.8 L940.0,376.2 L949.1,392.0 L957.6,407.3 L965.7,415.3 L973.3,418.3 L980.6,421.2 L987.5,425.2 L994.2,426.6 L1000.5,430.0" stroke="#23898e" stroke-width="1.25" fill="none" stroke-linejoin="round"/>
<circle cx="793.7" cy="352.6" r="2.35" fill="#23898e"/>
<circle cx="816.7" cy="350.4" r="2.35" fill="#23898e"/>
<circle cx="836.6" cy="348.5" r="2.35" fill="#23898e"/>
<circle cx="854.2" cy="346.8" r="2.35" fill="#23898e"/>
<circle cx="869.9" cy="342.4" r="2.35" fill="#23898e"/>
<circle cx="884.1" cy="335.3" r="2.35" fill="#23898e"/>
<circle cx="897.1" cy="329.0" r="2.35" fill="#23898e"/>
<circle cx="909.0" cy="331.4" r="2.35" fill="#23898e"/>
<circle cx="920.1" cy="346.5" r="2.35" fill="#23898e"/>
<circle cx="930.4" cy="360.8" r="2.35" fill="#23898e"/>
<circle cx="940.0" cy="376.2" r="2.35" fill="#23898e"/>
<circle cx="949.1" cy="392.0" r="2.35" fill="#23898e"/>
<circle cx="957.6" cy="407.3" r="2.35" fill="#23898e"/>
<circle cx="965.7" cy="415.3" r="2.35" fill="#23898e"/>
<circle cx="973.3" cy="418.3" r="2.35" fill="#23898e"/>
<circle cx="980.6" cy="421.2" r="2.35" fill="#23898e"/>
<circle cx="987.5" cy="425.2" r="2.35" fill="#23898e"/>
<circle cx="994.2" cy="426.6" r="2.35" fill="#23898e"/>
<circle cx="1000.5" cy="430.0" r="2.35" fill="#23898e"/>
<path d="M793.7,352.4 L816.7,350.1 L836.6,348.5 L854.2,345.5 L869.9,340.9 L884.1,334.5 L897.1,331.5 L909.0,344.5 L920.1,357.1 L930.4,370.5 L940.0,383.9 L949.1,396.3 L957.6,409.7 L965.7,416.6 L973.3,419.3 L980.6,421.5 L987.5,424.3 L994.2,427.4 L1000.5,429.9" stroke="#26818e" stroke-width="1.25" fill="none" stroke-linejoin="round"/>
<circle cx="793.7" cy="352.4" r="2.35" fill="#26818e"/>
<circle cx="816.7" cy="350.1" r="2.35" fill="#26818e"/>
<circle cx="836.6" cy="348.5" r="2.35" fill="#26818e"/>
<circle cx="854.2" cy="345.5" r="2.35" fill="#26818e"/>
<circle cx="869.9" cy="340.9" r="2.35" fill="#26818e"/>
<circle cx="884.1" cy="334.5" r="2.35" fill="#26818e"/>
<circle cx="897.1" cy="331.5" r="2.35" fill="#26818e"/>
<circle cx="909.0" cy="344.5" r="2.35" fill="#26818e"/>
<circle cx="920.1" cy="357.1" r="2.35" fill="#26818e"/>
<circle cx="930.4" cy="370.5" r="2.35" fill="#26818e"/>
<circle cx="940.0" cy="383.9" r="2.35" fill="#26818e"/>
<circle cx="949.1" cy="396.3" r="2.35" fill="#26818e"/>
<circle cx="957.6" cy="409.7" r="2.35" fill="#26818e"/>
<circle cx="965.7" cy="416.6" r="2.35" fill="#26818e"/>
<circle cx="973.3" cy="419.3" r="2.35" fill="#26818e"/>
<circle cx="980.6" cy="421.5" r="2.35" fill="#26818e"/>
<circle cx="987.5" cy="424.3" r="2.35" fill="#26818e"/>
<circle cx="994.2" cy="427.4" r="2.35" fill="#26818e"/>
<circle cx="1000.5" cy="429.9" r="2.35" fill="#26818e"/>
<path d="M793.7,351.9 L816.7,350.8 L836.6,347.2 L854.2,345.4 L869.9,341.1 L884.1,335.1 L897.1,344.5 L909.0,354.2 L920.1,366.3 L930.4,377.1 L940.0,389.5 L949.1,402.2 L957.6,412.7 L965.7,415.7 L973.3,419.2 L980.6,423.1 L987.5,425.4 L994.2,427.9 L1000.5,430.5" stroke="#2a788e" stroke-width="1.25" fill="none" stroke-linejoin="round"/>
<circle cx="793.7" cy="351.9" r="2.35" fill="#2a788e"/>
<circle cx="816.7" cy="350.8" r="2.35" fill="#2a788e"/>
<circle cx="836.6" cy="347.2" r="2.35" fill="#2a788e"/>
<circle cx="854.2" cy="345.4" r="2.35" fill="#2a788e"/>
<circle cx="869.9" cy="341.1" r="2.35" fill="#2a788e"/>
<circle cx="884.1" cy="335.1" r="2.35" fill="#2a788e"/>
<circle cx="897.1" cy="344.5" r="2.35" fill="#2a788e"/>
<circle cx="909.0" cy="354.2" r="2.35" fill="#2a788e"/>
<circle cx="920.1" cy="366.3" r="2.35" fill="#2a788e"/>
<circle cx="930.4" cy="377.1" r="2.35" fill="#2a788e"/>
<circle cx="940.0" cy="389.5" r="2.35" fill="#2a788e"/>
<circle cx="949.1" cy="402.2" r="2.35" fill="#2a788e"/>
<circle cx="957.6" cy="412.7" r="2.35" fill="#2a788e"/>
<circle cx="965.7" cy="415.7" r="2.35" fill="#2a788e"/>
<circle cx="973.3" cy="419.2" r="2.35" fill="#2a788e"/>
<circle cx="980.6" cy="423.1" r="2.35" fill="#2a788e"/>
<circle cx="987.5" cy="425.4" r="2.35" fill="#2a788e"/>
<circle cx="994.2" cy="427.9" r="2.35" fill="#2a788e"/>
<circle cx="1000.5" cy="430.5" r="2.35" fill="#2a788e"/>
<path d="M793.7,351.2 L816.7,348.3 L836.6,345.8 L854.2,344.2 L869.9,342.6 L884.1,341.7 L897.1,341.9 L909.0,348.8 L920.1,362.6 L930.4,376.6 L940.0,393.0 L949.1,406.9 L957.6,416.3 L965.7,419.3 L973.3,422.4 L980.6,424.9 L987.5,427.2 L994.2,429.0 L1000.5,431.8" stroke="#2d708e" stroke-width="1.25" fill="none" stroke-linejoin="round"/>
<circle cx="793.7" cy="351.2" r="2.35" fill="#2d708e"/>
<circle cx="816.7" cy="348.3" r="2.35" fill="#2d708e"/>
<circle cx="836.6" cy="345.8" r="2.35" fill="#2d708e"/>
<circle cx="854.2" cy="344.2" r="2.35" fill="#2d708e"/>
<circle cx="869.9" cy="342.6" r="2.35" fill="#2d708e"/>
<circle cx="884.1" cy="341.7" r="2.35" fill="#2d708e"/>
<circle cx="897.1" cy="341.9" r="2.35" fill="#2d708e"/>
<circle cx="909.0" cy="348.8" r="2.35" fill="#2d708e"/>
<circle cx="920.1" cy="362.6" r="2.35" fill="#2d708e"/>
<circle cx="930.4" cy="376.6" r="2.35" fill="#2d708e"/>
<circle cx="940.0" cy="393.0" r="2.35" fill="#2d708e"/>
<circle cx="949.1" cy="406.9" r="2.35" fill="#2d708e"/>
<circle cx="957.6" cy="416.3" r="2.35" fill="#2d708e"/>
<circle cx="965.7" cy="419.3" r="2.35" fill="#2d708e"/>
<circle cx="973.3" cy="422.4" r="2.35" fill="#2d708e"/>
<circle cx="980.6" cy="424.9" r="2.35" fill="#2d708e"/>
<circle cx="987.5" cy="427.2" r="2.35" fill="#2d708e"/>
<circle cx="994.2" cy="429.0" r="2.35" fill="#2d708e"/>
<circle cx="1000.5" cy="431.8" r="2.35" fill="#2d708e"/>
<path d="M793.7,350.4 L816.7,350.5 L836.6,348.2 L854.2,347.8 L869.9,347.4 L884.1,346.3 L897.1,346.0 L909.0,352.7 L920.1,366.5 L930.4,379.0 L940.0,394.9 L949.1,408.6 L957.6,416.5 L965.7,421.5 L973.3,422.4 L980.6,424.8 L987.5,427.7 L994.2,428.8 L1000.5,432.8" stroke="#31668e" stroke-width="1.25" fill="none" stroke-linejoin="round"/>
<circle cx="793.7" cy="350.4" r="2.35" fill="#31668e"/>
<circle cx="816.7" cy="350.5" r="2.35" fill="#31668e"/>
<circle cx="836.6" cy="348.2" r="2.35" fill="#31668e"/>
<circle cx="854.2" cy="347.8" r="2.35" fill="#31668e"/>
<circle cx="869.9" cy="347.4" r="2.35" fill="#31668e"/>
<circle cx="884.1" cy="346.3" r="2.35" fill="#31668e"/>
<circle cx="897.1" cy="346.0" r="2.35" fill="#31668e"/>
<circle cx="909.0" cy="352.7" r="2.35" fill="#31668e"/>
<circle cx="920.1" cy="366.5" r="2.35" fill="#31668e"/>
<circle cx="930.4" cy="379.0" r="2.35" fill="#31668e"/>
<circle cx="940.0" cy="394.9" r="2.35" fill="#31668e"/>
<circle cx="949.1" cy="408.6" r="2.35" fill="#31668e"/>
<circle cx="957.6" cy="416.5" r="2.35" fill="#31668e"/>
<circle cx="965.7" cy="421.5" r="2.35" fill="#31668e"/>
<circle cx="973.3" cy="422.4" r="2.35" fill="#31668e"/>
<circle cx="980.6" cy="424.8" r="2.35" fill="#31668e"/>
<circle cx="987.5" cy="427.7" r="2.35" fill="#31668e"/>
<circle cx="994.2" cy="428.8" r="2.35" fill="#31668e"/>
<circle cx="1000.5" cy="432.8" r="2.35" fill="#31668e"/>
<path d="M793.7,352.5 L816.7,352.0 L836.6,352.3 L854.2,352.3 L869.9,352.6 L884.1,352.5 L897.1,353.4 L909.0,359.7 L920.1,371.7 L930.4,385.2 L940.0,397.5 L949.1,411.2 L957.6,418.1 L965.7,421.8 L973.3,422.5 L980.6,425.1 L987.5,427.8 L994.2,430.9 L1000.5,432.5" stroke="#365d8d" stroke-width="1.25" fill="none" stroke-linejoin="round"/>
<circle cx="793.7" cy="352.5" r="2.35" fill="#365d8d"/>
<circle cx="816.7" cy="352.0" r="2.35" fill="#365d8d"/>
<circle cx="836.6" cy="352.3" r="2.35" fill="#365d8d"/>
<circle cx="854.2" cy="352.3" r="2.35" fill="#365d8d"/>
<circle cx="869.9" cy="352.6" r="2.35" fill="#365d8d"/>
<circle cx="884.1" cy="352.5" r="2.35" fill="#365d8d"/>
<circle cx="897.1" cy="353.4" r="2.35" fill="#365d8d"/>
<circle cx="909.0" cy="359.7" r="2.35" fill="#365d8d"/>
<circle cx="920.1" cy="371.7" r="2.35" fill="#365d8d"/>
<circle cx="930.4" cy="385.2" r="2.35" fill="#365d8d"/>
<circle cx="940.0" cy="397.5" r="2.35" fill="#365d8d"/>
<circle cx="949.1" cy="411.2" r="2.35" fill="#365d8d"/>
<circle cx="957.6" cy="418.1" r="2.35" fill="#365d8d"/>
<circle cx="965.7" cy="421.8" r="2.35" fill="#365d8d"/>
<circle cx="973.3" cy="422.5" r="2.35" fill="#365d8d"/>
<circle cx="980.6" cy="425.1" r="2.35" fill="#365d8d"/>
<circle cx="987.5" cy="427.8" r="2.35" fill="#365d8d"/>
<circle cx="994.2" cy="430.9" r="2.35" fill="#365d8d"/>
<circle cx="1000.5" cy="432.5" r="2.35" fill="#365d8d"/>
<path d="M793.7,352.2 L816.7,355.2 L836.6,355.1 L854.2,356.9 L869.9,358.6 L884.1,360.3 L897.1,361.3 L909.0,367.2 L920.1,379.3 L930.4,389.6 L940.0,400.8 L949.1,411.8 L957.6,418.9 L965.7,421.9 L973.3,424.9 L980.6,426.3 L987.5,429.6 L994.2,431.1 L1000.5,432.9" stroke="#3a538b" stroke-width="1.25" fill="none" stroke-linejoin="round"/>
<circle cx="793.7" cy="352.2" r="2.35" fill="#3a538b"/>
<circle cx="816.7" cy="355.2" r="2.35" fill="#3a538b"/>
<circle cx="836.6" cy="355.1" r="2.35" fill="#3a538b"/>
<circle cx="854.2" cy="356.9" r="2.35" fill="#3a538b"/>
<circle cx="869.9" cy="358.6" r="2.35" fill="#3a538b"/>
<circle cx="884.1" cy="360.3" r="2.35" fill="#3a538b"/>
<circle cx="897.1" cy="361.3" r="2.35" fill="#3a538b"/>
<circle cx="909.0" cy="367.2" r="2.35" fill="#3a538b"/>
<circle cx="920.1" cy="379.3" r="2.35" fill="#3a538b"/>
<circle cx="930.4" cy="389.6" r="2.35" fill="#3a538b"/>
<circle cx="940.0" cy="400.8" r="2.35" fill="#3a538b"/>
<circle cx="949.1" cy="411.8" r="2.35" fill="#3a538b"/>
<circle cx="957.6" cy="418.9" r="2.35" fill="#3a538b"/>
<circle cx="965.7" cy="421.9" r="2.35" fill="#3a538b"/>
<circle cx="973.3" cy="424.9" r="2.35" fill="#3a538b"/>
<circle cx="980.6" cy="426.3" r="2.35" fill="#3a538b"/>
<circle cx="987.5" cy="429.6" r="2.35" fill="#3a538b"/>
<circle cx="994.2" cy="431.1" r="2.35" fill="#3a538b"/>
<circle cx="1000.5" cy="432.9" r="2.35" fill="#3a538b"/>
<path d="M793.7,354.9 L816.7,357.3 L836.6,359.9 L854.2,362.3 L869.9,364.1 L884.1,366.3 L897.1,369.4 L909.0,375.4 L920.1,384.5 L930.4,393.9 L940.0,404.3 L949.1,413.9 L957.6,419.7 L965.7,423.3 L973.3,425.4 L980.6,426.4 L987.5,429.6 L994.2,431.3 L1000.5,433.0" stroke="#3e4989" stroke-width="1.25" fill="none" stroke-linejoin="round"/>
<circle cx="793.7" cy="354.9" r="2.35" fill="#3e4989"/>
<circle cx="816.7" cy="357.3" r="2.35" fill="#3e4989"/>
<circle cx="836.6" cy="359.9" r="2.35" fill="#3e4989"/>
<circle cx="854.2" cy="362.3" r="2.35" fill="#3e4989"/>
<circle cx="869.9" cy="364.1" r="2.35" fill="#3e4989"/>
<circle cx="884.1" cy="366.3" r="2.35" fill="#3e4989"/>
<circle cx="897.1" cy="369.4" r="2.35" fill="#3e4989"/>
<circle cx="909.0" cy="375.4" r="2.35" fill="#3e4989"/>
<circle cx="920.1" cy="384.5" r="2.35" fill="#3e4989"/>
<circle cx="930.4" cy="393.9" r="2.35" fill="#3e4989"/>
<circle cx="940.0" cy="404.3" r="2.35" fill="#3e4989"/>
<circle cx="949.1" cy="413.9" r="2.35" fill="#3e4989"/>
<circle cx="957.6" cy="419.7" r="2.35" fill="#3e4989"/>
<circle cx="965.7" cy="423.3" r="2.35" fill="#3e4989"/>
<circle cx="973.3" cy="425.4" r="2.35" fill="#3e4989"/>
<circle cx="980.6" cy="426.4" r="2.35" fill="#3e4989"/>
<circle cx="987.5" cy="429.6" r="2.35" fill="#3e4989"/>
<circle cx="994.2" cy="431.3" r="2.35" fill="#3e4989"/>
<circle cx="1000.5" cy="433.0" r="2.35" fill="#3e4989"/>
<path d="M793.7,357.1 L816.7,360.2 L836.6,364.5 L854.2,367.2 L869.9,370.6 L884.1,372.4 L897.1,375.5 L909.0,382.2 L920.1,391.2 L930.4,398.0 L940.0,407.3 L949.1,415.8 L957.6,421.5 L965.7,425.3 L973.3,425.7 L980.6,427.8 L987.5,430.1 L994.2,431.9 L1000.5,432.9" stroke="#423f85" stroke-width="1.25" fill="none" stroke-linejoin="round"/>
<circle cx="793.7" cy="357.1" r="2.35" fill="#423f85"/>
<circle cx="816.7" cy="360.2" r="2.35" fill="#423f85"/>
<circle cx="836.6" cy="364.5" r="2.35" fill="#423f85"/>
<circle cx="854.2" cy="367.2" r="2.35" fill="#423f85"/>
<circle cx="869.9" cy="370.6" r="2.35" fill="#423f85"/>
<circle cx="884.1" cy="372.4" r="2.35" fill="#423f85"/>
<circle cx="897.1" cy="375.5" r="2.35" fill="#423f85"/>
<circle cx="909.0" cy="382.2" r="2.35" fill="#423f85"/>
<circle cx="920.1" cy="391.2" r="2.35" fill="#423f85"/>
<circle cx="930.4" cy="398.0" r="2.35" fill="#423f85"/>
<circle cx="940.0" cy="407.3" r="2.35" fill="#423f85"/>
<circle cx="949.1" cy="415.8" r="2.35" fill="#423f85"/>
<circle cx="957.6" cy="421.5" r="2.35" fill="#423f85"/>
<circle cx="965.7" cy="425.3" r="2.35" fill="#423f85"/>
<circle cx="973.3" cy="425.7" r="2.35" fill="#423f85"/>
<circle cx="980.6" cy="427.8" r="2.35" fill="#423f85"/>
<circle cx="987.5" cy="430.1" r="2.35" fill="#423f85"/>
<circle cx="994.2" cy="431.9" r="2.35" fill="#423f85"/>
<circle cx="1000.5" cy="432.9" r="2.35" fill="#423f85"/>
<path d="M793.7,360.1 L816.7,364.7 L836.6,369.6 L854.2,373.2 L869.9,376.9 L884.1,380.4 L897.1,384.9 L909.0,390.7 L920.1,396.7 L930.4,402.4 L940.0,410.9 L949.1,417.7 L957.6,422.2 L965.7,425.2 L973.3,427.3 L980.6,429.2 L987.5,430.9 L994.2,433.2 L1000.5,434.4" stroke="#46337f" stroke-width="1.25" fill="none" stroke-linejoin="round"/>
<circle cx="793.7" cy="360.1" r="2.35" fill="#46337f"/>
<circle cx="816.7" cy="364.7" r="2.35" fill="#46337f"/>
<circle cx="836.6" cy="369.6" r="2.35" fill="#46337f"/>
<circle cx="854.2" cy="373.2" r="2.35" fill="#46337f"/>
<circle cx="869.9" cy="376.9" r="2.35" fill="#46337f"/>
<circle cx="884.1" cy="380.4" r="2.35" fill="#46337f"/>
<circle cx="897.1" cy="384.9" r="2.35" fill="#46337f"/>
<circle cx="909.0" cy="390.7" r="2.35" fill="#46337f"/>
<circle cx="920.1" cy="396.7" r="2.35" fill="#46337f"/>
<circle cx="930.4" cy="402.4" r="2.35" fill="#46337f"/>
<circle cx="940.0" cy="410.9" r="2.35" fill="#46337f"/>
<circle cx="949.1" cy="417.7" r="2.35" fill="#46337f"/>
<circle cx="957.6" cy="422.2" r="2.35" fill="#46337f"/>
<circle cx="965.7" cy="425.2" r="2.35" fill="#46337f"/>
<circle cx="973.3" cy="427.3" r="2.35" fill="#46337f"/>
<circle cx="980.6" cy="429.2" r="2.35" fill="#46337f"/>
<circle cx="987.5" cy="430.9" r="2.35" fill="#46337f"/>
<circle cx="994.2" cy="433.2" r="2.35" fill="#46337f"/>
<circle cx="1000.5" cy="434.4" r="2.35" fill="#46337f"/>
<path d="M793.7,366.4 L816.7,371.7 L836.6,377.1 L854.2,381.7 L869.9,385.5 L884.1,389.2 L897.1,392.5 L909.0,397.5 L920.1,403.6 L930.4,408.7 L940.0,413.6 L949.1,419.4 L957.6,423.6 L965.7,426.9 L973.3,427.4 L980.6,428.5 L987.5,431.2 L994.2,432.7 L1000.5,434.0" stroke="#482878" stroke-width="1.25" fill="none" stroke-linejoin="round"/>
<circle cx="793.7" cy="366.4" r="2.35" fill="#482878"/>
<circle cx="816.7" cy="371.7" r="2.35" fill="#482878"/>
<circle cx="836.6" cy="377.1" r="2.35" fill="#482878"/>
<circle cx="854.2" cy="381.7" r="2.35" fill="#482878"/>
<circle cx="869.9" cy="385.5" r="2.35" fill="#482878"/>
<circle cx="884.1" cy="389.2" r="2.35" fill="#482878"/>
<circle cx="897.1" cy="392.5" r="2.35" fill="#482878"/>
<circle cx="909.0" cy="397.5" r="2.35" fill="#482878"/>
<circle cx="920.1" cy="403.6" r="2.35" fill="#482878"/>
<circle cx="930.4" cy="408.7" r="2.35" fill="#482878"/>
<circle cx="940.0" cy="413.6" r="2.35" fill="#482878"/>
<circle cx="949.1" cy="419.4" r="2.35" fill="#482878"/>
<circle cx="957.6" cy="423.6" r="2.35" fill="#482878"/>
<circle cx="965.7" cy="426.9" r="2.35" fill="#482878"/>
<circle cx="973.3" cy="427.4" r="2.35" fill="#482878"/>
<circle cx="980.6" cy="428.5" r="2.35" fill="#482878"/>
<circle cx="987.5" cy="431.2" r="2.35" fill="#482878"/>
<circle cx="994.2" cy="432.7" r="2.35" fill="#482878"/>
<circle cx="1000.5" cy="434.0" r="2.35" fill="#482878"/>
<path d="M793.7,376.9 L816.7,382.1 L836.6,386.7 L854.2,391.8 L869.9,394.9 L884.1,398.4 L897.1,403.3 L909.0,406.5 L920.1,410.7 L930.4,414.6 L940.0,418.0 L949.1,421.7 L957.6,424.6 L965.7,426.8 L973.3,428.8 L980.6,429.8 L987.5,430.8 L994.2,433.8 L1000.5,434.0" stroke="#481c6e" stroke-width="1.25" fill="none" stroke-linejoin="round"/>
<circle cx="793.7" cy="376.9" r="2.35" fill="#481c6e"/>
<circle cx="816.7" cy="382.1" r="2.35" fill="#481c6e"/>
<circle cx="836.6" cy="386.7" r="2.35" fill="#481c6e"/>
<circle cx="854.2" cy="391.8" r="2.35" fill="#481c6e"/>
<circle cx="869.9" cy="394.9" r="2.35" fill="#481c6e"/>
<circle cx="884.1" cy="398.4" r="2.35" fill="#481c6e"/>
<circle cx="897.1" cy="403.3" r="2.35" fill="#481c6e"/>
<circle cx="909.0" cy="406.5" r="2.35" fill="#481c6e"/>
<circle cx="920.1" cy="410.7" r="2.35" fill="#481c6e"/>
<circle cx="930.4" cy="414.6" r="2.35" fill="#481c6e"/>
<circle cx="940.0" cy="418.0" r="2.35" fill="#481c6e"/>
<circle cx="949.1" cy="421.7" r="2.35" fill="#481c6e"/>
<circle cx="957.6" cy="424.6" r="2.35" fill="#481c6e"/>
<circle cx="965.7" cy="426.8" r="2.35" fill="#481c6e"/>
<circle cx="973.3" cy="428.8" r="2.35" fill="#481c6e"/>
<circle cx="980.6" cy="429.8" r="2.35" fill="#481c6e"/>
<circle cx="987.5" cy="430.8" r="2.35" fill="#481c6e"/>
<circle cx="994.2" cy="433.8" r="2.35" fill="#481c6e"/>
<circle cx="1000.5" cy="434.0" r="2.35" fill="#481c6e"/>
<path d="M793.7,389.3 L816.7,395.9 L836.6,400.2 L854.2,403.0 L869.9,407.5 L884.1,409.3 L897.1,413.0 L909.0,415.7 L920.1,417.9 L930.4,420.5 L940.0,422.3 L949.1,425.4 L957.6,426.2 L965.7,428.3 L973.3,430.2 L980.6,431.6 L987.5,433.6 L994.2,434.4 L1000.5,435.8" stroke="#471063" stroke-width="1.25" fill="none" stroke-linejoin="round"/>
<circle cx="793.7" cy="389.3" r="2.35" fill="#471063"/>
<circle cx="816.7" cy="395.9" r="2.35" fill="#471063"/>
<circle cx="836.6" cy="400.2" r="2.35" fill="#471063"/>
<circle cx="854.2" cy="403.0" r="2.35" fill="#471063"/>
<circle cx="869.9" cy="407.5" r="2.35" fill="#471063"/>
<circle cx="884.1" cy="409.3" r="2.35" fill="#471063"/>
<circle cx="897.1" cy="413.0" r="2.35" fill="#471063"/>
<circle cx="909.0" cy="415.7" r="2.35" fill="#471063"/>
<circle cx="920.1" cy="417.9" r="2.35" fill="#471063"/>
<circle cx="930.4" cy="420.5" r="2.35" fill="#471063"/>
<circle cx="940.0" cy="422.3" r="2.35" fill="#471063"/>
<circle cx="949.1" cy="425.4" r="2.35" fill="#471063"/>
<circle cx="957.6" cy="426.2" r="2.35" fill="#471063"/>
<circle cx="965.7" cy="428.3" r="2.35" fill="#471063"/>
<circle cx="973.3" cy="430.2" r="2.35" fill="#471063"/>
<circle cx="980.6" cy="431.6" r="2.35" fill="#471063"/>
<circle cx="987.5" cy="433.6" r="2.35" fill="#471063"/>
<circle cx="994.2" cy="434.4" r="2.35" fill="#471063"/>
<circle cx="1000.5" cy="435.8" r="2.35" fill="#471063"/>
<line x1="793.70" y1="390.06" x2="1019.50" y2="439.30" stroke="#111" stroke-width="2.2" />
<path d="M1015.9,441.8 L1021.5,439.8 L1017.2,435.6" stroke="#111" stroke-width="1.6" fill="none" stroke-linecap="butt" stroke-linejoin="miter" stroke-miterlimit="10"/>
<path d="M793.7,347.5 L796.8,347.3 L799.8,347.1 L802.8,346.8 L805.8,346.6 L808.8,346.3 L811.8,346.0 L814.8,345.6 L817.7,345.3 L820.6,344.9 L823.5,344.5 L826.4,344.1 L829.3,343.6 L832.1,343.1 L834.9,342.6 L837.8,342.0 L840.6,341.4 L843.4,340.8 L846.3,340.2 L849.1,339.6 L851.9,338.8 L854.7,338.1 L857.5,337.3 L860.4,336.5 L863.2,335.6 L866.1,334.7 L869.0,333.8 L872.0,332.8 L875.2,331.7 L878.5,330.5 L881.9,329.3 L885.3,328.0 L888.5,326.7 L891.5,325.5 L894.3,324.3 L896.8,323.1 L898.9,322.1 L900.8,321.0 L902.6,320.0 L904.3,319.0 L905.8,318.0 L907.4,317.0 L908.9,316.1 L910.5,315.2 L912.2,314.4 L913.9,313.6 L915.5,312.7 L917.1,311.9 L918.7,311.1 L920.3,310.4 L922.0,309.7 L923.7,309.1 L925.5,308.5 L927.3,308.1 L929.2,307.6 L931.2,307.2 L933.3,306.9 L935.4,306.5 L937.5,306.2 L939.7,305.9 L941.9,305.7 L944.0,305.5 L946.2,305.4 L948.5,305.4 L950.8,305.3 L953.2,305.2 L955.6,305.1 L957.9,305.1 L960.2,305.0 L962.4,305.0 L964.5,305.0 L966.6,305.0 L968.5,305.0 L970.5,305.0 L972.3,305.0 L974.2,305.0 L976.0,305.0 L977.7,305.0 L979.4,305.0 L981.0,305.0" stroke="#9b1b5e" stroke-width="3.0" fill="none" stroke-linecap="round" stroke-linejoin="round"/>
<path d="M976.0,309.2 L982.8,305.0 L976.0,300.8" stroke="#9b1b5e" stroke-width="3.0" fill="none" stroke-linecap="butt" stroke-linejoin="miter" stroke-miterlimit="10"/>
<line x1="783.90" y1="301.00" x2="783.90" y2="440.80" stroke="#5a5a5a" stroke-width="1.0" />
<line x1="783.40" y1="440.30" x2="1012.00" y2="440.30" stroke="#5a5a5a" stroke-width="1.0" />
<line x1="780.40" y1="439.20" x2="783.90" y2="439.20" stroke="#555" stroke-width="0.9" />
<text x="778.4" y="442.4" font-size="8.5" fill="#666" text-anchor="end" font-family='"DejaVu Sans", "Liberation Sans", sans-serif' >0.2</text>
<line x1="780.40" y1="406.44" x2="783.90" y2="406.44" stroke="#555" stroke-width="0.9" />
<text x="778.4" y="409.6" font-size="8.5" fill="#666" text-anchor="end" font-family='"DejaVu Sans", "Liberation Sans", sans-serif' >0.4</text>
<line x1="780.40" y1="373.68" x2="783.90" y2="373.68" stroke="#555" stroke-width="0.9" />
<text x="778.4" y="376.9" font-size="8.5" fill="#666" text-anchor="end" font-family='"DejaVu Sans", "Liberation Sans", sans-serif' >0.6</text>
<line x1="780.40" y1="340.92" x2="783.90" y2="340.92" stroke="#555" stroke-width="0.9" />
<text x="778.4" y="344.1" font-size="8.5" fill="#666" text-anchor="end" font-family='"DejaVu Sans", "Liberation Sans", sans-serif' >0.8</text>
<line x1="780.40" y1="308.16" x2="783.90" y2="308.16" stroke="#555" stroke-width="0.9" />
<text x="778.4" y="311.4" font-size="8.5" fill="#666" text-anchor="end" font-family='"DejaVu Sans", "Liberation Sans", sans-serif' >1.0</text>
<line x1="793.70" y1="440.30" x2="793.70" y2="443.80" stroke="#555" stroke-width="0.9" />
<text x="793.7" y="453.3" font-size="8.5" fill="#666" text-anchor="middle" font-family='"DejaVu Sans", "Liberation Sans", sans-serif' >1</text>
<line x1="897.10" y1="440.30" x2="897.10" y2="443.80" stroke="#555" stroke-width="0.9" />
<text x="897.1" y="453.3" font-size="8.5" fill="#666" text-anchor="middle" font-family='"DejaVu Sans", "Liberation Sans", sans-serif' >2</text>
<line x1="957.59" y1="440.30" x2="957.59" y2="443.80" stroke="#555" stroke-width="0.9" />
<text x="957.6" y="453.3" font-size="8.5" fill="#666" text-anchor="middle" font-family='"DejaVu Sans", "Liberation Sans", sans-serif' >3</text>
<line x1="1000.51" y1="440.30" x2="1000.51" y2="443.80" stroke="#555" stroke-width="0.9" />
<text x="1000.5" y="453.3" font-size="8.5" fill="#666" text-anchor="middle" font-family='"DejaVu Sans", "Liberation Sans", sans-serif' >4</text>
<text x="742.2" y="284.6" font-size="20.2" fill="#111" text-anchor="start" font-family='"Liberation Sans", "DejaVu Sans", sans-serif' font-weight="bold" textLength="11.0" lengthAdjust="spacingAndGlyphs" stroke="#111" stroke-width="0.7" stroke-linejoin="round" >F</text>
<text x="813.9" y="286.7" font-size="14" fill="#222" text-anchor="start" font-family='"Liberation Sans", "DejaVu Sans", sans-serif' textLength="187.2" lengthAdjust="spacingAndGlyphs" stroke="#222" stroke-width="0.22" >Information gain per example</text>
<text transform="translate(757.3,375) rotate(-90)" font-size="14" fill="#222" stroke="#222" stroke-width="0.22" text-anchor="middle" font-family='"Liberation Sans", "DejaVu Sans", sans-serif' textLength="114" lengthAdjust="spacingAndGlyphs">Information (nats)</text>
<text x="780.1" y="473.0" font-size="14" fill="#222" text-anchor="start" font-family='"Liberation Sans", "DejaVu Sans", sans-serif' textLength="215.5" lengthAdjust="spacingAndGlyphs" stroke="#222" stroke-width="0.22" >Training examples per parameter (</text>
<text x="996.6" y="473.0" font-size="19.5" fill="#222" text-anchor="start" font-family='"Liberation Serif", "DejaVu Serif", serif' font-style="italic" textLength="9.8" lengthAdjust="spacingAndGlyphs" >α</text>
<text x="1006.9" y="474.3" font-size="11.5" fill="#222" text-anchor="start" font-family='"Liberation Serif", "DejaVu Serif", serif' textLength="36.0" lengthAdjust="spacingAndGlyphs" >prune</text>
<text x="1043.3" y="473.0" font-size="14" fill="#222" text-anchor="start" font-family='"Liberation Sans", "DejaVu Sans", sans-serif' stroke="#222" stroke-width="0.22" >)</text>
<text x="966" y="324.2" font-size="16.5" textLength="58.5" lengthAdjust="spacingAndGlyphs" fill="#9b1b5e" font-family='"Liberation Serif", "DejaVu Serif", serif'><tspan font-style="italic">I</tspan>(∞) = 1</text>
<text x="988.5" y="420" font-size="18.5" fill="#111" font-family='"Liberation Serif", "DejaVu Serif", serif'>∼<tspan font-style="italic">α</tspan><tspan dy="-8" font-size="10.5">−1</tspan></text>
<defs><linearGradient id="cbF" x1="0" y1="0" x2="0" y2="1"><stop offset="0.000" stop-color="#dfe318"/><stop offset="0.042" stop-color="#c5e021"/><stop offset="0.083" stop-color="#aadc32"/><stop offset="0.125" stop-color="#90d743"/><stop offset="0.167" stop-color="#77d153"/><stop offset="0.208" stop-color="#60ca60"/><stop offset="0.250" stop-color="#4cc26c"/><stop offset="0.292" stop-color="#3aba76"/><stop offset="0.333" stop-color="#2cb17e"/><stop offset="0.375" stop-color="#22a884"/><stop offset="0.417" stop-color="#1fa088"/><stop offset="0.458" stop-color="#1f968b"/><stop offset="0.500" stop-color="#228d8d"/><stop offset="0.542" stop-color="#25838e"/><stop offset="0.583" stop-color="#297a8e"/><stop offset="0.625" stop-color="#2d718e"/><stop offset="0.667" stop-color="#31678e"/><stop offset="0.708" stop-color="#365d8d"/><stop offset="0.750" stop-color="#3b528b"/><stop offset="0.792" stop-color="#3f4788"/><stop offset="0.833" stop-color="#443b84"/><stop offset="0.875" stop-color="#472f7d"/><stop offset="0.917" stop-color="#482374"/><stop offset="0.958" stop-color="#481769"/><stop offset="1.000" stop-color="#46085c"/></linearGradient></defs>
<rect x="1025.6" y="303.2" width="8.2" height="138.6" fill="url(#cbF)" stroke="#555" stroke-width="0.7"/>
<line x1="1033.80" y1="335.49" x2="1035.60" y2="335.49" stroke="#555" stroke-width="0.6" />
<line x1="1033.80" y1="327.36" x2="1035.60" y2="327.36" stroke="#555" stroke-width="0.6" />
<line x1="1033.80" y1="321.58" x2="1035.60" y2="321.58" stroke="#555" stroke-width="0.6" />
<line x1="1033.80" y1="317.11" x2="1035.60" y2="317.11" stroke="#555" stroke-width="0.6" />
<line x1="1033.80" y1="313.45" x2="1035.60" y2="313.45" stroke="#555" stroke-width="0.6" />
<line x1="1033.80" y1="310.36" x2="1035.60" y2="310.36" stroke="#555" stroke-width="0.6" />
<line x1="1033.80" y1="307.68" x2="1035.60" y2="307.68" stroke="#555" stroke-width="0.6" />
<line x1="1033.80" y1="305.31" x2="1035.60" y2="305.31" stroke="#555" stroke-width="0.6" />
<line x1="1033.80" y1="381.69" x2="1035.60" y2="381.69" stroke="#555" stroke-width="0.6" />
<line x1="1033.80" y1="373.56" x2="1035.60" y2="373.56" stroke="#555" stroke-width="0.6" />
<line x1="1033.80" y1="367.78" x2="1035.60" y2="367.78" stroke="#555" stroke-width="0.6" />
<line x1="1033.80" y1="363.31" x2="1035.60" y2="363.31" stroke="#555" stroke-width="0.6" />
<line x1="1033.80" y1="359.65" x2="1035.60" y2="359.65" stroke="#555" stroke-width="0.6" />
<line x1="1033.80" y1="356.56" x2="1035.60" y2="356.56" stroke="#555" stroke-width="0.6" />
<line x1="1033.80" y1="353.88" x2="1035.60" y2="353.88" stroke="#555" stroke-width="0.6" />
<line x1="1033.80" y1="351.51" x2="1035.60" y2="351.51" stroke="#555" stroke-width="0.6" />
<line x1="1033.80" y1="427.89" x2="1035.60" y2="427.89" stroke="#555" stroke-width="0.6" />
<line x1="1033.80" y1="419.76" x2="1035.60" y2="419.76" stroke="#555" stroke-width="0.6" />
<line x1="1033.80" y1="413.98" x2="1035.60" y2="413.98" stroke="#555" stroke-width="0.6" />
<line x1="1033.80" y1="409.51" x2="1035.60" y2="409.51" stroke="#555" stroke-width="0.6" />
<line x1="1033.80" y1="405.85" x2="1035.60" y2="405.85" stroke="#555" stroke-width="0.6" />
<line x1="1033.80" y1="402.76" x2="1035.60" y2="402.76" stroke="#555" stroke-width="0.6" />
<line x1="1033.80" y1="400.08" x2="1035.60" y2="400.08" stroke="#555" stroke-width="0.6" />
<line x1="1033.80" y1="397.71" x2="1035.60" y2="397.71" stroke="#555" stroke-width="0.6" />
<line x1="1033.80" y1="303.20" x2="1036.80" y2="303.20" stroke="#555" stroke-width="0.8" />
<text x="1039" y="307.0" font-size="9.6" fill="#555" font-family='"DejaVu Sans", "Liberation Sans", sans-serif'>10<tspan dy="-4" font-size="6.8">−3</tspan></text>
<line x1="1033.80" y1="349.40" x2="1036.80" y2="349.40" stroke="#555" stroke-width="0.8" />
<text x="1039" y="353.2" font-size="9.6" fill="#555" font-family='"DejaVu Sans", "Liberation Sans", sans-serif'>10<tspan dy="-4" font-size="6.8">−2</tspan></text>
<line x1="1033.80" y1="395.60" x2="1036.80" y2="395.60" stroke="#555" stroke-width="0.8" />
<text x="1039" y="399.4" font-size="9.6" fill="#555" font-family='"DejaVu Sans", "Liberation Sans", sans-serif'>10<tspan dy="-4" font-size="6.8">−1</tspan></text>
<line x1="1033.80" y1="441.80" x2="1036.80" y2="441.80" stroke="#555" stroke-width="0.8" />
<text x="1039" y="445.6" font-size="9.6" fill="#555" font-family='"DejaVu Sans", "Liberation Sans", sans-serif'>10<tspan dy="-4" font-size="6.8">0</tspan></text>
<text transform="translate(1062.5,376.5) rotate(90)" font-size="14" fill="#222" stroke="#222" stroke-width="0.22" text-anchor="middle" font-family='"Liberation Sans", "DejaVu Sans", sans-serif' textLength="93" lengthAdjust="spacingAndGlyphs">Frac. data kept</text>
</svg>
</body></html>
